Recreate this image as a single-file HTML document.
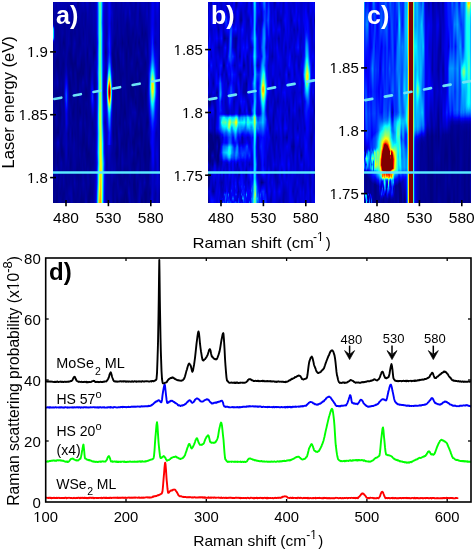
<!DOCTYPE html>
<html><head><meta charset="utf-8"><style>
html,body{margin:0;padding:0;background:#fff;width:475px;height:551px;overflow:hidden}
svg{display:block;position:absolute;left:0;top:0;will-change:transform}
text{font-family:"Liberation Sans",sans-serif}
i{position:absolute;top:2px;width:1px;height:201px}
</style></head><body>
<i style="left:53px;background:linear-gradient(#0000b5 0,#000089 10.5px,#0000a5 21.5px,#0000b3 22.5px,#0000d6 23.5px,#0018ff 24.5px,#006aff 25.5px,#00abff 26.5px,#00ceff 27.5px,#00e1ff 29.5px,#00ddff 34.5px,#00ceff 35.5px,#00abff 36.5px,#0069ff 37.5px,#0016ff 38.5px,#0000d4 39.5px,#0000b1 40.5px,#000095 42.5px,#000080 49.5px,#00008d 58.5px,#00008e 66.5px,#00008f 83.5px,#000089 91.5px,#0000a9 100.5px,#000080 118.5px,#000086 146.5px,#00008d 162.5px,#0000a0 171.5px,#00008e 181.5px,#000094 192.5px,#000085 100%)"></i><i style="left:54px;background:linear-gradient(#0000ba 0,#0000a7 13.5px,#000093 21.5px,#00009e 23.5px,#0000d0 26.5px,#0000dc 29.5px,#0000df 35.5px,#0000ca 37.5px,#0000ab 39.5px,#00009d 44.5px,#000094 63.5px,#00008a 71.5px,#0000a4 81.5px,#000092 92.5px,#000092 111.5px,#000080 119.5px,#000083 134.5px,#000092 141.5px,#000080 149.5px,#000085 163.5px,#000091 172.5px,#00008e 184.5px,#000091 100%)"></i><i style="left:55px;background:linear-gradient(#0000af 0,#0000a4 13.5px,#000093 24.5px,#000097 34.5px,#0000a9 51.5px,#00008a 61.5px,#0000a2 81.5px,#00008a 92.5px,#00008d 101.5px,#0000a6 111.5px,#000085 131.5px,#00009c 141.5px,#000088 151.5px,#00009d 171.5px,#000089 181.5px,#000094 192.5px,#00008c 100%)"></i><i style="left:56px;background:linear-gradient(#0000a8 0,#000091 32.5px,#0000ac 50.5px,#000080 59.5px,#000088 64.5px,#0000a2 71.5px,#0000a5 81.5px,#000087 92.5px,#000088 101.5px,#0000a7 111.5px,#00009a 123.5px,#000088 130.5px,#0000a9 141.5px,#000094 155.5px,#000094 161.5px,#0000b0 170.5px,#000090 183.5px,#000081 100%)"></i><i style="left:57px;background:linear-gradient(#0000b3 0,#00008a 31.5px,#0000a1 42.5px,#00009d 51.5px,#000080 58.5px,#000085 65.5px,#0000b4 80.5px,#000089 91.5px,#000098 121.5px,#000080 130.5px,#0000bb 140.5px,#000090 152.5px,#000083 160.5px,#0000af 170.5px,#00008d 183.5px,#000087 195.5px,#00008a 100%)"></i><i style="left:58px;background:linear-gradient(#0000b5 0,#00008d 28.5px,#00008f 34.5px,#00009b 44.5px,#000098 51.5px,#000080 59.5px,#000089 69.5px,#00009f 81.5px,#00008a 91.5px,#000092 102.5px,#000087 112.5px,#00008f 121.5px,#000080 130.5px,#0000bf 140.5px,#00008c 151.5px,#000090 166.5px,#00008f 177.5px,#00009a 100%)"></i><i style="left:59px;background:linear-gradient(#0000ae 0,#0000a7 15.5px,#00008d 34.5px,#000093 53.5px,#00008b 65.5px,#00008c 85.5px,#000084 104.5px,#000084 115.5px,#00009c 135.5px,#0000a5 141.5px,#000092 151.5px,#000097 162.5px,#00008a 171.5px,#00009d 181.5px,#00008d 191.5px,#0000a2 100%)"></i><i style="left:60px;background:linear-gradient(#0000b3 0,#00008e 43.5px,#000097 62.5px,#00008e 72.5px,#000097 81.5px,#00008a 92.5px,#00008d 102.5px,#000081 111.5px,#00009e 131.5px,#00008c 142.5px,#000092 152.5px,#0000a5 161.5px,#00009c 174.5px,#00009b 182.5px,#00008a 191.5px,#0000a0 100%)"></i><i style="left:61px;background:linear-gradient(#0000b6 0,#0000a1 15.5px,#00009f 33.5px,#000094 47.5px,#000091 63.5px,#000088 71.5px,#00009c 81.5px,#00008e 91.5px,#00009e 101.5px,#000093 111.5px,#0000a0 122.5px,#000080 149.5px,#000086 153.5px,#0000a9 160.5px,#00008d 186.5px,#000092 100%)"></i><i style="left:62px;background:linear-gradient(#0000b3 0,#000099 20.5px,#0000a5 31.5px,#000091 41.5px,#000097 52.5px,#000089 62.5px,#000093 82.5px,#000086 91.5px,#00009e 105.5px,#0000a2 122.5px,#000095 132.5px,#000099 141.5px,#000080 149.5px,#000086 154.5px,#00009d 161.5px,#000090 187.5px,#000084 100%)"></i><i style="left:63px;background:linear-gradient(#0000b3 0,#000098 22.5px,#00009d 31.5px,#000082 40.5px,#0000a0 50.5px,#000085 61.5px,#000097 78.5px,#00008f 94.5px,#00009b 113.5px,#00009a 123.5px,#0000a8 141.5px,#000088 151.5px,#000098 165.5px,#0000a5 177.5px,#0000a0 182.5px,#000088 191.5px,#000089 100%)"></i><i style="left:64px;background:linear-gradient(#0000b2 0,#000094 22.5px,#000094 32.5px,#000085 41.5px,#00009a 51.5px,#00008f 62.5px,#0000a4 75.5px,#0000c5 91.5px,#0000a6 106.5px,#000099 121.5px,#0000ae 133.5px,#0000ab 142.5px,#000095 152.5px,#00009c 181.5px,#000089 191.5px,#000095 100%)"></i><i style="left:65px;background:linear-gradient(#0000ad 0,#0000b2 11.5px,#000099 22.5px,#000091 43.5px,#0000ac 69.5px,#0000eb 82.5px,#0006ff 86.5px,#0025ff 91.5px,#0021ff 96.5px,#0000fe 101.5px,#0000d0 111.5px,#0000bc 125.5px,#0000b3 133.5px,#0000b0 151.5px,#00008f 175.5px,#000099 100%)"></i><i style="left:66px;background:linear-gradient(#0000ac 0,#0000b6 11.5px,#0000a1 22.5px,#0000a0 44.5px,#0000a3 54.5px,#0000a4 62.5px,#0000c4 72.5px,#0000ff 81.5px,#0051ff 93.5px,#004bff 97.5px,#0000fe 107.5px,#0000ea 111.5px,#0000e2 121.5px,#0000b6 131.5px,#0000ba 151.5px,#000099 165.5px,#00008a 181.5px,#0000a2 197.5px,#0000a4 100%)"></i><i style="left:67px;background:linear-gradient(#0000af 0,#000097 12.5px,#0000a5 45.5px,#000096 56.5px,#000091 62.5px,#0000a8 72.5px,#0002ff 91.5px,#0003ff 97.5px,#0000c6 111.5px,#0000c7 121.5px,#0000a0 131.5px,#0000a8 142.5px,#00009e 159.5px,#000090 182.5px,#0000a1 100%)"></i><i style="left:68px;background:linear-gradient(#0000b3 0,#00008c 11.5px,#0000a7 36.5px,#0000a8 41.5px,#00008d 51.5px,#000096 81.5px,#0000ba 91.5px,#0000a3 113.5px,#0000a5 121.5px,#00008d 131.5px,#00009c 141.5px,#00008d 151.5px,#0000a2 161.5px,#000090 176.5px,#000095 183.5px,#0000a2 191.5px,#000091 100%)"></i><i style="left:69px;background:linear-gradient(#0000b1 0,#00009f 33.5px,#0000a0 41.5px,#000085 51.5px,#000094 71.5px,#000080 81.5px,#00009f 104.5px,#000096 119.5px,#00009b 134.5px,#000090 180.5px,#0000a7 191.5px,#000091 100%)"></i><i style="left:70px;background:linear-gradient(#0000a8 0,#0000bb 11.5px,#00008c 31.5px,#000095 41.5px,#000080 52.5px,#000087 62.5px,#0000a0 70.5px,#000083 82.5px,#000085 93.5px,#0000a5 111.5px,#000094 121.5px,#0000ab 131.5px,#000085 162.5px,#00009c 183.5px,#0000ac 191.5px,#00009d 100%)"></i><i style="left:71px;background:linear-gradient(#0000a4 0,#00009d 14.5px,#00008b 33.5px,#00008b 44.5px,#000080 61.5px,#00009d 71.5px,#000089 91.5px,#000099 115.5px,#000094 132.5px,#00009c 142.5px,#00008b 160.5px,#000099 182.5px,#0000ac 192.5px,#0000a9 100%)"></i><i style="left:72px;background:linear-gradient(#0000a8 0,#00008d 22.5px,#000097 51.5px,#000080 61.5px,#000096 88.5px,#000093 102.5px,#000084 111.5px,#000097 121.5px,#000084 131.5px,#00009b 143.5px,#000090 179.5px,#0000a1 100%)"></i><i style="left:73px;background:linear-gradient(#0000ac 0,#000095 32.5px,#0000a6 44.5px,#0000a4 51.5px,#000084 62.5px,#000085 73.5px,#00009d 91.5px,#000080 110.5px,#000092 119.5px,#000097 133.5px,#0000a4 145.5px,#000097 173.5px,#000098 182.5px,#000088 191.5px,#000093 100%)"></i><i style="left:74px;background:linear-gradient(#0000b2 0,#00009e 14.5px,#000092 26.5px,#00008f 31.5px,#0000ae 41.5px,#000094 54.5px,#000083 61.5px,#000096 71.5px,#00008f 81.5px,#0000a0 91.5px,#000088 102.5px,#00008e 114.5px,#000096 122.5px,#000091 131.5px,#0000a6 141.5px,#00009d 153.5px,#00009f 162.5px,#000092 171.5px,#0000ae 180.5px,#00008d 191.5px,#00008f 100%)"></i><i style="left:75px;background:linear-gradient(#0000bf 0,#00009b 12.5px,#00008f 31.5px,#0000a3 41.5px,#00008c 54.5px,#000080 61.5px,#00009b 71.5px,#00009a 93.5px,#000090 102.5px,#000098 122.5px,#00008e 132.5px,#000099 143.5px,#000099 154.5px,#00009d 162.5px,#000090 171.5px,#0000a2 181.5px,#00008a 100%)"></i><i style="left:76px;background:linear-gradient(#0000b1 0,#00009b 25.5px,#00008a 68.5px,#000099 82.5px,#00008f 104.5px,#000097 145.5px,#000098 153.5px,#000089 171.5px,#000098 182.5px,#00008d 100%)"></i><i style="left:77px;background:linear-gradient(#000090 0,#0000a7 11.5px,#000098 22.5px,#00009b 32.5px,#00008f 44.5px,#000098 54.5px,#0000a1 61.5px,#000080 71.5px,#000088 84.5px,#000086 105.5px,#00008f 135.5px,#000092 145.5px,#000096 152.5px,#000083 171.5px,#000098 181.5px,#00008b 192.5px,#000094 100%)"></i><i style="left:78px;background:linear-gradient(#00008e 0,#0000a5 11.5px,#000093 22.5px,#000093 33.5px,#00008c 43.5px,#00009e 61.5px,#000082 71.5px,#00008b 94.5px,#00008b 113.5px,#00008e 136.5px,#000091 153.5px,#000087 171.5px,#00008f 183.5px,#00008f 194.5px,#000096 100%)"></i><i style="left:79px;background:linear-gradient(#0000a2 0,#0000a3 13.5px,#000087 40.5px,#00009d 53.5px,#00009a 61.5px,#000080 71.5px,#0000a4 91.5px,#000081 109.5px,#00009f 121.5px,#000092 142.5px,#00009d 151.5px,#000088 162.5px,#000095 186.5px,#000097 194.5px,#000091 100%)"></i><i style="left:80px;background:linear-gradient(#0000ab 0,#000090 41.5px,#0000a3 51.5px,#000080 69.5px,#000093 81.5px,#0000a6 91.5px,#000082 110.5px,#0000ab 120.5px,#00008e 141.5px,#000099 152.5px,#00008a 172.5px,#000098 191.5px,#000081 100%)"></i><i style="left:81px;background:linear-gradient(#0000b0 0,#00009b 14.5px,#00009a 51.5px,#000080 62.5px,#000085 74.5px,#000098 82.5px,#000092 111.5px,#0000a7 121.5px,#00008b 142.5px,#000092 163.5px,#00008d 172.5px,#000097 182.5px,#000080 100%)"></i><i style="left:82px;background:linear-gradient(#0000bc 0,#00009b 11.5px,#000098 33.5px,#0000a3 41.5px,#00008c 57.5px,#000080 71.5px,#0000a8 80.5px,#000090 92.5px,#000096 117.5px,#00008a 133.5px,#000084 142.5px,#000096 161.5px,#00009e 176.5px,#0000a0 182.5px,#000081 100%)"></i><i style="left:83px;background:linear-gradient(#0000bf 0,#00009d 11.5px,#0000a3 21.5px,#00008d 31.5px,#0000a0 41.5px,#00008b 57.5px,#000080 71.5px,#0000ab 80.5px,#00008c 92.5px,#00008e 123.5px,#000080 140.5px,#000097 151.5px,#00008e 163.5px,#00009f 175.5px,#0000a9 181.5px,#000088 197.5px,#000084 100%)"></i><i style="left:84px;background:linear-gradient(#0000ac 0,#00009c 16.5px,#00009f 34.5px,#0000a5 42.5px,#000087 62.5px,#00009b 81.5px,#00008d 92.5px,#000091 108.5px,#00009f 121.5px,#000086 132.5px,#000088 142.5px,#00009a 151.5px,#00008b 171.5px,#0000a0 181.5px,#000091 194.5px,#000091 100%)"></i><i style="left:85px;background:linear-gradient(#0000af 0,#000095 13.5px,#000094 22.5px,#0000a6 35.5px,#0000a3 50.5px,#000096 62.5px,#00009b 76.5px,#00008b 86.5px,#000083 91.5px,#000097 101.5px,#00008d 111.5px,#00009f 121.5px,#000089 146.5px,#00008f 154.5px,#00009a 161.5px,#00008d 172.5px,#0000a0 195.5px,#0000a9 100%)"></i><i style="left:86px;background:linear-gradient(#0000c4 0,#00009e 11.5px,#00009e 43.5px,#000094 54.5px,#0000a4 79.5px,#000086 87.5px,#000080 92.5px,#000099 101.5px,#000087 111.5px,#000097 130.5px,#000080 147.5px,#000089 157.5px,#000093 173.5px,#000090 186.5px,#0000a7 100%)"></i><i style="left:87px;background:linear-gradient(#0000c2 0,#00009f 24.5px,#0000a2 41.5px,#000084 51.5px,#000093 65.5px,#00009b 81.5px,#000086 91.5px,#00009a 101.5px,#00008e 114.5px,#000096 133.5px,#000081 153.5px,#00008b 162.5px,#0000a2 171.5px,#00008e 194.5px,#00008f 100%)"></i><i style="left:88px;background:linear-gradient(#0000b6 0,#000099 31.5px,#00009a 45.5px,#00008c 78.5px,#000096 111.5px,#000094 122.5px,#0000a3 135.5px,#0000a1 141.5px,#000080 151.5px,#000092 165.5px,#0000a0 176.5px,#00009c 182.5px,#000083 194.5px,#000080 100%)"></i><i style="left:89px;background:linear-gradient(#0000a5 0,#0000a5 14.5px,#000093 39.5px,#0000a8 51.5px,#000080 71.5px,#00009b 97.5px,#000094 115.5px,#0000a5 133.5px,#00009c 142.5px,#000084 151.5px,#000094 181.5px,#000080 191.5px,#000080 100%)"></i><i style="left:90px;background:linear-gradient(#00009e 0,#0000a9 12.5px,#000095 40.5px,#0000a7 51.5px,#00008b 68.5px,#000098 76.5px,#0000bc 93.5px,#000092 111.5px,#0000a1 132.5px,#00008b 162.5px,#000090 176.5px,#000084 191.5px,#000096 100%)"></i><i style="left:91px;background:linear-gradient(#0000ac 0,#00009b 42.5px,#0000a3 52.5px,#00009c 63.5px,#0000b2 74.5px,#0000ec 88.5px,#0003ff 92.5px,#0000fb 97.5px,#0000ba 107.5px,#000094 120.5px,#00009c 134.5px,#000096 154.5px,#000091 162.5px,#00009b 172.5px,#00008a 191.5px,#0000a0 100%)"></i><i style="left:92px;background:linear-gradient(#0000b1 0,#0000a6 25.5px,#0000a3 33.5px,#000098 45.5px,#0000a3 63.5px,#0000d4 81.5px,#0003ff 88.5px,#002aff 93.5px,#002bff 96.5px,#0000fd 102.5px,#0000d1 109.5px,#00008e 120.5px,#0000a1 147.5px,#000091 161.5px,#0000a5 171.5px,#00008b 191.5px,#00009b 100%)"></i><i style="left:93px;background:linear-gradient(#0000a9 0,#0000b3 12.5px,#0000ab 27.5px,#000093 43.5px,#000085 51.5px,#0000a6 65.5px,#0000ac 73.5px,#0000ad 81.5px,#0000de 91.5px,#0000f5 96.5px,#0000ea 101.5px,#0000a0 118.5px,#000090 131.5px,#0000a5 141.5px,#000094 160.5px,#0000a5 171.5px,#000097 183.5px,#00009f 100%)"></i><i style="left:94px;background:linear-gradient(#0000b0 0,#0000b0 14.5px,#0000a0 41.5px,#000080 50.5px,#0000ac 60.5px,#000094 84.5px,#00009a 91.5px,#0000bf 100.5px,#0000a6 112.5px,#0000a5 122.5px,#000094 131.5px,#0000a1 142.5px,#0000a0 155.5px,#0000ae 195.5px,#0000b4 100%)"></i><i style="left:95px;background:linear-gradient(#0000bf 0,#0000ac 30.5px,#0000a5 43.5px,#000095 50.5px,#0000bb 60.5px,#0000a2 72.5px,#0000a2 92.5px,#0000b2 101.5px,#0000ad 113.5px,#0000b2 122.5px,#0000a6 131.5px,#0000b4 144.5px,#0000b5 163.5px,#0000b4 172.5px,#0000c7 181.5px,#0000c4 192.5px,#0000d6 100%)"></i><i style="left:96px;background:linear-gradient(#0000d8 0,#0000d3 18.5px,#0000cb 33.5px,#0000c0 44.5px,#0000cb 56.5px,#0000d0 64.5px,#0000bd 81.5px,#0000d0 96.5px,#0000d6 125.5px,#0000d7 133.5px,#0000ef 151.5px,#0000dd 162.5px,#0000f1 173.5px,#0004ff 186.5px,#0022ff 100%)"></i><i style="left:97px;background:linear-gradient(#0027ff 0,#0020ff 16.5px,#0022ff 31.5px,#0005ff 40.5px,#0018ff 52.5px,#0015ff 61.5px,#002dff 70.5px,#000dff 81.5px,#0027ff 103.5px,#0042ff 120.5px,#0033ff 131.5px,#0053ff 146.5px,#005cff 150.5px,#0032ff 160.5px,#004fff 166.5px,#0069ff 170.5px,#0064ff 180.5px,#00aaff 191.5px,#00caff 100%)"></i><i style="left:98px;background:linear-gradient(#00baff 0,#00a2ff 11.5px,#00a9ff 31.5px,#0094ff 40.5px,#00adff 51.5px,#00acff 61.5px,#00c5ff 71.5px,#00b5ff 82.5px,#00c0ff 100.5px,#00eaff 112.5px,#00ecff 121.5px,#00d5ff 131.5px,#00f8ff 150.5px,#00d8ff 161.5px,#00efff 166.5px,#09fff6 170.5px,#2bffd4 181.5px,#a9ff56 100%)"></i><i style="left:99px;background:linear-gradient(#48ffb7 0,#36ffc9 12.5px,#3bffc4 41.5px,#4bffb4 53.5px,#52ffad 65.5px,#87ff78 102.5px,#a2ff5d 112.5px,#9fff60 121.5px,#7fff80 130.5px,#a7ff58 146.5px,#a7ff58 152.5px,#96ff69 162.5px,#fffe00 187.5px,#ffad00 100%)"></i><i style="left:100px;background:linear-gradient(#59ffa6 0,#55ffaa 25.5px,#6aff95 47.5px,#68ff97 53.5px,#5dffa2 61.5px,#78ff87 72.5px,#9eff61 81.5px,#aaff55 93.5px,#d1ff2e 114.5px,#d4ff2b 124.5px,#d2ff2d 131.5px,#f6ff09 142.5px,#fff900 163.5px,#ff9f00 100%)"></i><i style="left:101px;background:linear-gradient(#00e4ff 0,#00deff 12.5px,#00c7ff 20.5px,#00ecff 31.5px,#00e4ff 43.5px,#00ebff 64.5px,#04fffb 74.5px,#1affe5 81.5px,#23ffdc 92.5px,#3effc1 104.5px,#53ffac 120.5px,#acff53 141.5px,#bcff43 152.5px,#e1ff1e 164.5px,#e3ff1c 191.5px,#cdff32 100%)"></i><i style="left:102px;background:linear-gradient(#005aff 0,#0037ff 21.5px,#0053ff 31.5px,#0049ff 51.5px,#005dff 65.5px,#0059ff 90.5px,#007fff 103.5px,#0091ff 120.5px,#00ffff 141.5px,#12ffed 151.5px,#4dffb2 162.5px,#38ffc7 175.5px,#1dffe2 191.5px,#00ffff 100%)"></i><i style="left:103px;background:linear-gradient(#0008ff 0,#0000ef 10.5px,#0000ed 36.5px,#0000f9 54.5px,#0000fd 66.5px,#0000df 90.5px,#0005ff 99.5px,#0015ff 111.5px,#000eff 121.5px,#004dff 136.5px,#0062ff 141.5px,#0066ff 150.5px,#00a8ff 161.5px,#0098ff 167.5px,#0076ff 184.5px,#005bff 100%)"></i><i style="left:104px;background:linear-gradient(#0000df 0,#0000c6 12.5px,#0000bd 45.5px,#0000b9 51.5px,#0000d2 61.5px,#0000b0 90.5px,#0000dc 102.5px,#0000e6 110.5px,#0000ba 120.5px,#0000e5 131.5px,#0000fb 151.5px,#002cff 160.5px,#000bff 174.5px,#0000f7 190.5px,#0000f9 100%)"></i><i style="left:105px;background:linear-gradient(#0000c9 0,#0000b4 23.5px,#0000b1 34.5px,#0000a1 43.5px,#00008a 50.5px,#0000b5 60.5px,#0000a6 71.5px,#0000b9 82.5px,#0000b2 91.5px,#0000d8 110.5px,#0000a5 120.5px,#0000c3 131.5px,#0000b8 142.5px,#0000d0 162.5px,#0000c3 172.5px,#0000c8 181.5px,#0000b5 191.5px,#0000c2 100%)"></i><i style="left:106px;background:linear-gradient(#0000c2 0,#0000b4 21.5px,#0000a2 31.5px,#0000b0 41.5px,#000098 50.5px,#0000b7 61.5px,#0000ab 70.5px,#0001ff 81.5px,#0019ff 88.5px,#000bff 95.5px,#0000f7 99.5px,#0000e2 109.5px,#0000bc 127.5px,#0000b8 149.5px,#00009e 161.5px,#0000b3 181.5px,#0000a4 193.5px,#0000a4 100%)"></i><i style="left:107px;background:linear-gradient(#0000ce 0,#0000c4 22.5px,#0000b6 31.5px,#0000d2 41.5px,#0000c6 51.5px,#0002ff 66.5px,#0029ff 71.5px,#0086ff 77.5px,#00f5ff 83.5px,#16ffe9 85.5px,#35ffca 88.5px,#34ffcb 91.5px,#15ffea 94.5px,#06fff9 95.5px,#00d0ff 98.5px,#0061ff 105.5px,#0026ff 111.5px,#0000fd 121.5px,#0000cf 130.5px,#0000d6 142.5px,#0000c6 143.5px,#0000b5 153.5px,#00009f 161.5px,#0000aa 191.5px,#000093 100%)"></i><i style="left:108px;background:linear-gradient(#0000ea 0,#0000e4 22.5px,#0004ff 37.5px,#000dff 41.5px,#0000fa 49.5px,#000aff 53.5px,#003bff 60.5px,#008bff 66.5px,#00feff 72.5px,#67ff98 76.5px,#eaff15 80.5px,#fff200 81.5px,#ff7400 85.5px,#ff4800 87.5px,#ff3500 89.5px,#ff3d00 91.5px,#ff5e00 93.5px,#ffb300 96.5px,#fff600 98.5px,#c5ff3a 100.5px,#45ffba 104.5px,#10ffef 106.5px,#00f7ff 107.5px,#00b9ff 110.5px,#0077ff 116.5px,#0048ff 122.5px,#0007ff 130.5px,#000cff 141.5px,#0008ff 142.5px,#0000dd 143.5px,#0000be 155.5px,#0000a5 172.5px,#0000a8 192.5px,#00009a 100%)"></i><i style="left:109px;background:linear-gradient(#0000ff 0,#0000f4 21.5px,#0008ff 29.5px,#002bff 41.5px,#0023ff 50.5px,#005cff 59.5px,#00a2ff 64.5px,#00f0ff 68.5px,#09fff6 69.5px,#87ff78 74.5px,#e9ff16 77.5px,#ffef00 78.5px,#ff2100 83.5px,#f80000 84.5px,#b40000 86.5px,#8a0000 88.5px,#800000 90.5px,#990000 92.5px,#d00000 94.5px,#f40000 95.5px,#ff1b00 96.5px,#ffeb00 101.5px,#eaff15 102.5px,#5cffa3 106.5px,#09fff6 109.5px,#00e0ff 111.5px,#00a5ff 116.5px,#007cff 121.5px,#0028ff 130.5px,#0019ff 141.5px,#0014ff 142.5px,#0000dc 143.5px,#0000c0 152.5px,#0000b2 164.5px,#0000a3 175.5px,#0000ae 100%)"></i><i style="left:110px;background:linear-gradient(#0000e1 0,#0000e9 11.5px,#0000d5 21.5px,#0000fb 42.5px,#0005ff 52.5px,#002fff 60.5px,#007fff 67.5px,#00e5ff 73.5px,#00faff 74.5px,#2affd5 76.5px,#9aff65 80.5px,#fffc00 83.5px,#ffa200 86.5px,#ff7c00 88.5px,#ff6e00 90.5px,#ff8500 92.5px,#ffcf00 95.5px,#ffee00 96.5px,#f0ff0f 97.5px,#30ffcf 103.5px,#00f9ff 105.5px,#008fff 110.5px,#0056ff 116.5px,#000dff 130.5px,#0000f9 135.5px,#0000e5 142.5px,#0000c1 143.5px,#0000b0 153.5px,#0000a5 171.5px,#00009e 182.5px,#0000b0 100%)"></i><i style="left:111px;background:linear-gradient(#0000b5 0,#0000d0 10.5px,#0000b2 21.5px,#0000c4 41.5px,#0000b1 51.5px,#0000f0 66.5px,#0005ff 69.5px,#004bff 76.5px,#00ddff 86.5px,#00f4ff 89.5px,#00eaff 92.5px,#00a7ff 97.5px,#0050ff 103.5px,#000fff 110.5px,#0000f9 113.5px,#0000d7 121.5px,#0000c1 141.5px,#0000be 142.5px,#0000b1 143.5px,#0000a3 152.5px,#0000b1 171.5px,#00009f 183.5px,#0000a6 196.5px,#0000ac 100%)"></i><i style="left:112px;background:linear-gradient(#0000aa 0,#0000c2 11.5px,#0000aa 35.5px,#0000a8 41.5px,#000088 51.5px,#000091 61.5px,#0000c0 71.5px,#0000e5 83.5px,#0000f5 90.5px,#0000bf 105.5px,#000098 130.5px,#0000aa 141.5px,#00009c 151.5px,#0000b4 171.5px,#000094 185.5px,#000091 193.5px,#000099 100%)"></i><i style="left:113px;background:linear-gradient(#0000b0 0,#0000aa 16.5px,#0000a4 32.5px,#000080 55.5px,#000080 64.5px,#0000a5 70.5px,#000096 81.5px,#0000a5 91.5px,#000095 103.5px,#000094 122.5px,#000084 131.5px,#000099 142.5px,#00009e 155.5px,#0000ac 171.5px,#00008d 181.5px,#00008a 100%)"></i><i style="left:114px;background:linear-gradient(#0000ad 0,#00009b 22.5px,#0000a1 31.5px,#000085 41.5px,#00008d 51.5px,#000080 57.5px,#000084 67.5px,#00008d 71.5px,#000089 83.5px,#000096 114.5px,#000093 132.5px,#00009f 142.5px,#00009a 152.5px,#0000ac 168.5px,#0000a3 173.5px,#00008d 181.5px,#00009a 193.5px,#000099 100%)"></i><i style="left:115px;background:linear-gradient(#0000a1 0,#00009e 28.5px,#000086 41.5px,#00009b 51.5px,#000085 62.5px,#000091 94.5px,#000097 102.5px,#00008b 114.5px,#000091 132.5px,#0000a0 141.5px,#00008c 151.5px,#0000a4 162.5px,#00009f 173.5px,#000092 182.5px,#0000a0 100%)"></i><i style="left:116px;background:linear-gradient(#0000a0 0,#0000a3 13.5px,#000092 38.5px,#000093 75.5px,#000096 102.5px,#000086 111.5px,#000090 121.5px,#000080 131.5px,#00008b 141.5px,#000080 151.5px,#000097 166.5px,#000094 189.5px,#00008a 100%)"></i><i style="left:117px;background:linear-gradient(#0000a9 0,#0000a1 13.5px,#000091 23.5px,#00009b 38.5px,#00009c 41.5px,#000081 51.5px,#00009d 94.5px,#000096 118.5px,#000087 136.5px,#000080 152.5px,#000093 161.5px,#000090 171.5px,#0000a5 181.5px,#00008d 195.5px,#000080 100%)"></i><i style="left:118px;background:linear-gradient(#0000ac 0,#000094 43.5px,#000080 57.5px,#000089 66.5px,#000093 75.5px,#0000a0 96.5px,#000093 121.5px,#0000a9 131.5px,#000090 146.5px,#000092 153.5px,#00009d 161.5px,#00008b 171.5px,#0000a1 184.5px,#00009d 193.5px,#00008e 100%)"></i><i style="left:119px;background:linear-gradient(#0000b2 0,#0000a2 12.5px,#0000a5 29.5px,#000095 42.5px,#00009b 51.5px,#000082 61.5px,#00009e 101.5px,#000088 121.5px,#0000a8 132.5px,#0000a8 143.5px,#00008d 172.5px,#000090 182.5px,#0000a4 191.5px,#000095 100%)"></i><i style="left:120px;background:linear-gradient(#0000af 0,#00009c 12.5px,#00009b 33.5px,#000094 41.5px,#0000a8 51.5px,#000088 72.5px,#00008d 114.5px,#000089 121.5px,#00009d 132.5px,#000090 159.5px,#000087 181.5px,#0000a5 190.5px,#000087 100%)"></i><i style="left:121px;background:linear-gradient(#0000a3 0,#000096 30.5px,#00008d 41.5px,#00009f 52.5px,#00008b 73.5px,#00008d 93.5px,#000086 102.5px,#000094 116.5px,#00009b 131.5px,#000088 141.5px,#0000a2 155.5px,#0000a2 162.5px,#000089 177.5px,#00008b 182.5px,#0000a0 190.5px,#000080 100%)"></i><i style="left:122px;background:linear-gradient(#0000af 0,#00009f 15.5px,#00009b 31.5px,#000081 40.5px,#0000a1 52.5px,#00009f 62.5px,#00008c 71.5px,#0000a1 82.5px,#000099 94.5px,#00008e 103.5px,#000095 132.5px,#000088 141.5px,#0000a9 153.5px,#0000ae 161.5px,#000089 180.5px,#000096 191.5px,#000080 100%)"></i><i style="left:123px;background:linear-gradient(#0000ba 0,#00009c 12.5px,#00009f 31.5px,#00008d 41.5px,#0000a6 52.5px,#0000a8 61.5px,#00008e 71.5px,#00009f 82.5px,#000089 112.5px,#000090 123.5px,#000089 142.5px,#0000a5 160.5px,#00008e 172.5px,#00008f 191.5px,#000080 199.5px,#000080 100%)"></i><i style="left:124px;background:linear-gradient(#0000ae 0,#0000a7 15.5px,#00008f 42.5px,#000099 58.5px,#000096 73.5px,#00009d 84.5px,#000080 110.5px,#00008b 115.5px,#00009f 120.5px,#000088 132.5px,#000095 154.5px,#00009c 161.5px,#000085 171.5px,#000097 181.5px,#000082 193.5px,#000080 100%)"></i><i style="left:125px;background:linear-gradient(#0000a9 0,#0000b7 11.5px,#000099 26.5px,#00008a 54.5px,#00009f 92.5px,#000081 111.5px,#00009b 121.5px,#000085 143.5px,#000091 154.5px,#00009c 161.5px,#000088 171.5px,#00009d 180.5px,#000080 190.5px,#00008d 100%)"></i><i style="left:126px;background:linear-gradient(#0000b3 0,#0000b0 11.5px,#000091 22.5px,#000091 34.5px,#000097 41.5px,#000081 51.5px,#00008c 72.5px,#000090 83.5px,#00009c 93.5px,#000091 114.5px,#00008f 129.5px,#000080 142.5px,#00009c 161.5px,#00008b 171.5px,#000096 181.5px,#000080 193.5px,#000080 100%)"></i><i style="left:127px;background:linear-gradient(#0000b9 0,#00008b 23.5px,#00008d 45.5px,#00008d 66.5px,#00008e 94.5px,#000093 105.5px,#000098 117.5px,#000096 123.5px,#000089 132.5px,#00009b 161.5px,#000089 171.5px,#000094 184.5px,#00008d 192.5px,#000080 199.5px,#000080 100%)"></i><i style="left:128px;background:linear-gradient(#0000b7 0,#0000a2 14.5px,#000092 22.5px,#00008d 32.5px,#000080 40.5px,#00009c 51.5px,#000091 62.5px,#000096 73.5px,#000087 92.5px,#00009e 120.5px,#000087 131.5px,#0000a1 142.5px,#00009d 162.5px,#00008e 172.5px,#00009b 183.5px,#0000ae 190.5px,#00008c 100%)"></i><i style="left:129px;background:linear-gradient(#0000a8 0,#0000c3 10.5px,#00009a 21.5px,#00008d 35.5px,#000089 43.5px,#000094 66.5px,#00008b 91.5px,#0000a7 121.5px,#000094 133.5px,#00009f 156.5px,#00009e 172.5px,#00008c 180.5px,#0000b2 191.5px,#0000a8 100%)"></i><i style="left:130px;background:linear-gradient(#00009e 0,#0000b6 11.5px,#000093 34.5px,#000087 48.5px,#00008b 53.5px,#00009b 61.5px,#000082 87.5px,#00008a 93.5px,#00009d 101.5px,#000099 111.5px,#0000b0 121.5px,#000092 140.5px,#00009d 152.5px,#000098 162.5px,#0000a4 171.5px,#000093 181.5px,#0000a5 197.5px,#0000a7 100%)"></i><i style="left:131px;background:linear-gradient(#0000a4 0,#0000a0 13.5px,#0000a7 21.5px,#000092 34.5px,#000088 51.5px,#0000a5 61.5px,#000089 76.5px,#000080 84.5px,#000084 93.5px,#0000a1 101.5px,#00009d 125.5px,#000098 142.5px,#0000a4 151.5px,#000092 162.5px,#00009a 196.5px,#000099 100%)"></i><i style="left:132px;background:linear-gradient(#0000ad 0,#00009c 11.5px,#0000a5 21.5px,#00008c 31.5px,#000095 43.5px,#000095 52.5px,#0000a4 61.5px,#000082 79.5px,#000082 94.5px,#0000ab 110.5px,#000090 121.5px,#000099 131.5px,#000085 140.5px,#0000a6 150.5px,#00008a 161.5px,#000095 174.5px,#00009b 100%)"></i><i style="left:133px;background:linear-gradient(#0000b5 0,#00009d 11.5px,#0000a3 21.5px,#00008b 31.5px,#00009b 43.5px,#000094 70.5px,#000084 84.5px,#000083 95.5px,#0000ac 110.5px,#00008f 121.5px,#00009a 131.5px,#000080 139.5px,#00008a 146.5px,#000094 151.5px,#000082 161.5px,#000095 171.5px,#000082 182.5px,#00008d 193.5px,#00009e 100%)"></i><i style="left:134px;background:linear-gradient(#0000ac 0,#00009a 12.5px,#00009a 30.5px,#000093 44.5px,#000091 66.5px,#000093 75.5px,#000096 82.5px,#00008a 93.5px,#000094 102.5px,#0000af 110.5px,#00008e 127.5px,#000080 141.5px,#000092 151.5px,#000085 162.5px,#000088 172.5px,#000080 183.5px,#000086 194.5px,#000099 100%)"></i><i style="left:135px;background:linear-gradient(#00009a 0,#00009e 31.5px,#000086 41.5px,#00009a 51.5px,#000089 66.5px,#000098 91.5px,#000080 100.5px,#0000ae 110.5px,#000080 131.5px,#00009d 151.5px,#000089 161.5px,#000093 172.5px,#000080 190.5px,#000093 100%)"></i><i style="left:136px;background:linear-gradient(#00009f 0,#0000ab 20.5px,#000090 35.5px,#000094 44.5px,#00009c 51.5px,#000084 61.5px,#000094 71.5px,#00008a 82.5px,#000091 92.5px,#000087 101.5px,#00009e 111.5px,#000085 124.5px,#000085 132.5px,#000095 144.5px,#00008d 161.5px,#0000a4 171.5px,#000088 192.5px,#000090 100%)"></i><i style="left:137px;background:linear-gradient(#0000b5 0,#0000ae 22.5px,#000099 33.5px,#00009f 51.5px,#000083 60.5px,#0000a1 71.5px,#00008f 84.5px,#000093 106.5px,#000087 132.5px,#000093 141.5px,#000080 151.5px,#0000aa 170.5px,#00008c 181.5px,#00009b 100%)"></i><i style="left:138px;background:linear-gradient(#0000b6 0,#0000a3 23.5px,#0000a2 31.5px,#000089 40.5px,#0000a9 50.5px,#00008b 61.5px,#000093 73.5px,#000087 107.5px,#000089 112.5px,#00009e 121.5px,#000088 131.5px,#000098 141.5px,#000080 150.5px,#00009e 162.5px,#00009d 173.5px,#000095 182.5px,#0000ad 100%)"></i><i style="left:139px;background:linear-gradient(#0000ac 0,#000092 11.5px,#0000a2 31.5px,#000083 40.5px,#0000a0 51.5px,#000093 64.5px,#000085 74.5px,#000086 108.5px,#000097 117.5px,#00009d 121.5px,#00008c 131.5px,#00009d 141.5px,#00008a 151.5px,#000095 162.5px,#00008f 171.5px,#0000a9 182.5px,#0000b6 100%)"></i><i style="left:140px;background:linear-gradient(#0000ae 0,#000093 11.5px,#00009d 32.5px,#000090 45.5px,#000096 53.5px,#0000a3 61.5px,#000088 71.5px,#00008c 82.5px,#000080 92.5px,#000091 112.5px,#000085 130.5px,#000096 141.5px,#00008d 154.5px,#00008a 167.5px,#00008b 171.5px,#0000ac 181.5px,#0000a2 196.5px,#00009c 100%)"></i><i style="left:141px;background:linear-gradient(#0000b5 0,#00009b 13.5px,#00008c 32.5px,#000098 41.5px,#000089 51.5px,#0000a0 61.5px,#00008a 71.5px,#000099 81.5px,#000080 91.5px,#000085 103.5px,#000097 111.5px,#000080 130.5px,#000095 153.5px,#000098 173.5px,#0000a5 190.5px,#000080 199.5px,#000080 100%)"></i><i style="left:142px;background:linear-gradient(#0000ba 0,#000083 31.5px,#00009a 41.5px,#00008a 51.5px,#000098 61.5px,#00008d 71.5px,#00009c 81.5px,#000080 95.5px,#000083 104.5px,#000097 112.5px,#000091 123.5px,#000083 131.5px,#000096 149.5px,#000098 191.5px,#000080 100%)"></i><i style="left:143px;background:linear-gradient(#0000bb 0,#0000a0 18.5px,#000090 33.5px,#000091 49.5px,#00008f 72.5px,#00009e 81.5px,#000085 101.5px,#00009a 116.5px,#000093 143.5px,#000089 151.5px,#00009a 162.5px,#000097 172.5px,#0000a4 181.5px,#00008f 192.5px,#000090 100%)"></i><i style="left:144px;background:linear-gradient(#0000b5 0,#00009b 24.5px,#00008e 33.5px,#00009d 49.5px,#000089 62.5px,#000095 74.5px,#0000a1 81.5px,#000090 94.5px,#00009b 124.5px,#000080 152.5px,#00008f 162.5px,#000091 171.5px,#0000b4 180.5px,#000083 190.5px,#00008b 100%)"></i><i style="left:145px;background:linear-gradient(#0000ae 0,#0000a8 21.5px,#00008a 31.5px,#0000af 48.5px,#0000b0 51.5px,#000086 60.5px,#00009e 78.5px,#000096 83.5px,#000081 91.5px,#000099 112.5px,#000080 154.5px,#00008a 164.5px,#00008f 172.5px,#0000a3 180.5px,#000080 190.5px,#000080 100%)"></i><i style="left:146px;background:linear-gradient(#0000b1 0,#0000bc 11.5px,#000091 32.5px,#00009e 43.5px,#0000b1 50.5px,#000095 61.5px,#00009c 72.5px,#00008d 91.5px,#000097 111.5px,#000084 121.5px,#000090 133.5px,#000088 153.5px,#000091 182.5px,#000081 192.5px,#000086 100%)"></i><i style="left:147px;background:linear-gradient(#0000ae 0,#0000be 11.5px,#0000a7 24.5px,#000093 42.5px,#00009b 55.5px,#0000a4 66.5px,#0000a8 71.5px,#000090 80.5px,#0000af 92.5px,#0000ab 102.5px,#000080 120.5px,#000097 131.5px,#00008c 145.5px,#00008d 175.5px,#00008e 100%)"></i><i style="left:148px;background:linear-gradient(#0000a1 0,#0000af 19.5px,#0000af 39.5px,#0000a7 60.5px,#0000d0 71.5px,#0000cd 81.5px,#0000e0 90.5px,#0000c9 102.5px,#00008f 120.5px,#0000a7 130.5px,#000087 142.5px,#00008b 158.5px,#00008a 173.5px,#000094 183.5px,#000091 100%)"></i><i style="left:149px;background:linear-gradient(#0000ad 0,#0000b5 23.5px,#0000b1 31.5px,#0000c9 41.5px,#0000c8 55.5px,#0000d7 61.5px,#0004ff 67.5px,#0021ff 71.5px,#004aff 84.5px,#0039ff 91.5px,#0000fd 103.5px,#0000be 120.5px,#0000a6 137.5px,#000080 150.5px,#00009b 162.5px,#0000a2 181.5px,#000088 191.5px,#00009b 100%)"></i><i style="left:150px;background:linear-gradient(#0000c1 0,#0000c7 15.5px,#0000cc 29.5px,#0000e4 51.5px,#0005ff 58.5px,#002fff 63.5px,#00c6ff 76.5px,#00f5ff 82.5px,#00f6ff 86.5px,#00b7ff 94.5px,#0037ff 108.5px,#0001ff 116.5px,#0000cb 129.5px,#0000d7 140.5px,#00009b 150.5px,#0000b3 161.5px,#0000aa 172.5px,#0000b0 181.5px,#000091 190.5px,#0000b3 100%)"></i><i style="left:151px;background:linear-gradient(#0000d7 0,#0000e6 24.5px,#0004ff 41.5px,#002aff 52.5px,#0066ff 60.5px,#00c0ff 67.5px,#05fffa 71.5px,#9aff65 79.5px,#b9ff46 82.5px,#bdff42 85.5px,#a8ff57 88.5px,#35ffca 96.5px,#07fff8 99.5px,#00e5ff 101.5px,#007eff 108.5px,#003cff 115.5px,#0001ff 125.5px,#0000eb 131.5px,#0000f2 141.5px,#0000d1 151.5px,#0000cc 162.5px,#0000b8 172.5px,#0000b6 191.5px,#0000d1 100%)"></i><i style="left:152px;background:linear-gradient(#0000ee 0,#0000f0 22.5px,#0008ff 32.5px,#0041ff 48.5px,#007bff 57.5px,#00bcff 63.5px,#00f7ff 67.5px,#1bffe4 69.5px,#f9ff06 79.5px,#ffdd00 83.5px,#ffe300 86.5px,#f8ff07 89.5px,#89ff76 95.5px,#02fffd 102.5px,#00a1ff 109.5px,#0047ff 118.5px,#0006ff 129.5px,#0000fb 143.5px,#0000fb 154.5px,#0000d3 169.5px,#0000c2 182.5px,#0000d3 100%)"></i><i style="left:153px;background:linear-gradient(#0000e9 0,#0000ec 13.5px,#0000e6 22.5px,#0000f2 34.5px,#0000fa 41.5px,#0027ff 49.5px,#006cff 59.5px,#00bbff 66.5px,#00f9ff 70.5px,#53ffac 74.5px,#cdff32 80.5px,#e3ff1c 83.5px,#e0ff1f 86.5px,#b3ff4c 90.5px,#08fff7 99.5px,#00e7ff 101.5px,#0099ff 108.5px,#0065ff 113.5px,#001cff 121.5px,#0000fc 129.5px,#0000ed 141.5px,#0000f9 152.5px,#0000ee 161.5px,#0000c4 171.5px,#0000b7 198.5px,#0000b5 100%)"></i><i style="left:154px;background:linear-gradient(#0000d8 0,#0000ca 22.5px,#0000d3 31.5px,#0000c0 40.5px,#0003ff 53.5px,#0047ff 63.5px,#0090ff 70.5px,#00fcff 77.5px,#2effd1 81.5px,#3effc1 85.5px,#2effd1 89.5px,#00fbff 93.5px,#0085ff 101.5px,#0042ff 109.5px,#0000fe 120.5px,#0000d7 136.5px,#0000c6 162.5px,#0000b4 171.5px,#0000b9 182.5px,#00009d 100%)"></i><i style="left:155px;background:linear-gradient(#0000d6 0,#0000bb 21.5px,#0000c9 31.5px,#0000b1 40.5px,#0001ff 60.5px,#004eff 73.5px,#008dff 84.5px,#008bff 90.5px,#0022ff 100.5px,#0000fe 110.5px,#0000e7 121.5px,#0000bd 131.5px,#0000c5 151.5px,#0000b1 162.5px,#0000c1 181.5px,#0000a0 191.5px,#0000a4 100%)"></i><i style="left:156px;background:linear-gradient(#0000e8 0,#0000c2 21.5px,#0000cd 31.5px,#0000bd 41.5px,#0005ff 69.5px,#0023ff 89.5px,#0000fb 97.5px,#0000ea 101.5px,#0000d9 120.5px,#0000ac 130.5px,#0000d8 151.5px,#0000c4 162.5px,#0000c7 181.5px,#0000ae 191.5px,#0000b7 100%)"></i><i style="left:157px;background:linear-gradient(#0000f4 0,#0000d3 13.5px,#0000cd 24.5px,#0000cc 33.5px,#0000c7 42.5px,#0000e7 70.5px,#0000e1 82.5px,#0000e6 95.5px,#0000d7 104.5px,#0000c7 112.5px,#0000c4 122.5px,#0000b5 131.5px,#0000d9 152.5px,#0000d8 169.5px,#0000bc 193.5px,#0000bf 100%)"></i><i style="left:158px;background:linear-gradient(#0000dd 0,#0000c9 12.5px,#0000c9 27.5px,#0000c3 46.5px,#0000bd 77.5px,#0000c6 96.5px,#0000c8 101.5px,#0000b0 111.5px,#0000bc 122.5px,#0000b3 135.5px,#0000c5 166.5px,#0000c6 176.5px,#0000b1 194.5px,#0000b1 100%)"></i><i style="left:159px;background:linear-gradient(#0000b2 0,#0000ad 23.5px,#0000a3 32.5px,#0000af 51.5px,#00008e 60.5px,#0000af 72.5px,#0000af 82.5px,#00009a 97.5px,#00009d 102.5px,#0000b0 111.5px,#00009a 121.5px,#0000ac 132.5px,#000099 145.5px,#00008b 155.5px,#00008f 163.5px,#0000bd 180.5px,#00009a 192.5px,#000095 100%)"></i><i style="left:208px;background:linear-gradient(#0000e0 0,#0000bf 9.5px,#0000e9 18.5px,#0000d7 28.5px,#0000a9 36.5px,#0000fd 43.5px,#0016ff 45.5px,#0000fa 54.5px,#0000b0 63.5px,#0000e6 72.5px,#00008a 81.5px,#0000e0 90.5px,#000080 99.5px,#0000e6 108.5px,#000080 117.5px,#00008e 128.5px,#000080 131.5px,#000082 138.5px,#0000b4 144.5px,#000080 150.5px,#000080 157.5px,#0000c0 161.5px,#0000d1 162.5px,#0000be 166.5px,#000080 174.5px,#000080 183.5px,#0000d3 189.5px,#000095 100%)"></i><i style="left:209px;background:linear-gradient(#0000c6 0,#0000f2 9.5px,#0000d6 19.5px,#0000d6 27.5px,#0004ff 34.5px,#0011ff 36.5px,#0000fa 54.5px,#0000d0 63.5px,#0000f0 73.5px,#0000d1 87.5px,#0000c6 90.5px,#000080 96.5px,#000082 102.5px,#0000d5 108.5px,#0000b2 118.5px,#0000b7 126.5px,#0000a1 129.5px,#000080 132.5px,#000080 160.5px,#00009d 163.5px,#000092 170.5px,#000080 180.5px,#0000dd 189.5px,#0000bb 100%)"></i><i style="left:210px;background:linear-gradient(#0000a7 0,#0000e0 9.5px,#0000c5 27.5px,#0000f0 36.5px,#0000d5 54.5px,#0004ff 63.5px,#0000d4 72.5px,#0000e2 82.5px,#0000cf 90.5px,#000080 98.5px,#000080 100.5px,#0000dc 108.5px,#0000cf 119.5px,#0000d2 126.5px,#0000b3 129.5px,#000084 132.5px,#000080 159.5px,#0000a7 164.5px,#0000b3 174.5px,#0000f6 198.5px,#0000ea 100%)"></i><i style="left:211px;background:linear-gradient(#0000aa 0,#0000f9 18.5px,#0000c1 27.5px,#0000e5 45.5px,#0000c4 54.5px,#0000fc 60.5px,#0018ff 63.5px,#0000fd 66.5px,#0000c8 72.5px,#0000d3 83.5px,#0000ba 95.5px,#0000af 99.5px,#0000f4 108.5px,#0000bd 117.5px,#0000c5 126.5px,#0000b1 129.5px,#000082 133.5px,#000084 148.5px,#0000a6 153.5px,#000090 158.5px,#00009e 162.5px,#0000bb 166.5px,#0000cb 173.5px,#0000c8 184.5px,#0000c0 189.5px,#0005ff 197.5px,#000dff 198.5px,#0001ff 100%)"></i><i style="left:212px;background:linear-gradient(#0000f3 0,#0000cf 9.5px,#0000f7 18.5px,#0000cc 28.5px,#0000d2 37.5px,#0000f7 45.5px,#0000e0 55.5px,#0000f2 63.5px,#0000c1 76.5px,#0000b3 81.5px,#0000d9 90.5px,#0000b5 99.5px,#0002ff 108.5px,#0000b9 117.5px,#0000b2 128.5px,#00008f 133.5px,#000080 140.5px,#000082 147.5px,#0000bc 153.5px,#000090 158.5px,#00008c 162.5px,#0000ba 166.5px,#0000df 171.5px,#0000a6 187.5px,#0000a1 189.5px,#0002ff 197.5px,#000eff 198.5px,#0008ff 100%)"></i><i style="left:213px;background:linear-gradient(#0006ff 0,#0000e4 4.5px,#0000ba 9.5px,#0000e3 19.5px,#0000dc 37.5px,#0000f0 47.5px,#0000e8 57.5px,#0000ca 73.5px,#00009f 81.5px,#0000e7 90.5px,#0000a0 99.5px,#0000f2 108.5px,#0000c0 118.5px,#0000b1 129.5px,#00009b 133.5px,#000097 136.5px,#000080 142.5px,#000082 146.5px,#0000b2 153.5px,#00009c 158.5px,#0000ab 162.5px,#0000d3 166.5px,#0000f1 171.5px,#0000cb 181.5px,#000096 189.5px,#0005ff 198.5px,#0000fe 100%)"></i><i style="left:214px;background:linear-gradient(#0000e6 0,#0000b5 9.5px,#0000ff 17.5px,#000aff 18.5px,#0000f3 22.5px,#0000d8 27.5px,#0000e9 37.5px,#0000d6 46.5px,#0000e3 58.5px,#0000d8 70.5px,#0000c2 82.5px,#0000da 90.5px,#0000a7 99.5px,#0000b9 110.5px,#0000a3 125.5px,#00009b 130.5px,#00008c 134.5px,#000089 150.5px,#000094 155.5px,#0000b2 159.5px,#0000e6 163.5px,#0000f7 170.5px,#0000e3 175.5px,#0000b8 185.5px,#0000ab 189.5px,#0000f3 198.5px,#0000ed 100%)"></i><i style="left:215px;background:linear-gradient(#0000e9 0,#0000d2 9.5px,#0000ff 18.5px,#0000da 27.5px,#0000eb 36.5px,#0000c5 45.5px,#0000d8 56.5px,#0000da 65.5px,#0000eb 74.5px,#0000e7 82.5px,#0000c6 93.5px,#0000b5 101.5px,#000099 108.5px,#0000bc 125.5px,#0000af 129.5px,#000089 133.5px,#000084 137.5px,#000091 145.5px,#000089 154.5px,#00009f 158.5px,#0000dc 163.5px,#0000f5 170.5px,#0000ef 172.5px,#0000b2 180.5px,#0000ed 199.5px,#0000ed 100%)"></i><i style="left:216px;background:linear-gradient(#0000e0 0,#0000bb 18.5px,#0000fa 34.5px,#0001ff 36.5px,#0000c5 45.5px,#0000d9 55.5px,#0000c4 63.5px,#0002ff 72.5px,#0005ff 81.5px,#0000a6 90.5px,#0000db 99.5px,#0000bf 109.5px,#0000d5 119.5px,#0000f0 126.5px,#0000d2 129.5px,#000097 133.5px,#000086 135.5px,#0000a8 144.5px,#00008d 158.5px,#0000b2 163.5px,#0000dc 170.5px,#0000dc 173.5px,#0000d0 181.5px,#0000e6 190.5px,#0000da 199.5px,#0000dd 100%)"></i><i style="left:217px;background:linear-gradient(#0000d8 0,#0000cd 10.5px,#0000a9 18.5px,#0000c4 28.5px,#0000f7 36.5px,#0000bc 45.5px,#0000e6 54.5px,#0000d3 64.5px,#0000e9 75.5px,#0000fe 81.5px,#0000a2 90.5px,#0000e7 99.5px,#0000f1 119.5px,#0000f9 126.5px,#0000d5 129.5px,#000092 133.5px,#000080 135.5px,#0000b6 144.5px,#000080 153.5px,#000083 160.5px,#0000bf 167.5px,#0000d6 172.5px,#0000e0 185.5px,#0000da 100%)"></i><i style="left:218px;background:linear-gradient(#0000e4 0,#0000fe 9.5px,#0000c4 21.5px,#00009e 27.5px,#0000d8 36.5px,#0000a6 45.5px,#0000e3 54.5px,#0000e4 64.5px,#0000c3 72.5px,#0005ff 81.5px,#0000dd 90.5px,#0000ef 95.5px,#0000f5 110.5px,#0004ff 114.5px,#000bff 116.5px,#0011ff 126.5px,#0000f8 128.5px,#00009e 133.5px,#000087 135.5px,#000086 147.5px,#000080 158.5px,#00009d 162.5px,#0000c9 166.5px,#0000ed 171.5px,#0000d7 182.5px,#0000e0 192.5px,#0000f5 100%)"></i><i style="left:219px;background:linear-gradient(#0000d8 0,#0001ff 9.5px,#0000d5 22.5px,#0000be 27.5px,#0000de 36.5px,#0000a1 45.5px,#0000fb 63.5px,#0000f0 72.5px,#0002ff 74.5px,#0047ff 81.5px,#0046ff 87.5px,#0056ff 91.5px,#0059ff 94.5px,#0022ff 100.5px,#0014ff 106.5px,#000eff 109.5px,#0002ff 111.5px,#0008ff 112.5px,#004eff 115.5px,#0047ff 120.5px,#0042ff 125.5px,#002dff 127.5px,#000aff 129.5px,#0000f3 130.5px,#0000b5 133.5px,#000090 137.5px,#000080 142.5px,#000085 145.5px,#0000c1 153.5px,#0000a7 159.5px,#0000b3 162.5px,#0000d8 167.5px,#0000e8 171.5px,#0000c6 180.5px,#0000e5 187.5px,#0000ef 190.5px,#0000e2 193.5px,#0000d5 197.5px,#0000de 100%)"></i><i style="left:220px;background:linear-gradient(#0000c2 0,#0000d9 9.5px,#0000ba 18.5px,#0000e9 29.5px,#0000f9 36.5px,#0000b8 45.5px,#0000ca 54.5px,#0002ff 61.5px,#0012ff 63.5px,#0000fb 72.5px,#003dff 78.5px,#0065ff 81.5px,#0076ff 86.5px,#009eff 92.5px,#0090ff 94.5px,#0031ff 99.5px,#001dff 104.5px,#0022ff 108.5px,#0007ff 111.5px,#0014ff 112.5px,#0090ff 115.5px,#0089ff 121.5px,#006bff 125.5px,#0028ff 129.5px,#0000fa 131.5px,#0000da 133.5px,#0000b2 138.5px,#0000a8 141.5px,#0000ee 151.5px,#0000ec 153.5px,#0000b3 159.5px,#0000b4 162.5px,#0000c6 168.5px,#0000c3 173.5px,#0000b1 180.5px,#0000dd 199.5px,#0000fd 100%)"></i><i style="left:221px;background:linear-gradient(#0000c5 0,#0000be 12.5px,#0000b1 18.5px,#0002ff 33.5px,#0011ff 36.5px,#0000fd 38.5px,#0000ba 45.5px,#0000d5 55.5px,#0004ff 61.5px,#0013ff 63.5px,#0000f8 66.5px,#0000c7 72.5px,#0000ff 78.5px,#0022ff 81.5px,#0040ff 87.5px,#0056ff 90.5px,#0049ff 93.5px,#000cff 97.5px,#0000f9 98.5px,#0000e7 99.5px,#0001ff 106.5px,#000eff 108.5px,#0000f6 111.5px,#000dff 112.5px,#00b1ff 115.5px,#00dbff 118.5px,#01fffe 120.5px,#0048ff 129.5px,#0001ff 132.5px,#0000cf 136.5px,#0000c3 140.5px,#0000dc 142.5px,#0000fb 144.5px,#0021ff 150.5px,#0003ff 153.5px,#0000cf 157.5px,#0000b1 159.5px,#0000ad 161.5px,#0000ea 171.5px,#0000a6 180.5px,#0000b8 190.5px,#0000e3 199.5px,#002dff 100%)"></i><i style="left:222px;background:linear-gradient(#0000d7 0,#0000cc 11.5px,#0000d3 21.5px,#0000d3 29.5px,#0000e4 36.5px,#0000bc 45.5px,#0000d8 63.5px,#0000b7 72.5px,#0000f6 82.5px,#0004ff 91.5px,#0000ec 95.5px,#0000cc 99.5px,#0000eb 109.5px,#0000ea 111.5px,#000bff 112.5px,#00deff 115.5px,#00f4ff 116.5px,#0cfff3 117.5px,#4fffb0 120.5px,#00feff 123.5px,#009bff 127.5px,#000aff 132.5px,#0000f5 133.5px,#0000ce 135.5px,#0000ce 137.5px,#0000da 140.5px,#0006ff 142.5px,#003aff 144.5px,#006dff 150.5px,#0052ff 152.5px,#0017ff 156.5px,#0002ff 157.5px,#0000d7 159.5px,#0000cc 160.5px,#0000dc 166.5px,#0000f1 171.5px,#0000aa 180.5px,#0000be 184.5px,#0000b0 187.5px,#0000cb 195.5px,#0000f1 196.5px,#0000db 198.5px,#0000e5 100%)"></i><i style="left:223px;background:linear-gradient(#0000e0 0,#0000c3 25.5px,#0000a2 36.5px,#0000d3 46.5px,#0000d8 54.5px,#00008d 63.5px,#0000d3 72.5px,#0000e8 84.5px,#0000e4 94.5px,#0000da 106.5px,#0000e4 111.5px,#000bff 112.5px,#00adff 114.5px,#0afff5 115.5px,#33ffcc 117.5px,#51ffae 120.5px,#00f9ff 124.5px,#0098ff 128.5px,#0033ff 132.5px,#0000fe 135.5px,#0000fc 137.5px,#0006ff 140.5px,#0017ff 141.5px,#0068ff 144.5px,#00aaff 150.5px,#008dff 152.5px,#004bff 156.5px,#0000f9 159.5px,#0000e8 160.5px,#0000b7 172.5px,#0000b5 183.5px,#0000c6 190.5px,#0000db 192.5px,#0000db 194.5px,#0000e5 197.5px,#0000f7 198.5px,#0026ff 199.5px,#0057ff 100%)"></i><i style="left:224px;background:linear-gradient(#0000db 0,#0000ef 10.5px,#0000d5 27.5px,#00008a 36.5px,#0000f5 45.5px,#0000e5 54.5px,#000090 63.5px,#0000df 72.5px,#0000d7 83.5px,#0000dd 91.5px,#0000cc 100.5px,#0000d7 110.5px,#0000d7 111.5px,#0000fd 112.5px,#00a3ff 114.5px,#01fffe 115.5px,#43ffbc 119.5px,#4effb1 120.5px,#00feff 124.5px,#00d7ff 126.5px,#0059ff 131.5px,#001bff 135.5px,#0010ff 137.5px,#000cff 140.5px,#001aff 141.5px,#0069ff 144.5px,#00bcff 150.5px,#009bff 152.5px,#004eff 156.5px,#0015ff 158.5px,#0000f5 159.5px,#0000e1 160.5px,#0000ce 165.5px,#0000cb 181.5px,#0000d2 185.5px,#0000cc 188.5px,#0000d9 189.5px,#0000f6 190.5px,#0019ff 191.5px,#0041ff 192.5px,#0006ff 194.5px,#0000f9 195.5px,#0013ff 100%)"></i><i style="left:225px;background:linear-gradient(#0000cf 0,#0000f3 10.5px,#000cff 13.5px,#0033ff 18.5px,#0000fb 25.5px,#000097 36.5px,#0000ff 44.5px,#000dff 45.5px,#0000fa 48.5px,#0000d3 55.5px,#0000be 72.5px,#0000da 82.5px,#0000ce 92.5px,#0000b6 100.5px,#0000c8 111.5px,#0000ec 112.5px,#0036ff 113.5px,#00d4ff 115.5px,#00f0ff 116.5px,#0cfff3 117.5px,#63ff9c 120.5px,#00fdff 124.5px,#00d1ff 126.5px,#005dff 130.5px,#0009ff 135.5px,#0001ff 138.5px,#0001ff 140.5px,#0010ff 141.5px,#0071ff 144.5px,#009eff 147.5px,#00c6ff 150.5px,#00b7ff 151.5px,#0024ff 157.5px,#0007ff 158.5px,#0000d7 160.5px,#0000cb 163.5px,#0000e7 172.5px,#0000dc 180.5px,#0000d5 185.5px,#0000cc 189.5px,#0000e8 190.5px,#000aff 191.5px,#0031ff 192.5px,#0053ff 195.5px,#005bff 196.5px,#003fff 199.5px,#0032ff 100%)"></i><i style="left:226px;background:linear-gradient(#0000c7 0,#0000c9 9.5px,#0000fc 13.5px,#003cff 18.5px,#0001ff 26.5px,#0000ac 36.5px,#0000e2 45.5px,#0000be 54.5px,#0000f2 63.5px,#0000ab 72.5px,#0000dd 81.5px,#0000c6 93.5px,#0000b8 105.5px,#0000b5 109.5px,#0000bd 111.5px,#0000e3 112.5px,#002dff 113.5px,#00c3ff 115.5px,#00f9ff 117.5px,#3cffc3 120.5px,#0bfff4 123.5px,#00f8ff 124.5px,#00ceff 126.5px,#005bff 130.5px,#0007ff 135.5px,#0001ff 138.5px,#0001ff 140.5px,#0010ff 141.5px,#0078ff 144.5px,#0092ff 145.5px,#00d4ff 150.5px,#00c6ff 151.5px,#0042ff 156.5px,#0002ff 158.5px,#0000ce 160.5px,#0000bb 162.5px,#0000d6 173.5px,#0000df 182.5px,#0002ff 189.5px,#0035ff 192.5px,#0026ff 195.5px,#0002ff 198.5px,#0008ff 100%)"></i><i style="left:227px;background:linear-gradient(#0000cc 0,#0000b9 9.5px,#0000fc 17.5px,#000bff 26.5px,#000bff 27.5px,#0000f6 29.5px,#0000ad 36.5px,#0000d7 54.5px,#0001ff 61.5px,#000dff 63.5px,#0000f6 66.5px,#0000c9 73.5px,#0000b7 81.5px,#0000e3 90.5px,#0000af 111.5px,#0000d4 112.5px,#001eff 113.5px,#00c0ff 115.5px,#07fff8 118.5px,#24ffdb 120.5px,#2fffd0 122.5px,#1cffe3 125.5px,#00ffff 126.5px,#0097ff 129.5px,#0063ff 131.5px,#001fff 135.5px,#0015ff 137.5px,#0012ff 140.5px,#0020ff 141.5px,#00a4ff 145.5px,#00e4ff 150.5px,#00e0ff 151.5px,#00bbff 153.5px,#0085ff 155.5px,#0013ff 158.5px,#0000ed 159.5px,#0000d2 160.5px,#0000b7 162.5px,#0000c4 169.5px,#0000d8 182.5px,#0000ea 187.5px,#0000f6 188.5px,#0000fc 191.5px,#0016ff 198.5px,#0080ff 100%)"></i><i style="left:228px;background:linear-gradient(#0000e2 0,#0000b1 9.5px,#0000f8 21.5px,#0002ff 27.5px,#0000c8 36.5px,#0000ee 46.5px,#0005ff 49.5px,#0028ff 54.5px,#0000f9 62.5px,#0000f7 68.5px,#0000fd 72.5px,#0000b0 81.5px,#0000f9 88.5px,#0009ff 91.5px,#0000f8 99.5px,#0000b5 110.5px,#0000b4 111.5px,#0000d6 112.5px,#0020ff 113.5px,#0076ff 114.5px,#00d7ff 115.5px,#00feff 116.5px,#50ffaf 118.5px,#6fff90 119.5px,#96ff69 121.5px,#9eff61 122.5px,#88ff77 125.5px,#20ffdf 127.5px,#00efff 128.5px,#00a1ff 130.5px,#0071ff 132.5px,#0040ff 135.5px,#003cff 137.5px,#0042ff 140.5px,#0052ff 141.5px,#0098ff 143.5px,#00c3ff 144.5px,#00e0ff 145.5px,#01fffe 148.5px,#0cfff3 150.5px,#00f9ff 152.5px,#00b5ff 155.5px,#0013ff 159.5px,#0000f4 160.5px,#0000db 162.5px,#0000d7 166.5px,#0000e5 172.5px,#0000d0 189.5px,#0000fb 190.5px,#0030ff 191.5px,#006eff 192.5px,#005bff 193.5px,#0017ff 195.5px,#0012ff 196.5px,#003aff 100%)"></i><i style="left:229px;background:linear-gradient(#0000ea 0,#0000a7 9.5px,#0000c5 15.5px,#0000fa 20.5px,#0013ff 25.5px,#001aff 32.5px,#0043ff 47.5px,#005bff 54.5px,#0035ff 58.5px,#0006ff 61.5px,#0000ed 64.5px,#0003ff 71.5px,#0007ff 72.5px,#0000ed 75.5px,#0000d8 79.5px,#0000d8 81.5px,#0003ff 85.5px,#002dff 98.5px,#0026ff 100.5px,#0004ff 103.5px,#0000ce 108.5px,#0000cd 111.5px,#0000f5 112.5px,#0043ff 113.5px,#009bff 114.5px,#00feff 115.5px,#98ff67 118.5px,#b9ff46 119.5px,#d5ff2a 121.5px,#d1ff2e 122.5px,#94ff6b 125.5px,#00ffff 128.5px,#0098ff 131.5px,#0061ff 134.5px,#0053ff 135.5px,#005aff 138.5px,#0064ff 140.5px,#0075ff 141.5px,#00baff 143.5px,#00e4ff 144.5px,#00fcff 145.5px,#25ffda 149.5px,#22ffdd 151.5px,#0cfff3 152.5px,#00eeff 153.5px,#00c7ff 155.5px,#0026ff 159.5px,#0009ff 160.5px,#0000f2 162.5px,#0000ef 165.5px,#0004ff 170.5px,#0009ff 171.5px,#0000f2 174.5px,#0000c9 180.5px,#0000be 187.5px,#0000c8 188.5px,#0000ca 190.5px,#0000ed 194.5px,#0000fc 195.5px,#0021ff 198.5px,#0029ff 100%)"></i><i style="left:230px;background:linear-gradient(#0000e6 0,#0000b5 10.5px,#0000ba 15.5px,#0000d8 18.5px,#0000fe 20.5px,#002fff 23.5px,#0074ff 36.5px,#005dff 50.5px,#004dff 55.5px,#003fff 58.5px,#0015ff 62.5px,#0000fd 66.5px,#0000f0 73.5px,#0000e3 78.5px,#0006ff 82.5px,#002cff 85.5px,#0040ff 90.5px,#0020ff 98.5px,#0001ff 103.5px,#0000e0 107.5px,#0000d9 111.5px,#0001ff 112.5px,#00a1ff 114.5px,#00fdff 115.5px,#7dff82 118.5px,#96ff69 119.5px,#a3ff5c 120.5px,#92ff6d 121.5px,#54ffab 123.5px,#0afff5 125.5px,#00eeff 126.5px,#00a4ff 130.5px,#0072ff 132.5px,#0054ff 135.5px,#0056ff 138.5px,#005dff 140.5px,#006cff 141.5px,#00ceff 144.5px,#00e0ff 145.5px,#00f8ff 149.5px,#00f1ff 151.5px,#00beff 153.5px,#0099ff 155.5px,#0007ff 159.5px,#0000e0 161.5px,#0000d4 164.5px,#0000e8 171.5px,#0000bb 180.5px,#0000e0 190.5px,#0000dc 197.5px,#0000f9 198.5px,#0056ff 100%)"></i><i style="left:231px;background:linear-gradient(#0000d8 0,#0000d2 10.5px,#0000ca 16.5px,#0000d5 18.5px,#0000f9 20.5px,#003bff 25.5px,#004aff 28.5px,#004cff 37.5px,#002fff 46.5px,#002fff 57.5px,#000bff 63.5px,#0012ff 69.5px,#001dff 72.5px,#0005ff 78.5px,#000cff 81.5px,#0035ff 85.5px,#0047ff 90.5px,#0002ff 98.5px,#0000d0 107.5px,#0000c8 111.5px,#0000e9 112.5px,#0030ff 113.5px,#00dbff 115.5px,#00faff 116.5px,#48ffb7 119.5px,#56ffa9 120.5px,#16ffe9 122.5px,#00f0ff 123.5px,#00a8ff 125.5px,#008dff 127.5px,#006cff 130.5px,#004bff 132.5px,#0032ff 136.5px,#0037ff 140.5px,#0045ff 141.5px,#00a4ff 144.5px,#00b3ff 145.5px,#00abff 150.5px,#00a1ff 151.5px,#0075ff 153.5px,#0058ff 155.5px,#0004ff 158.5px,#0000da 160.5px,#0000ce 165.5px,#0000e5 182.5px,#0000f7 186.5px,#000dff 187.5px,#002aff 188.5px,#0021ff 189.5px,#000bff 190.5px,#0000f7 191.5px,#0000e9 195.5px,#0000fb 198.5px,#0017ff 100%)"></i><i style="left:232px;background:linear-gradient(#0000cc 0,#0000f7 9.5px,#0000c1 18.5px,#0000ff 24.5px,#0016ff 27.5px,#0000fc 31.5px,#0000dd 36.5px,#0000dc 45.5px,#0004ff 49.5px,#0032ff 54.5px,#0003ff 60.5px,#0000e9 63.5px,#0003ff 67.5px,#0027ff 72.5px,#0000fd 80.5px,#000bff 84.5px,#001cff 90.5px,#0000f8 96.5px,#0000e3 100.5px,#0000c8 110.5px,#0000c8 111.5px,#0000e7 112.5px,#002eff 113.5px,#00d4ff 115.5px,#08fff7 117.5px,#57ffa8 120.5px,#18ffe7 122.5px,#00f8ff 123.5px,#00bdff 125.5px,#0032ff 132.5px,#0008ff 135.5px,#0003ff 137.5px,#0008ff 140.5px,#0016ff 141.5px,#006bff 144.5px,#007aff 145.5px,#0089ff 150.5px,#0072ff 152.5px,#004dff 155.5px,#0000ff 159.5px,#0000f6 163.5px,#0000f0 179.5px,#0001ff 183.5px,#0000f9 188.5px,#0000ff 193.5px,#0060ff 196.5px,#001dff 198.5px,#0000f7 199.5px,#0000f5 100%)"></i><i style="left:233px;background:linear-gradient(#0000f7 0,#0000f6 9.5px,#00009b 18.5px,#0000fb 27.5px,#0000ae 36.5px,#0000bf 45.5px,#0000fd 51.5px,#001dff 54.5px,#0000fb 58.5px,#0000d2 63.5px,#0003ff 71.5px,#000aff 72.5px,#0000f4 76.5px,#0000db 81.5px,#0005ff 89.5px,#000aff 90.5px,#0000f7 92.5px,#0000b8 99.5px,#0000cb 111.5px,#0000ee 112.5px,#0036ff 113.5px,#00d6ff 115.5px,#00f1ff 116.5px,#0efff1 117.5px,#70ff8f 120.5px,#10ffef 124.5px,#00f9ff 125.5px,#00ecff 126.5px,#0057ff 131.5px,#0002ff 135.5px,#0000ef 140.5px,#0000f9 141.5px,#0045ff 145.5px,#0064ff 150.5px,#0053ff 153.5px,#0032ff 156.5px,#0000fc 159.5px,#0000ef 161.5px,#0000df 181.5px,#0000ee 184.5px,#0000e6 188.5px,#0000f9 193.5px,#0036ff 195.5px,#0057ff 196.5px,#000aff 199.5px,#0006ff 100%)"></i><i style="left:234px;background:linear-gradient(#0000ff 0,#0000c2 13.5px,#0000a5 18.5px,#0004ff 27.5px,#0000a5 36.5px,#0000aa 45.5px,#0000fb 54.5px,#0000b4 63.5px,#0000fc 71.5px,#0006ff 72.5px,#0000d8 81.5px,#0000e5 90.5px,#0000b1 99.5px,#0000d2 111.5px,#0000f9 112.5px,#0093ff 114.5px,#00e3ff 115.5px,#05fffa 116.5px,#70ff8f 119.5px,#8cff73 120.5px,#4effb1 123.5px,#1fffe0 125.5px,#00f6ff 127.5px,#007cff 132.5px,#0026ff 137.5px,#0000fb 140.5px,#000dff 143.5px,#0014ff 144.5px,#002dff 146.5px,#004fff 151.5px,#004cff 153.5px,#002aff 156.5px,#0001ff 158.5px,#0000d3 160.5px,#0000c2 162.5px,#0000e7 181.5px,#0000dd 189.5px,#0000f4 198.5px,#0000fc 199.5px,#002bff 100%)"></i><i style="left:235px;background:linear-gradient(#0000b1 0,#0000d4 10.5px,#0000d1 18.5px,#0000fe 24.5px,#0016ff 27.5px,#0000f8 29.5px,#000094 36.5px,#000098 45.5px,#0000e2 54.5px,#0000c0 63.5px,#0000fa 72.5px,#0000c7 84.5px,#0000ba 91.5px,#0000ea 110.5px,#0000f0 111.5px,#001dff 112.5px,#00c3ff 114.5px,#1effe1 115.5px,#afff50 118.5px,#d5ff2a 119.5px,#efff10 120.5px,#b2ff4d 122.5px,#3cffc3 125.5px,#00feff 128.5px,#00a4ff 132.5px,#0077ff 135.5px,#0037ff 138.5px,#0012ff 140.5px,#000bff 141.5px,#001eff 144.5px,#0038ff 145.5px,#0075ff 150.5px,#007bff 153.5px,#0055ff 156.5px,#0008ff 159.5px,#0000e2 161.5px,#0000c9 165.5px,#0000bf 171.5px,#0003ff 179.5px,#000cff 180.5px,#000bff 182.5px,#001cff 184.5px,#0000fe 187.5px,#0000ef 188.5px,#0004ff 190.5px,#0027ff 192.5px,#0007ff 193.5px,#0000ea 194.5px,#0000e1 198.5px,#001dff 199.5px,#005fff 100%)"></i><i style="left:236px;background:linear-gradient(#000083 0,#0000ec 9.5px,#0000e5 19.5px,#0007ff 27.5px,#0000d5 31.5px,#000098 36.5px,#0000e7 72.5px,#0000ab 90.5px,#0000dd 100.5px,#0000f5 110.5px,#0000fc 111.5px,#002aff 112.5px,#00d5ff 114.5px,#36ffc9 115.5px,#a0ff5f 117.5px,#cbff34 118.5px,#ebff14 119.5px,#ffff00 120.5px,#b7ff48 122.5px,#2cffd3 125.5px,#0cfff3 126.5px,#00edff 127.5px,#0075ff 132.5px,#003bff 136.5px,#0022ff 140.5px,#0027ff 141.5px,#0074ff 145.5px,#0099ff 150.5px,#008bff 153.5px,#005bff 156.5px,#0005ff 159.5px,#0000ce 162.5px,#0000c1 167.5px,#0000c7 172.5px,#0000f1 181.5px,#0000f5 190.5px,#000cff 191.5px,#0028ff 192.5px,#0002ff 193.5px,#0000e5 194.5px,#0000d4 198.5px,#0000f2 199.5px,#002eff 100%)"></i><i style="left:237px;background:linear-gradient(#0000a5 0,#0005ff 9.5px,#0000e4 21.5px,#0000dc 28.5px,#0000b9 36.5px,#0000dd 45.5px,#0000cd 57.5px,#0000d4 73.5px,#0000ed 81.5px,#0000b9 90.5px,#0000e4 100.5px,#0000ed 111.5px,#0013ff 112.5px,#00efff 115.5px,#14ffeb 116.5px,#39ffc6 117.5px,#66ff99 119.5px,#70ff8f 120.5px,#39ffc6 122.5px,#15ffea 123.5px,#00efff 124.5px,#00abff 126.5px,#003eff 131.5px,#0009ff 135.5px,#000bff 137.5px,#0018ff 140.5px,#0028ff 141.5px,#0078ff 144.5px,#0084ff 146.5px,#0089ff 150.5px,#006cff 153.5px,#0036ff 156.5px,#0000fd 158.5px,#0000c5 160.5px,#0000a9 162.5px,#0000d6 171.5px,#0000bc 181.5px,#0000de 188.5px,#0000c6 190.5px,#0000cd 198.5px,#0006ff 100%)"></i><i style="left:238px;background:linear-gradient(#0000da 0,#0000f3 10.5px,#0000e3 20.5px,#0000e0 32.5px,#0000df 38.5px,#0000f0 45.5px,#0000d4 55.5px,#0000e4 63.5px,#0000c2 72.5px,#0000fe 80.5px,#0004ff 82.5px,#0000d6 102.5px,#0000bf 111.5px,#0000dd 112.5px,#0019ff 113.5px,#0089ff 115.5px,#00ffff 120.5px,#0097ff 125.5px,#005aff 129.5px,#0017ff 132.5px,#0000fa 134.5px,#0000e6 136.5px,#0000e6 140.5px,#0005ff 142.5px,#0036ff 145.5px,#004dff 151.5px,#0037ff 155.5px,#0000fd 158.5px,#0000d9 160.5px,#0000ae 171.5px,#0000d7 180.5px,#0000a9 189.5px,#0000df 195.5px,#0014ff 196.5px,#004fff 100%)"></i><i style="left:239px;background:linear-gradient(#0000f1 0,#0000bc 18.5px,#0000e5 27.5px,#0000d5 38.5px,#0000d9 45.5px,#0000a7 54.5px,#0000fc 63.5px,#0000aa 72.5px,#0000e9 83.5px,#0000ff 90.5px,#0000d7 100.5px,#000099 108.5px,#00009e 111.5px,#0000be 112.5px,#0000f9 113.5px,#0064ff 115.5px,#00b3ff 118.5px,#00f0ff 120.5px,#00a0ff 125.5px,#009eff 126.5px,#0071ff 129.5px,#005dff 130.5px,#0028ff 132.5px,#0000fb 135.5px,#0000d8 138.5px,#0000c5 140.5px,#0000c5 141.5px,#0000e6 144.5px,#0000f9 145.5px,#0023ff 151.5px,#0024ff 155.5px,#0002ff 158.5px,#0000f0 160.5px,#0000f6 162.5px,#00009d 171.5px,#0004ff 180.5px,#0000c6 189.5px,#0000ff 197.5px,#0004ff 100%)"></i><i style="left:240px;background:linear-gradient(#0000fc 0,#0000b7 10.5px,#000096 18.5px,#0000d7 27.5px,#0000d0 42.5px,#0000c7 48.5px,#0000b5 54.5px,#0000fd 63.5px,#00009f 72.5px,#0000be 83.5px,#0000f8 96.5px,#0004ff 99.5px,#00009e 108.5px,#0000b0 111.5px,#0000d4 112.5px,#0014ff 113.5px,#0087ff 115.5px,#00edff 120.5px,#009bff 125.5px,#0089ff 127.5px,#0055ff 130.5px,#0024ff 132.5px,#0006ff 134.5px,#0000dc 138.5px,#0000ce 140.5px,#0000d1 141.5px,#0002ff 144.5px,#0013ff 145.5px,#0025ff 151.5px,#000bff 156.5px,#0000fe 157.5px,#0000e9 159.5px,#0000f0 163.5px,#0000de 171.5px,#0000ff 181.5px,#0000f1 184.5px,#0000da 187.5px,#0000d3 190.5px,#0000d8 198.5px,#0000e8 100%)"></i><i style="left:241px;background:linear-gradient(#0000f8 0,#0000b5 10.5px,#000096 18.5px,#0000fa 27.5px,#0000e3 37.5px,#0000f9 60.5px,#0000fe 63.5px,#0000b3 72.5px,#0000de 91.5px,#0005ff 97.5px,#0012ff 99.5px,#0000f6 103.5px,#0000d2 109.5px,#0000ce 111.5px,#0000eb 112.5px,#0028ff 113.5px,#0098ff 115.5px,#00cdff 118.5px,#00f9ff 120.5px,#0091ff 125.5px,#008cff 126.5px,#0036ff 130.5px,#0016ff 131.5px,#0000fb 132.5px,#0000be 135.5px,#0000b9 137.5px,#0000bd 140.5px,#0000c8 141.5px,#0000f6 143.5px,#001fff 145.5px,#0037ff 151.5px,#001fff 155.5px,#0000fc 157.5px,#0000de 159.5px,#0000db 162.5px,#0000ff 173.5px,#0007ff 181.5px,#0006ff 182.5px,#001fff 184.5px,#0000fd 187.5px,#0000f0 188.5px,#0000fb 189.5px,#000fff 190.5px,#0049ff 192.5px,#001bff 193.5px,#0000e1 194.5px,#0000cc 196.5px,#0000be 198.5px,#0000d6 199.5px,#000fff 100%)"></i><i style="left:242px;background:linear-gradient(#0000e8 0,#0000c9 12.5px,#0000c1 18.5px,#0002ff 25.5px,#0014ff 27.5px,#0000f8 32.5px,#0000e2 36.5px,#0000fe 46.5px,#0000ee 56.5px,#0000d1 66.5px,#0000cd 75.5px,#0000d2 82.5px,#0000bf 90.5px,#0000fb 99.5px,#0000f4 108.5px,#0000d8 111.5px,#0000ee 112.5px,#0026ff 113.5px,#0090ff 115.5px,#00a8ff 117.5px,#04fffb 120.5px,#0096ff 125.5px,#008eff 126.5px,#0002ff 131.5px,#0000a6 135.5px,#0000a3 137.5px,#0000aa 140.5px,#0000cc 142.5px,#0000f7 144.5px,#0015ff 146.5px,#0044ff 151.5px,#0046ff 153.5px,#0017ff 156.5px,#0001ff 157.5px,#0000ce 160.5px,#0000c2 162.5px,#0004ff 178.5px,#000eff 182.5px,#000fff 187.5px,#0022ff 188.5px,#0013ff 191.5px,#0009ff 192.5px,#0095ff 196.5px,#003eff 197.5px,#0000e8 198.5px,#0000e8 100%)"></i><i style="left:243px;background:linear-gradient(#0000de 0,#0000d7 11.5px,#0000fc 27.5px,#0000d9 36.5px,#0002ff 43.5px,#000dff 45.5px,#0000f6 49.5px,#00009b 63.5px,#0000ec 72.5px,#0000b4 82.5px,#0000a5 90.5px,#0002ff 99.5px,#0000dc 111.5px,#0000f8 112.5px,#00a5ff 115.5px,#00f7ff 119.5px,#0ffff0 120.5px,#00f6ff 121.5px,#0068ff 127.5px,#001cff 130.5px,#0000fa 132.5px,#0000c6 136.5px,#0000c2 140.5px,#0000dc 142.5px,#0000f9 144.5px,#003dff 150.5px,#0039ff 153.5px,#0000fb 157.5px,#0000d1 160.5px,#0000ca 163.5px,#0000e1 175.5px,#0000ed 181.5px,#0005ff 185.5px,#0018ff 190.5px,#0016ff 192.5px,#0021ff 193.5px,#0094ff 196.5px,#0017ff 100%)"></i><i style="left:244px;background:linear-gradient(#0000e0 0,#0000c7 9.5px,#0000e4 19.5px,#0000d6 34.5px,#0000d7 37.5px,#0000f9 45.5px,#0000ea 54.5px,#00009b 63.5px,#0000fb 72.5px,#0000b1 81.5px,#0000a3 90.5px,#0001ff 99.5px,#0000c6 108.5px,#0000d6 111.5px,#0000f8 112.5px,#00b2ff 115.5px,#00e2ff 117.5px,#04fffb 119.5px,#16ffe9 120.5px,#00f3ff 121.5px,#007dff 125.5px,#0007ff 132.5px,#0000f0 134.5px,#0000db 136.5px,#0000d4 140.5px,#0006ff 144.5px,#003aff 150.5px,#0021ff 155.5px,#0006ff 157.5px,#0000e9 160.5px,#0000d8 176.5px,#0000d1 180.5px,#0000e2 182.5px,#0000f7 183.5px,#0014ff 184.5px,#0000fa 187.5px,#000fff 191.5px,#0023ff 192.5px,#0015ff 194.5px,#0016ff 100%)"></i><i style="left:245px;background:linear-gradient(#0000dc 0,#0000bc 9.5px,#0000d5 19.5px,#0000ce 36.5px,#0000f3 48.5px,#0000fd 54.5px,#0000c6 63.5px,#0000e3 72.5px,#0000a8 81.5px,#0000a0 90.5px,#0000e6 99.5px,#0000d5 111.5px,#0000f0 112.5px,#0029ff 113.5px,#0099ff 115.5px,#00ccff 120.5px,#0068ff 125.5px,#004eff 128.5px,#0000ff 133.5px,#0000e0 136.5px,#0000e1 140.5px,#0000fb 142.5px,#0024ff 145.5px,#0039ff 151.5px,#0027ff 155.5px,#0000ff 158.5px,#0000f0 160.5px,#0000f3 162.5px,#0000b1 171.5px,#0000df 189.5px,#0003ff 194.5px,#0016ff 198.5px,#0019ff 100%)"></i><i style="left:246px;background:linear-gradient(#0000c0 0,#0000c5 11.5px,#0000bd 22.5px,#0000c7 29.5px,#0003ff 43.5px,#000cff 45.5px,#0000f7 48.5px,#0000d0 54.5px,#0000d8 72.5px,#00008e 81.5px,#0000ca 97.5px,#0000eb 103.5px,#0006ff 107.5px,#000dff 108.5px,#0000f7 111.5px,#000eff 112.5px,#00a7ff 115.5px,#00acff 117.5px,#00cdff 120.5px,#0085ff 126.5px,#000dff 132.5px,#0000fe 133.5px,#0000df 135.5px,#0000e2 137.5px,#0001ff 141.5px,#0041ff 144.5px,#003cff 147.5px,#001fff 152.5px,#0000ff 156.5px,#0000d9 159.5px,#0000ce 163.5px,#000096 171.5px,#0000d6 180.5px,#0000df 187.5px,#0000ea 188.5px,#000aff 189.5px,#0065ff 191.5px,#009fff 192.5px,#007dff 193.5px,#0011ff 195.5px,#0000fb 196.5px,#0000fa 199.5px,#0000f6 100%)"></i><i style="left:247px;background:linear-gradient(#0000c1 0,#0000de 9.5px,#0000b3 18.5px,#0000ce 30.5px,#0005ff 44.5px,#0009ff 45.5px,#0000f4 47.5px,#0000b0 54.5px,#0000c6 73.5px,#0000bd 82.5px,#0000dc 90.5px,#0000b6 99.5px,#0000ef 109.5px,#0000f4 111.5px,#0016ff 112.5px,#00e2ff 115.5px,#05fffa 117.5px,#2bffd4 120.5px,#00ffff 122.5px,#00a6ff 126.5px,#002aff 130.5px,#0004ff 132.5px,#0000ca 135.5px,#0000d3 137.5px,#0000ef 140.5px,#0000ff 141.5px,#0042ff 144.5px,#0020ff 151.5px,#0007ff 153.5px,#0000f4 156.5px,#0000d2 160.5px,#0000cf 175.5px,#0000da 181.5px,#0000fe 188.5px,#0004ff 191.5px,#0000f4 197.5px,#0000f0 100%)"></i><i style="left:248px;background:linear-gradient(#0000ef 0,#0000f4 9.5px,#0000af 18.5px,#0000ca 28.5px,#0000c7 37.5px,#0000e1 45.5px,#0000bc 57.5px,#0000b4 70.5px,#0000ba 73.5px,#0000ef 82.5px,#0000fb 90.5px,#0000b9 99.5px,#0000ac 108.5px,#0000c9 111.5px,#0000f0 112.5px,#0039ff 113.5px,#00d9ff 115.5px,#09fff6 117.5px,#2cffd3 120.5px,#05fffa 122.5px,#00cbff 125.5px,#002fff 130.5px,#0004ff 132.5px,#0000ce 135.5px,#0000cf 138.5px,#0000df 141.5px,#0000fd 143.5px,#001aff 147.5px,#0028ff 151.5px,#0018ff 154.5px,#0004ff 156.5px,#0000d4 160.5px,#0000cb 162.5px,#0000f7 171.5px,#0000c0 180.5px,#0001ff 189.5px,#0000f6 197.5px,#0000fa 199.5px,#0001ff 100%)"></i><i style="left:249px;background:linear-gradient(#0002ff 0,#0000f2 10.5px,#0000c9 18.5px,#0000cc 33.5px,#0000c7 46.5px,#0000df 55.5px,#0000cf 73.5px,#0000fe 90.5px,#0000b8 103.5px,#000098 108.5px,#0000b6 111.5px,#0000da 112.5px,#001dff 113.5px,#00aaff 115.5px,#00ebff 118.5px,#00fbff 119.5px,#0dfff2 120.5px,#00fdff 121.5px,#00b7ff 126.5px,#0015ff 132.5px,#0002ff 133.5px,#0000dd 135.5px,#0000c9 140.5px,#0000f2 145.5px,#0007ff 147.5px,#0032ff 152.5px,#0037ff 153.5px,#000cff 156.5px,#0000f8 157.5px,#0000c6 160.5px,#0000b4 162.5px,#0000fb 169.5px,#0010ff 171.5px,#0000fa 174.5px,#0000d2 180.5px,#0000e6 186.5px,#0002ff 188.5px,#0000f6 192.5px,#0000fb 197.5px,#000bff 198.5px,#0087ff 100%)"></i><i style="left:250px;background:linear-gradient(#0000d5 0,#0000f2 12.5px,#0006ff 17.5px,#0005ff 19.5px,#0000d8 27.5px,#0000f8 36.5px,#0000b3 45.5px,#0000fd 54.5px,#0000e5 69.5px,#0000d7 82.5px,#0000ea 94.5px,#0000eb 99.5px,#0000ab 108.5px,#0000bb 111.5px,#0000db 112.5px,#0017ff 113.5px,#0094ff 115.5px,#00f9ff 120.5px,#00a1ff 125.5px,#009dff 126.5px,#0054ff 130.5px,#0018ff 133.5px,#0000fa 135.5px,#0000de 140.5px,#0000f6 146.5px,#000bff 150.5px,#0011ff 153.5px,#0000fa 156.5px,#0000d4 160.5px,#0000cd 162.5px,#0000ff 167.5px,#0028ff 171.5px,#0000fd 179.5px,#0002ff 190.5px,#0015ff 192.5px,#0008ff 195.5px,#0010ff 100%)"></i><i style="left:251px;background:linear-gradient(#0000bd 0,#0000e4 11.5px,#0007ff 17.5px,#000aff 19.5px,#0000f8 27.5px,#0016ff 33.5px,#0025ff 36.5px,#0003ff 39.5px,#0000bf 45.5px,#0000f3 54.5px,#0000c4 63.5px,#0000f4 82.5px,#0000f0 97.5px,#0006ff 108.5px,#0000eb 111.5px,#0000ff 112.5px,#00a4ff 115.5px,#00b1ff 117.5px,#00f6ff 120.5px,#00a1ff 124.5px,#0091ff 125.5px,#0090ff 126.5px,#0028ff 133.5px,#0009ff 136.5px,#0001ff 142.5px,#0000f9 148.5px,#0000dc 155.5px,#0000cd 162.5px,#0000fd 168.5px,#0017ff 171.5px,#000fff 179.5px,#0023ff 184.5px,#0054ff 187.5px,#006fff 188.5px,#002eff 191.5px,#003aff 194.5px,#0049ff 195.5px,#006dff 196.5px,#004cff 100%)"></i><i style="left:252px;background:linear-gradient(#0000f1 0,#0000f3 19.5px,#0007ff 24.5px,#0047ff 36.5px,#0000f9 43.5px,#0000e3 45.5px,#0005ff 52.5px,#000eff 54.5px,#0000fa 57.5px,#0000d4 64.5px,#0000cc 72.5px,#0004ff 77.5px,#0031ff 81.5px,#0005ff 93.5px,#0000e6 99.5px,#0000ff 101.5px,#0057ff 108.5px,#002eff 111.5px,#003eff 112.5px,#00d4ff 115.5px,#00d1ff 117.5px,#00f6ff 119.5px,#09fff6 120.5px,#00e0ff 122.5px,#00afff 125.5px,#00aaff 126.5px,#0034ff 132.5px,#000aff 135.5px,#0020ff 143.5px,#0021ff 145.5px,#0000fb 152.5px,#0000d2 162.5px,#0001ff 170.5px,#0005ff 172.5px,#0007ff 177.5px,#002eff 182.5px,#004eff 184.5px,#0051ff 189.5px,#0091ff 198.5px,#008dff 100%)"></i><i style="left:253px;background:linear-gradient(#006aff 0,#0044ff 10.5px,#0040ff 19.5px,#0066ff 31.5px,#007cff 36.5px,#0045ff 45.5px,#0087ff 54.5px,#003bff 64.5px,#0019ff 72.5px,#008bff 81.5px,#0046ff 91.5px,#0035ff 99.5px,#0095ff 108.5px,#0088ff 111.5px,#00a1ff 112.5px,#00d5ff 113.5px,#08fff7 114.5px,#39ffc6 115.5px,#3fffc0 120.5px,#02fffd 124.5px,#0077ff 132.5px,#0059ff 135.5px,#0072ff 145.5px,#004bff 163.5px,#0062ff 171.5px,#005cff 176.5px,#0071ff 179.5px,#0095ff 182.5px,#00aaff 186.5px,#00abff 187.5px,#00b8ff 188.5px,#00aeff 189.5px,#00e0ff 195.5px,#00f2ff 196.5px,#00edff 197.5px,#00f2ff 100%)"></i><i style="left:254px;background:linear-gradient(#00edff 0,#00bfff 10.5px,#00bdff 21.5px,#00d2ff 32.5px,#00dbff 37.5px,#00c5ff 45.5px,#00eeff 54.5px,#00adff 63.5px,#00c8ff 76.5px,#00d8ff 81.5px,#008aff 90.5px,#00cdff 104.5px,#00e9ff 111.5px,#0afff5 112.5px,#b1ff4e 115.5px,#c3ff3c 117.5px,#bcff43 120.5px,#3effc1 128.5px,#0afff5 132.5px,#00f7ff 135.5px,#00d5ff 145.5px,#00d8ff 164.5px,#00edff 171.5px,#00e9ff 176.5px,#06fff9 179.5px,#43ffbc 184.5px,#5dffa2 189.5px,#87ff78 193.5px,#8dff72 196.5px,#69ff96 197.5px,#78ff87 100%)"></i><i style="left:255px;background:linear-gradient(#00b5ff 0,#0083ff 21.5px,#006dff 27.5px,#00b1ff 36.5px,#00a5ff 46.5px,#00bcff 54.5px,#0096ff 63.5px,#00c4ff 72.5px,#0085ff 88.5px,#007fff 90.5px,#00aaff 99.5px,#008aff 108.5px,#0097ff 111.5px,#00b4ff 112.5px,#00eaff 113.5px,#1dffe2 114.5px,#4bffb4 115.5px,#71ff8e 118.5px,#83ff7c 120.5px,#22ffdd 126.5px,#01fffe 129.5px,#00dcff 133.5px,#0089ff 144.5px,#0096ff 154.5px,#00c7ff 162.5px,#00b6ff 175.5px,#00c8ff 178.5px,#04fffb 182.5px,#2bffd4 184.5px,#55ffaa 188.5px,#aeff51 192.5px,#78ff87 194.5px,#52ffad 195.5px,#43ffbc 196.5px,#4affb5 199.5px,#51ffae 100%)"></i><i style="left:256px;background:linear-gradient(#001cff 0,#0026ff 10.5px,#000fff 19.5px,#0000fb 22.5px,#0000db 27.5px,#0005ff 31.5px,#0038ff 36.5px,#0032ff 46.5px,#004dff 54.5px,#0012ff 63.5px,#0061ff 72.5px,#0029ff 81.5px,#0030ff 97.5px,#002eff 100.5px,#0005ff 109.5px,#0004ff 111.5px,#001aff 112.5px,#0089ff 115.5px,#00cfff 120.5px,#0040ff 131.5px,#0012ff 137.5px,#0000fe 145.5px,#0006ff 153.5px,#0049ff 162.5px,#0015ff 171.5px,#0035ff 177.5px,#0086ff 183.5px,#0097ff 184.5px,#009aff 188.5px,#00afff 195.5px,#00b8ff 196.5px,#00b2ff 198.5px,#00b6ff 100%)"></i><i style="left:257px;background:linear-gradient(#0006ff 0,#0000fa 10.5px,#0000d4 19.5px,#0000da 28.5px,#0003ff 36.5px,#0008ff 48.5px,#0014ff 54.5px,#0000f8 57.5px,#0000c3 63.5px,#0004ff 68.5px,#0037ff 72.5px,#0001ff 80.5px,#0000eb 93.5px,#0000e0 109.5px,#0000d7 111.5px,#0000e6 112.5px,#0008ff 113.5px,#0046ff 115.5px,#0052ff 117.5px,#0089ff 120.5px,#0074ff 126.5px,#0008ff 131.5px,#0000e1 133.5px,#0000bc 135.5px,#0000c2 145.5px,#0000d8 155.5px,#0000d0 165.5px,#0000c4 171.5px,#0005ff 179.5px,#0033ff 185.5px,#0046ff 188.5px,#0040ff 190.5px,#0052ff 193.5px,#005fff 194.5px,#00a3ff 196.5px,#0062ff 199.5px,#005dff 100%)"></i><i style="left:258px;background:linear-gradient(#0000fb 0,#0000fc 10.5px,#0000bf 18.5px,#0000ea 27.5px,#0000de 37.5px,#0000ff 54.5px,#0000c2 63.5px,#0000fc 68.5px,#002cff 72.5px,#0004ff 81.5px,#000bff 89.5px,#0000f7 96.5px,#0000d0 111.5px,#0000dd 112.5px,#0000fc 113.5px,#003cff 115.5px,#0046ff 117.5px,#007cff 120.5px,#0072ff 125.5px,#0078ff 126.5px,#002bff 130.5px,#0000f9 132.5px,#0000bf 135.5px,#0000bb 160.5px,#0000bc 172.5px,#0000de 180.5px,#0000ff 184.5px,#0022ff 189.5px,#0056ff 192.5px,#005fff 198.5px,#004bff 100%)"></i><i style="left:259px;background:linear-gradient(#0000cc 0,#0000fa 9.5px,#0000be 18.5px,#0000da 28.5px,#0000d5 40.5px,#0000ce 45.5px,#0000fe 54.5px,#0000dc 63.5px,#0003ff 67.5px,#0038ff 72.5px,#0032ff 81.5px,#004cff 86.5px,#0046ff 90.5px,#0001ff 100.5px,#0000dd 109.5px,#0000dd 111.5px,#0000ec 112.5px,#000cff 113.5px,#0050ff 115.5px,#0087ff 120.5px,#0058ff 125.5px,#004fff 127.5px,#0018ff 131.5px,#0000fd 133.5px,#0000e5 136.5px,#0000e3 145.5px,#0000bc 154.5px,#0000c7 180.5px,#0001ff 188.5px,#0026ff 197.5px,#0022ff 199.5px,#001bff 100%)"></i><i style="left:260px;background:linear-gradient(#0000e4 0,#0000d0 12.5px,#0000be 19.5px,#0000cb 28.5px,#0000f4 36.5px,#0000e2 46.5px,#0004ff 58.5px,#001eff 64.5px,#0069ff 72.5px,#007aff 78.5px,#008bff 81.5px,#00b5ff 85.5px,#00b4ff 88.5px,#0013ff 106.5px,#0005ff 109.5px,#0003ff 111.5px,#0011ff 112.5px,#0064ff 115.5px,#0090ff 120.5px,#0059ff 125.5px,#002cff 130.5px,#0003ff 134.5px,#0000fd 137.5px,#0012ff 144.5px,#0000f7 149.5px,#0000c2 162.5px,#0000da 171.5px,#0000a2 180.5px,#0000e6 188.5px,#0000fc 189.5px,#002fff 191.5px,#004eff 192.5px,#003eff 194.5px,#001eff 196.5px,#002dff 199.5px,#002eff 100%)"></i><i style="left:261px;background:linear-gradient(#000fff 0,#0000fe 2.5px,#0000c5 9.5px,#0000bc 18.5px,#0005ff 33.5px,#0036ff 45.5px,#0004ff 54.5px,#006cff 63.5px,#009cff 70.5px,#00e2ff 77.5px,#00ffff 79.5px,#20ffdf 81.5px,#66ff99 84.5px,#7fff80 86.5px,#7fff80 88.5px,#57ffa8 91.5px,#0afff5 95.5px,#00e7ff 97.5px,#0072ff 105.5px,#004fff 109.5px,#0048ff 111.5px,#0062ff 113.5px,#0082ff 115.5px,#00a1ff 120.5px,#0012ff 133.5px,#0002ff 135.5px,#0021ff 144.5px,#0000fa 157.5px,#0000ec 163.5px,#0000f8 171.5px,#000080 180.5px,#0000eb 186.5px,#000aff 188.5px,#0018ff 189.5px,#0006ff 193.5px,#0002ff 198.5px,#0011ff 100%)"></i><i style="left:262px;background:linear-gradient(#0024ff 0,#0000fa 7.5px,#0000e7 11.5px,#0000d6 18.5px,#0001ff 22.5px,#0036ff 27.5px,#0069ff 43.5px,#0071ff 45.5px,#0047ff 54.5px,#00a9ff 63.5px,#00cfff 68.5px,#06fff9 72.5px,#3fffc0 76.5px,#afff50 81.5px,#f6ff09 83.5px,#ffd400 85.5px,#ffbf00 87.5px,#ffcd00 89.5px,#fffa00 91.5px,#4effb1 97.5px,#0cfff3 100.5px,#00faff 101.5px,#00bfff 106.5px,#009aff 111.5px,#00c1ff 117.5px,#00c3ff 120.5px,#004bff 129.5px,#000fff 135.5px,#0013ff 156.5px,#0011ff 165.5px,#0019ff 171.5px,#0000f8 173.5px,#000089 180.5px,#0000e0 184.5px,#0000f8 186.5px,#001dff 188.5px,#0030ff 189.5px,#0000fa 196.5px,#0000ea 198.5px,#0000e9 100%)"></i><i style="left:263px;background:linear-gradient(#0063ff 0,#0039ff 6.5px,#001dff 9.5px,#001aff 18.5px,#0077ff 27.5px,#008fff 37.5px,#0089ff 51.5px,#008dff 55.5px,#00a6ff 63.5px,#00d8ff 67.5px,#00fbff 69.5px,#3dffc2 72.5px,#68ff97 76.5px,#c8ff37 81.5px,#edff12 82.5px,#ffef00 83.5px,#ffbd00 85.5px,#ffac00 87.5px,#ffbf00 89.5px,#ffee00 91.5px,#f2ff0d 92.5px,#5effa1 97.5px,#1effe1 100.5px,#00ffff 102.5px,#00cfff 107.5px,#00a9ff 111.5px,#00b6ff 116.5px,#00b5ff 120.5px,#0064ff 127.5px,#001aff 133.5px,#0006ff 135.5px,#0008ff 155.5px,#0000fc 163.5px,#0023ff 171.5px,#0000f8 174.5px,#0000a5 180.5px,#0000f7 185.5px,#0012ff 187.5px,#0031ff 189.5px,#0038ff 192.5px,#0014ff 196.5px,#0030ff 199.5px,#003dff 100%)"></i><i style="left:264px;background:linear-gradient(#0085ff 0,#005eff 5.5px,#0030ff 9.5px,#004aff 19.5px,#0081ff 28.5px,#009aff 36.5px,#007cff 45.5px,#0090ff 55.5px,#0072ff 63.5px,#00a9ff 67.5px,#00fbff 71.5px,#15ffea 72.5px,#29ffd6 76.5px,#66ff99 81.5px,#b1ff4e 84.5px,#cbff34 86.5px,#c6ff39 88.5px,#92ff6d 91.5px,#0cfff3 97.5px,#00f9ff 98.5px,#00b1ff 103.5px,#0079ff 110.5px,#0075ff 112.5px,#0089ff 116.5px,#0081ff 120.5px,#003fff 127.5px,#000bff 133.5px,#0000f9 136.5px,#0000ed 154.5px,#0000d0 162.5px,#0000ff 169.5px,#000eff 171.5px,#0000f3 174.5px,#0000c0 180.5px,#0000fd 186.5px,#001aff 189.5px,#0015ff 193.5px,#0018ff 199.5px,#001fff 100%)"></i><i style="left:265px;background:linear-gradient(#003fff 0,#0039ff 6.5px,#002eff 11.5px,#0034ff 21.5px,#0053ff 36.5px,#0020ff 45.5px,#0053ff 54.5px,#002fff 63.5px,#0051ff 68.5px,#0086ff 73.5px,#00b5ff 78.5px,#00fcff 83.5px,#18ffe7 86.5px,#0afff5 89.5px,#00fcff 90.5px,#007fff 98.5px,#0041ff 104.5px,#0027ff 108.5px,#0034ff 112.5px,#005eff 116.5px,#0064ff 117.5px,#004eff 121.5px,#0014ff 128.5px,#0000fb 134.5px,#0000e1 145.5px,#0000ea 154.5px,#0000dc 163.5px,#0000f5 171.5px,#0000c4 180.5px,#0000f3 190.5px,#0001ff 191.5px,#000eff 192.5px,#0018ff 195.5px,#0035ff 100%)"></i><i style="left:266px;background:linear-gradient(#0000f1 0,#0004ff 5.5px,#001dff 18.5px,#0000fc 27.5px,#0000f7 37.5px,#0000d2 45.5px,#0004ff 52.5px,#0012ff 55.5px,#000bff 69.5px,#001bff 73.5px,#0074ff 82.5px,#0082ff 86.5px,#006dff 90.5px,#0003ff 99.5px,#0000d8 108.5px,#0000ef 112.5px,#0000fc 113.5px,#0025ff 117.5px,#001bff 123.5px,#0000fa 130.5px,#0000e3 136.5px,#0000da 154.5px,#0000ca 179.5px,#0000be 189.5px,#0000e5 192.5px,#0005ff 197.5px,#000eff 198.5px,#0007ff 100%)"></i><i style="left:267px;background:linear-gradient(#0000fa 0,#002dff 13.5px,#0044ff 18.5px,#0004ff 28.5px,#0000ef 34.5px,#0000dc 39.5px,#0000e0 45.5px,#0004ff 52.5px,#000eff 54.5px,#0000f8 59.5px,#0000e9 64.5px,#0004ff 76.5px,#0023ff 86.5px,#001eff 90.5px,#0000fd 93.5px,#0000bc 99.5px,#0000b2 109.5px,#0000c4 113.5px,#0000d9 116.5px,#0001ff 123.5px,#000fff 126.5px,#0000fa 130.5px,#0000e2 136.5px,#0000ea 144.5px,#0000c0 154.5px,#0000c5 164.5px,#0000db 174.5px,#0000d9 182.5px,#0000c9 190.5px,#0000d3 100%)"></i><i style="left:268px;background:linear-gradient(#001fff 0,#0042ff 6.5px,#0052ff 18.5px,#0019ff 32.5px,#0000ff 35.5px,#0000ed 38.5px,#0000e8 43.5px,#0000f0 54.5px,#0000c5 63.5px,#0000db 74.5px,#0000e2 83.5px,#0000f0 90.5px,#0000b9 99.5px,#0000be 114.5px,#0000c7 118.5px,#0000f1 127.5px,#0000ee 136.5px,#0000bb 154.5px,#0000cd 163.5px,#0000fd 171.5px,#0000e6 181.5px,#0000f3 189.5px,#0000c9 199.5px,#0000ca 100%)"></i><i style="left:269px;background:linear-gradient(#0001ff 0,#0026ff 9.5px,#0000fb 34.5px,#0000cf 43.5px,#0000be 55.5px,#0000cc 67.5px,#0000d7 78.5px,#0000d9 85.5px,#0000d2 102.5px,#0000d7 109.5px,#0000b1 126.5px,#0000e9 135.5px,#0000c2 145.5px,#0000bf 157.5px,#0000c9 163.5px,#0000f6 171.5px,#0000d1 180.5px,#0000fd 189.5px,#0000ca 198.5px,#0000cb 100%)"></i><i style="left:270px;background:linear-gradient(#0000d9 0,#0000e5 19.5px,#0000d2 28.5px,#0000e0 37.5px,#0000bf 55.5px,#0000d2 64.5px,#0000cc 73.5px,#0000e7 81.5px,#0000cb 92.5px,#0000c9 100.5px,#0000e4 108.5px,#0000c2 119.5px,#00009d 126.5px,#0000cc 136.5px,#0000bc 162.5px,#0000cc 174.5px,#0000cf 182.5px,#0000e3 189.5px,#0000ab 198.5px,#0000b7 100%)"></i><i style="left:271px;background:linear-gradient(#0000d9 0,#0000cd 10.5px,#0000db 19.5px,#0000c6 28.5px,#0000db 45.5px,#0000b3 54.5px,#0000d5 64.5px,#0000c1 100.5px,#0000e4 108.5px,#0000c0 124.5px,#0000bb 136.5px,#0000d2 145.5px,#0000c2 167.5px,#0000ca 173.5px,#0000e2 180.5px,#0000b0 198.5px,#0000c2 100%)"></i><i style="left:272px;background:linear-gradient(#0000d7 0,#0000db 11.5px,#0000ed 19.5px,#0000e4 28.5px,#0000c4 37.5px,#0000c5 46.5px,#0000a7 54.5px,#0000e4 63.5px,#0000ea 72.5px,#0000a7 81.5px,#0000bc 92.5px,#0000d5 100.5px,#0000d4 109.5px,#0000b7 118.5px,#0000bf 127.5px,#0000a8 135.5px,#0000da 155.5px,#0000db 164.5px,#0000d1 172.5px,#0000ec 180.5px,#0000d0 190.5px,#0000d6 199.5px,#0000da 100%)"></i><i style="left:273px;background:linear-gradient(#0000bd 0,#0000da 12.5px,#0000ea 21.5px,#0000fd 27.5px,#0000cf 36.5px,#0000d1 47.5px,#0000c2 54.5px,#0000e9 64.5px,#0000e6 72.5px,#0000aa 81.5px,#0000b5 91.5px,#0000d3 99.5px,#0000a4 115.5px,#0000a1 118.5px,#0000bb 127.5px,#0000ad 138.5px,#0000b6 147.5px,#0000d4 156.5px,#0000f1 162.5px,#0000c5 171.5px,#0000ea 190.5px,#0000de 199.5px,#0000e0 100%)"></i><i style="left:274px;background:linear-gradient(#00009f 0,#0000d3 9.5px,#0000ce 19.5px,#0000ee 27.5px,#0000c8 36.5px,#0000e0 46.5px,#0000ce 55.5px,#0000dd 64.5px,#0000d4 75.5px,#0000d3 84.5px,#0000b0 102.5px,#0000b7 112.5px,#0000cd 127.5px,#0000b0 147.5px,#0000b5 154.5px,#0000dc 162.5px,#0000af 171.5px,#0000e9 185.5px,#0000fd 189.5px,#0000dc 100%)"></i><i style="left:275px;background:linear-gradient(#0000ab 0,#0000e5 9.5px,#0000d6 29.5px,#0000c3 37.5px,#0000d6 46.5px,#0000c7 55.5px,#0000d2 66.5px,#0000d2 73.5px,#0000ec 82.5px,#0000d7 92.5px,#0000b2 100.5px,#0000b3 109.5px,#0000da 118.5px,#0000d9 127.5px,#0000b5 135.5px,#0000c2 147.5px,#0000c6 155.5px,#0000d9 162.5px,#00009f 171.5px,#0000e6 190.5px,#0000d9 199.5px,#0000d3 100%)"></i><i style="left:276px;background:linear-gradient(#0000d7 0,#0000d9 24.5px,#0000d1 35.5px,#0000ee 45.5px,#0000d2 55.5px,#0000d9 91.5px,#0000bd 100.5px,#0000cd 115.5px,#0000e6 126.5px,#0000ab 135.5px,#0000dc 144.5px,#0000d0 154.5px,#0000df 162.5px,#0000aa 171.5px,#0000b8 182.5px,#0000d1 190.5px,#0000cd 199.5px,#0000c8 100%)"></i><i style="left:277px;background:linear-gradient(#0000ee 0,#0000b9 10.5px,#0000aa 18.5px,#0000ea 27.5px,#0000c8 36.5px,#0000fa 45.5px,#0000d8 65.5px,#0000cf 90.5px,#0000ac 99.5px,#0000e2 108.5px,#0000ce 118.5px,#0000e3 126.5px,#0000bd 135.5px,#0000d0 151.5px,#0000ce 163.5px,#0000b1 175.5px,#0000ab 180.5px,#0000d7 189.5px,#0000c5 100%)"></i><i style="left:278px;background:linear-gradient(#0000f0 0,#0000bc 10.5px,#0000af 18.5px,#0000f7 27.5px,#0000a8 36.5px,#0000e5 49.5px,#0000f6 54.5px,#0000d4 64.5px,#0000d2 73.5px,#0000ef 81.5px,#0000c0 92.5px,#0000b0 99.5px,#0000dd 109.5px,#0000d5 120.5px,#0000b6 144.5px,#0000d0 155.5px,#0000c9 168.5px,#0000bb 180.5px,#0000ee 189.5px,#0000c0 199.5px,#0000c0 100%)"></i><i style="left:279px;background:linear-gradient(#0000dc 0,#0000b8 18.5px,#0000fa 27.5px,#0000b1 36.5px,#0000d2 48.5px,#0000ea 55.5px,#0000d5 66.5px,#0000c1 72.5px,#0000f6 81.5px,#0000cb 91.5px,#0000c7 101.5px,#0000e7 118.5px,#0000c2 136.5px,#0000c7 146.5px,#0000c0 154.5px,#0000e1 164.5px,#0000e5 172.5px,#0000c4 180.5px,#0000fe 189.5px,#0000b9 198.5px,#0000b9 100%)"></i><i style="left:280px;background:linear-gradient(#0000ce 0,#0000e5 9.5px,#0000a9 18.5px,#0000e2 27.5px,#0000cc 39.5px,#0000cf 47.5px,#0000e5 57.5px,#0000e3 64.5px,#0000c1 72.5px,#0000db 82.5px,#0000c9 99.5px,#0000e5 109.5px,#0000df 118.5px,#0000f3 126.5px,#0000d3 136.5px,#0000da 145.5px,#0000c3 153.5px,#0000e7 163.5px,#0000d8 181.5px,#0000ec 189.5px,#0000bf 198.5px,#0000c2 100%)"></i><i style="left:281px;background:linear-gradient(#0000d7 0,#0000e4 9.5px,#0000ac 18.5px,#0000c6 30.5px,#0000c6 39.5px,#0000c1 46.5px,#0000dd 56.5px,#0000dc 65.5px,#0000c1 81.5px,#0000d1 93.5px,#0000d1 103.5px,#0000d7 109.5px,#0000c8 118.5px,#0000dd 127.5px,#0000d5 142.5px,#0000eb 158.5px,#0000f4 162.5px,#0000b3 171.5px,#0000e8 180.5px,#0000c4 198.5px,#0000d1 100%)"></i><i style="left:282px;background:linear-gradient(#0000ce 0,#0000c2 18.5px,#0000c1 37.5px,#0000d0 59.5px,#0000cb 74.5px,#0000b9 81.5px,#0000e8 90.5px,#0000cb 100.5px,#0000cc 109.5px,#0000b2 118.5px,#0000c0 128.5px,#0000c1 138.5px,#0000ec 157.5px,#0000fd 162.5px,#0000c0 171.5px,#0000d7 181.5px,#0000b3 198.5px,#0000c2 100%)"></i><i style="left:283px;background:linear-gradient(#0000b9 0,#0000c5 11.5px,#0000d9 18.5px,#0000b6 27.5px,#0000e7 45.5px,#0000c8 57.5px,#0000c4 67.5px,#0000c4 81.5px,#0000f5 90.5px,#0000be 99.5px,#0000cc 109.5px,#0000b4 117.5px,#0000d0 126.5px,#0000ad 135.5px,#0000d0 146.5px,#0000e3 156.5px,#0000f5 163.5px,#0000e0 174.5px,#0000ab 192.5px,#0000a6 199.5px,#0000aa 100%)"></i><i style="left:284px;background:linear-gradient(#0000cc 0,#0000d3 10.5px,#0000f5 18.5px,#0000c4 27.5px,#0000e4 37.5px,#0000bc 64.5px,#0000d0 73.5px,#0000c6 81.5px,#0001ff 90.5px,#0000cd 100.5px,#0000d1 111.5px,#0000f4 126.5px,#0000be 135.5px,#0000db 146.5px,#0000ef 166.5px,#0000f9 171.5px,#0000ae 190.5px,#0000ba 100%)"></i><i style="left:285px;background:linear-gradient(#0000ef 0,#0000e4 10.5px,#0002ff 18.5px,#0000e4 31.5px,#0000db 37.5px,#0000b5 45.5px,#0000cc 55.5px,#0000bc 63.5px,#0000f0 72.5px,#0000d9 81.5px,#0000f3 91.5px,#0000cc 108.5px,#0000fc 125.5px,#0000ff 126.5px,#0000b9 135.5px,#0000e1 145.5px,#0000db 164.5px,#0000db 179.5px,#0000b7 190.5px,#0000c7 100%)"></i><i style="left:286px;background:linear-gradient(#0000ee 0,#0000f0 17.5px,#0000e5 33.5px,#0000e1 37.5px,#0000bf 45.5px,#0000db 55.5px,#0000cb 63.5px,#0002ff 71.5px,#0009ff 72.5px,#0000f3 78.5px,#0000c4 100.5px,#0000d9 109.5px,#0000c7 117.5px,#0000f3 126.5px,#00009b 135.5px,#0000ed 144.5px,#0000d0 154.5px,#0000cc 164.5px,#0000bb 171.5px,#0000e0 180.5px,#0000be 190.5px,#0000c2 100%)"></i><i style="left:287px;background:linear-gradient(#0000de 0,#0000ec 11.5px,#0000d9 28.5px,#0000e3 38.5px,#0000de 47.5px,#0000e8 55.5px,#0000d9 65.5px,#0000e7 83.5px,#0000d3 93.5px,#0000b9 99.5px,#0000da 109.5px,#0000cf 118.5px,#0000dc 126.5px,#0000a4 135.5px,#0000f3 144.5px,#0000d2 153.5px,#0000e5 162.5px,#0000c5 171.5px,#0000e6 180.5px,#0000c9 191.5px,#0000c6 100%)"></i><i style="left:288px;background:linear-gradient(#0000cf 0,#0000ea 28.5px,#0000d6 41.5px,#0000da 47.5px,#0000fd 63.5px,#0000a7 72.5px,#0000ee 81.5px,#0000d2 95.5px,#0000af 108.5px,#0000ce 118.5px,#0000c3 127.5px,#0000e5 143.5px,#0000d8 153.5px,#0001ff 161.5px,#0002ff 163.5px,#0000df 172.5px,#0000cf 196.5px,#0000d1 100%)"></i><i style="left:289px;background:linear-gradient(#0000d0 0,#0000d2 18.5px,#0000df 29.5px,#0000c1 45.5px,#0004ff 54.5px,#0011ff 63.5px,#0000fb 65.5px,#0000b1 72.5px,#0000e2 82.5px,#0000dc 93.5px,#0000b6 104.5px,#0000a6 108.5px,#0000c4 119.5px,#0000e1 145.5px,#0000cd 153.5px,#0000f9 162.5px,#0000d6 172.5px,#0000e9 191.5px,#0000df 100%)"></i><i style="left:290px;background:linear-gradient(#0000de 0,#0000bb 10.5px,#0000b8 19.5px,#0000cc 30.5px,#0000cb 45.5px,#0000fb 54.5px,#0000f0 64.5px,#0000ce 72.5px,#0000e2 83.5px,#0000d0 108.5px,#0000ca 119.5px,#0000d5 129.5px,#0000cd 149.5px,#0000cf 173.5px,#0000f0 190.5px,#0000ec 199.5px,#0000e7 100%)"></i><i style="left:291px;background:linear-gradient(#0000d6 0,#0000cd 10.5px,#0000a6 18.5px,#0000d4 27.5px,#0000bf 36.5px,#0000db 46.5px,#0000ca 54.5px,#0000ec 64.5px,#0000e9 79.5px,#0000df 84.5px,#0000cb 90.5px,#0000de 102.5px,#0000db 110.5px,#0000c8 120.5px,#0000cc 130.5px,#0000d5 135.5px,#0000a6 144.5px,#0000d5 153.5px,#0000c9 163.5px,#0000d9 174.5px,#0000e1 192.5px,#0000ea 199.5px,#0000e8 100%)"></i><i style="left:292px;background:linear-gradient(#0000c8 0,#0000e6 9.5px,#0000c0 18.5px,#0000d0 28.5px,#0000c9 37.5px,#0000e2 45.5px,#0000c0 54.5px,#0000f0 68.5px,#0000f6 73.5px,#0000c1 91.5px,#0000cc 103.5px,#0000d8 108.5px,#0000b6 118.5px,#0000b8 129.5px,#0000c2 135.5px,#00009b 144.5px,#0000c7 157.5px,#0000e1 172.5px,#0000cf 183.5px,#0000bc 189.5px,#0000e7 198.5px,#0000e5 100%)"></i><i style="left:293px;background:linear-gradient(#0000c6 0,#0000ea 18.5px,#0000b8 27.5px,#0000d7 37.5px,#0000c9 62.5px,#0000dc 75.5px,#0000d4 83.5px,#0000b9 92.5px,#0000b5 100.5px,#0000da 108.5px,#0000b5 118.5px,#0000b3 136.5px,#000095 144.5px,#0000d0 165.5px,#0000d7 173.5px,#0000c4 183.5px,#0000b0 189.5px,#0000db 199.5px,#0000dc 100%)"></i><i style="left:294px;background:linear-gradient(#0000c8 0,#0000d3 10.5px,#0000fc 18.5px,#0000b0 27.5px,#0000d1 37.5px,#0000c1 56.5px,#0000c5 65.5px,#0000b8 72.5px,#0000ea 81.5px,#0000b6 90.5px,#0000f2 108.5px,#0000c3 117.5px,#0000d4 128.5px,#0000cd 136.5px,#0000aa 144.5px,#0000d0 154.5px,#0000d7 172.5px,#0000bc 181.5px,#0000c9 191.5px,#0000c2 100%)"></i><i style="left:295px;background:linear-gradient(#0000db 0,#0000f2 18.5px,#0000c8 28.5px,#0000c5 37.5px,#0000e8 45.5px,#0000bc 54.5px,#0000e4 63.5px,#0000c9 72.5px,#0000e5 81.5px,#0000c4 90.5px,#0000e4 101.5px,#0000e8 109.5px,#0000c6 117.5px,#0000e3 133.5px,#0000dd 138.5px,#0000cf 145.5px,#0000e2 154.5px,#0000da 166.5px,#0000d8 172.5px,#0000bd 180.5px,#0000d5 189.5px,#0000af 100%)"></i><i style="left:296px;background:linear-gradient(#0000e4 0,#0000fd 9.5px,#0000c8 26.5px,#0000d3 37.5px,#0000f8 45.5px,#0000ca 54.5px,#0000f5 63.5px,#0000d9 77.5px,#0000ca 111.5px,#0000cb 127.5px,#0000e8 135.5px,#0000ce 147.5px,#0000c7 172.5px,#0000d8 181.5px,#0000c3 191.5px,#0000c5 100%)"></i><i style="left:297px;background:linear-gradient(#0000de 0,#0000da 17.5px,#0000b2 27.5px,#0000f4 37.5px,#0009ff 43.5px,#000fff 45.5px,#0000f8 48.5px,#0000cd 54.5px,#0000e7 73.5px,#0000d3 82.5px,#0000db 100.5px,#0000c8 109.5px,#0000cb 118.5px,#0000ac 126.5px,#0000f8 135.5px,#0000c7 145.5px,#0000b8 155.5px,#0000c4 172.5px,#0000e8 180.5px,#0000bb 189.5px,#0000e4 199.5px,#0000e4 100%)"></i><i style="left:298px;background:linear-gradient(#0000e2 0,#0000d1 9.5px,#0000f4 18.5px,#0000cf 27.5px,#0005ff 41.5px,#0015ff 45.5px,#0000fa 48.5px,#0000c7 54.5px,#0000b7 63.5px,#0000e7 73.5px,#0000e5 83.5px,#0000d6 91.5px,#0000e3 99.5px,#0000b8 108.5px,#0000ca 118.5px,#0000b8 126.5px,#0000f0 135.5px,#0000c2 144.5px,#0000d6 154.5px,#0000bf 163.5px,#0000d5 181.5px,#0000ca 190.5px,#0000df 100%)"></i><i style="left:299px;background:linear-gradient(#0000d8 0,#0000d9 10.5px,#0000f5 18.5px,#0000d4 36.5px,#0000de 46.5px,#0000b6 63.5px,#0000fe 81.5px,#0000d4 90.5px,#0000ed 99.5px,#0000a8 108.5px,#0000db 127.5px,#0000bb 144.5px,#0000e5 153.5px,#0000c5 173.5px,#0000d8 186.5px,#0000dc 190.5px,#0000cb 100%)"></i><i style="left:300px;background:linear-gradient(#0000cc 0,#0000cb 11.5px,#0000d7 21.5px,#0000cd 30.5px,#0000be 37.5px,#0000c4 47.5px,#0000ba 55.5px,#0000d5 64.5px,#0000d8 74.5px,#0000e9 81.5px,#0000cb 90.5px,#0000f3 99.5px,#0000bd 108.5px,#0000c4 120.5px,#0000d0 127.5px,#0000c2 143.5px,#0000ac 153.5px,#0000e9 162.5px,#0000c5 172.5px,#0000c9 181.5px,#0000eb 189.5px,#0000d0 100%)"></i><i style="left:301px;background:linear-gradient(#0000c8 0,#0000d0 25.5px,#0000c7 31.5px,#0000ba 36.5px,#0000da 45.5px,#0000b5 54.5px,#0000f1 63.5px,#0000cb 73.5px,#0000cb 82.5px,#0000b5 90.5px,#0000d6 99.5px,#0000c8 110.5px,#0000ca 121.5px,#0000c9 128.5px,#0000d6 137.5px,#0000d0 144.5px,#000091 153.5px,#0000f5 162.5px,#0000ca 172.5px,#0000c2 181.5px,#0000dd 190.5px,#0000d8 100%)"></i><i style="left:302px;background:linear-gradient(#0000cd 0,#0000d7 12.5px,#0000d1 32.5px,#0000da 53.5px,#0000f5 64.5px,#0000cf 80.5px,#0000c2 94.5px,#0000b9 103.5px,#0000b5 109.5px,#0000d5 118.5px,#0000d3 139.5px,#0000b3 153.5px,#0000f3 162.5px,#0000c0 175.5px,#0000b2 180.5px,#0000db 190.5px,#0000dc 199.5px,#0000d8 100%)"></i><i style="left:303px;background:linear-gradient(#0000d5 0,#0000ef 18.5px,#0000ca 27.5px,#0000db 38.5px,#0000da 47.5px,#0003ff 59.5px,#0044ff 72.5px,#001cff 77.5px,#0004ff 79.5px,#0000eb 81.5px,#0000ee 91.5px,#0000c7 102.5px,#0000c3 114.5px,#0000da 136.5px,#0000c6 145.5px,#0000d3 155.5px,#0000c6 173.5px,#0000b5 180.5px,#0000ea 189.5px,#0000da 100%)"></i><i style="left:304px;background:linear-gradient(#0000d2 0,#0000f5 19.5px,#0000e7 32.5px,#0000f8 41.5px,#0010ff 53.5px,#0034ff 58.5px,#00c8ff 72.5px,#00b6ff 75.5px,#0079ff 79.5px,#0052ff 81.5px,#003aff 88.5px,#0039ff 90.5px,#0000fc 96.5px,#0000e1 99.5px,#0000f4 108.5px,#0000b8 126.5px,#0000ef 135.5px,#0000e4 147.5px,#0000e4 154.5px,#0000c6 162.5px,#0000da 172.5px,#0000c5 181.5px,#0000d7 198.5px,#0000d1 100%)"></i><i style="left:305px;background:linear-gradient(#0000d2 0,#0000fd 9.5px,#0000fa 21.5px,#000bff 30.5px,#0032ff 37.5px,#0065ff 45.5px,#007aff 54.5px,#00c4ff 61.5px,#05fffa 66.5px,#52ffad 72.5px,#5bffa4 75.5px,#38ffc7 78.5px,#00fbff 81.5px,#00b0ff 86.5px,#008aff 90.5px,#0017ff 98.5px,#000bff 99.5px,#0013ff 109.5px,#0000fb 117.5px,#0000cb 126.5px,#0000f7 137.5px,#0004ff 145.5px,#0000da 163.5px,#0000df 172.5px,#0000c4 182.5px,#0000c2 190.5px,#0000e0 198.5px,#0000d6 100%)"></i><i style="left:306px;background:linear-gradient(#0000d6 0,#0000fd 13.5px,#0004ff 21.5px,#0001ff 27.5px,#002cff 33.5px,#008bff 41.5px,#00cfff 54.5px,#06fff9 58.5px,#78ff87 65.5px,#e9ff16 73.5px,#efff10 75.5px,#dbff24 77.5px,#7cff83 81.5px,#05fffa 86.5px,#00b1ff 91.5px,#0044ff 98.5px,#0032ff 100.5px,#0000fd 120.5px,#0000ec 135.5px,#0005ff 143.5px,#0000f6 150.5px,#0000d5 165.5px,#0000cf 188.5px,#0000e9 198.5px,#0000dd 100%)"></i><i style="left:307px;background:linear-gradient(#0000cf 0,#0000cb 9.5px,#0001ff 17.5px,#0007ff 20.5px,#000fff 30.5px,#0030ff 35.5px,#007dff 42.5px,#00d1ff 54.5px,#00f8ff 57.5px,#17ffe8 59.5px,#d6ff29 69.5px,#feff01 71.5px,#ffe600 73.5px,#ffe900 75.5px,#f5ff0a 77.5px,#9fff60 80.5px,#64ff9b 82.5px,#0afff5 86.5px,#00e7ff 88.5px,#0066ff 97.5px,#002fff 103.5px,#000bff 110.5px,#0000fc 119.5px,#0000fc 127.5px,#0000e8 136.5px,#0000ef 153.5px,#0000dc 165.5px,#0000ca 171.5px,#0000e6 181.5px,#0000dc 100%)"></i><i style="left:308px;background:linear-gradient(#0000c7 0,#0000bd 9.5px,#0000ee 20.5px,#0001ff 29.5px,#0011ff 36.5px,#0075ff 52.5px,#00beff 60.5px,#00e6ff 63.5px,#00faff 64.5px,#3bffc4 67.5px,#a6ff59 72.5px,#abff54 74.5px,#99ff66 76.5px,#55ffaa 79.5px,#1bffe4 81.5px,#07fff8 82.5px,#00d1ff 85.5px,#008bff 91.5px,#003bff 101.5px,#0000fe 108.5px,#0000f2 122.5px,#0000ee 128.5px,#0000d3 141.5px,#0000d5 146.5px,#0000eb 156.5px,#0000eb 163.5px,#0000c7 171.5px,#0000eb 190.5px,#0000de 100%)"></i><i style="left:309px;background:linear-gradient(#0000d4 0,#0000d5 11.5px,#0000c9 19.5px,#0000f5 37.5px,#0007ff 47.5px,#0027ff 55.5px,#0069ff 62.5px,#00f5ff 72.5px,#00f3ff 75.5px,#00cfff 78.5px,#008bff 82.5px,#0049ff 88.5px,#002bff 94.5px,#0019ff 100.5px,#0000fb 106.5px,#0000dd 119.5px,#0000d3 130.5px,#0000c7 141.5px,#0000d4 150.5px,#0000e0 162.5px,#0000b9 172.5px,#0000c0 182.5px,#0000d4 190.5px,#0000ca 100%)"></i><i style="left:310px;background:linear-gradient(#0000e7 0,#0000f1 9.5px,#0000b0 18.5px,#0000e4 37.5px,#0000ec 54.5px,#0000ff 57.5px,#0032ff 64.5px,#004dff 74.5px,#0033ff 79.5px,#0000ff 86.5px,#0000ea 91.5px,#0000e2 108.5px,#0000c5 118.5px,#0000cb 127.5px,#0000ad 135.5px,#0000d3 157.5px,#0000d5 163.5px,#0000b5 176.5px,#0000b2 181.5px,#0000c6 190.5px,#0000b3 199.5px,#0000b4 100%)"></i><i style="left:311px;background:linear-gradient(#0000f0 0,#0000e0 10.5px,#0000b5 18.5px,#0000bf 30.5px,#0000ce 40.5px,#0000d6 47.5px,#0000ef 56.5px,#0000f6 72.5px,#0000ce 90.5px,#0000de 109.5px,#0000c2 118.5px,#0000cb 126.5px,#00009f 135.5px,#0000ce 152.5px,#0000e0 164.5px,#0000d0 175.5px,#0000c3 180.5px,#0000e3 189.5px,#0000cb 100%)"></i><i style="left:312px;background:linear-gradient(#0000fe 0,#0000d7 9.5px,#0000de 19.5px,#0000be 28.5px,#0000ce 46.5px,#0000fb 54.5px,#0000ca 63.5px,#0000ef 72.5px,#0000db 82.5px,#0000ee 90.5px,#0000b7 99.5px,#0000e9 108.5px,#0000bb 118.5px,#0000b5 130.5px,#0000ad 135.5px,#0000d6 145.5px,#0000e6 173.5px,#0000dc 182.5px,#0000e4 199.5px,#0000e1 100%)"></i><i style="left:313px;background:linear-gradient(#0008ff 0,#0000f3 4.5px,#0000d9 9.5px,#0000f1 18.5px,#0000d4 28.5px,#0000e2 37.5px,#0000d2 45.5px,#0000f7 54.5px,#0000c8 63.5px,#0000ed 72.5px,#0000de 82.5px,#0000f6 90.5px,#0000b3 99.5px,#0000cd 108.5px,#0000b2 118.5px,#0000bb 130.5px,#0000db 145.5px,#0000da 156.5px,#0000e0 165.5px,#0000c9 190.5px,#0000e6 198.5px,#0000dd 100%)"></i><i style="left:314px;background:linear-gradient(#0000e1 0,#0000ef 9.5px,#00009d 18.5px,#0000e1 27.5px,#0000dd 37.5px,#0000c1 45.5px,#0000f6 65.5px,#0000f4 73.5px,#0000c7 86.5px,#0000bf 91.5px,#0000c8 99.5px,#000096 108.5px,#0000d2 117.5px,#0000ba 126.5px,#0000e9 135.5px,#0000c6 148.5px,#0000c2 154.5px,#0000e1 162.5px,#00009f 171.5px,#0000c6 181.5px,#0000bd 189.5px,#0000f3 198.5px,#0000ea 100%)"></i><i style="left:364px;background:linear-gradient(#009aff 0,#0043ff 24.5px,#001dff 48.5px,#001bff 70.5px,#002aff 89.5px,#0000fb 103.5px,#0000e4 111.5px,#0000db 135.5px,#0000bf 142.5px,#0000a9 146.5px,#0000b5 147.5px,#0000d5 148.5px,#0001ff 149.5px,#002bff 150.5px,#0005ff 156.5px,#0086ff 162.5px,#007bff 164.5px,#006dff 165.5px,#0051ff 166.5px,#0021ff 167.5px,#0000e5 168.5px,#0000b3 169.5px,#00009d 170.5px,#000094 173.5px,#0000aa 190.5px,#0000bd 191.5px,#0000e1 192.5px,#0000a9 194.5px,#0000ac 100%)"></i><i style="left:365px;background:linear-gradient(#0004ff 0,#005aff 22.5px,#0000fc 59.5px,#0000e9 66.5px,#0005ff 73.5px,#003fff 89.5px,#004cff 111.5px,#0000fb 137.5px,#0000c4 145.5px,#000097 150.5px,#00008d 152.5px,#0000bd 153.5px,#0008ff 154.5px,#00a1ff 156.5px,#000eff 161.5px,#0000f0 162.5px,#0009ff 163.5px,#002cff 165.5px,#002bff 166.5px,#0012ff 167.5px,#0000e2 168.5px,#0000b1 169.5px,#000095 170.5px,#000085 172.5px,#000091 189.5px,#0000a1 190.5px,#0000fa 191.5px,#00ccff 192.5px,#00f0ff 193.5px,#00c2ff 194.5px,#000cff 197.5px,#0000ce 198.5px,#000098 199.5px,#000099 100%)"></i><i style="left:366px;background:linear-gradient(#0009ff 0,#0088ff 22.5px,#001aff 47.5px,#0000fa 58.5px,#0000e3 66.5px,#0003ff 74.5px,#0040ff 91.5px,#0062ff 111.5px,#0035ff 133.5px,#0000fa 141.5px,#0000cd 145.5px,#0000c9 146.5px,#0000d1 147.5px,#0009ff 149.5px,#0027ff 150.5px,#04fffb 154.5px,#73ff8c 156.5px,#08fff7 158.5px,#009dff 160.5px,#0032ff 162.5px,#006aff 164.5px,#007aff 165.5px,#0076ff 166.5px,#0051ff 167.5px,#000eff 168.5px,#0000c5 169.5px,#00009e 170.5px,#00008c 171.5px,#000086 177.5px,#00008c 189.5px,#000094 190.5px,#0000cd 191.5px,#0079ff 192.5px,#00c0ff 193.5px,#00cdff 194.5px,#00cdff 198.5px,#00f6ff 199.5px,#20ffdf 100%)"></i><i style="left:367px;background:linear-gradient(#0018ff 0,#008bff 22.5px,#0015ff 45.5px,#0000f9 63.5px,#0000fb 74.5px,#000fff 91.5px,#003fff 112.5px,#0039ff 132.5px,#0011ff 139.5px,#0000fd 141.5px,#0000df 144.5px,#0000ea 146.5px,#0002ff 147.5px,#003eff 149.5px,#004cff 150.5px,#00e9ff 155.5px,#08fff7 156.5px,#00f5ff 158.5px,#00d1ff 162.5px,#009fff 164.5px,#007eff 165.5px,#0052ff 166.5px,#001bff 167.5px,#0000e4 168.5px,#0000c2 169.5px,#0000a5 171.5px,#00008e 175.5px,#000098 195.5px,#0000f8 197.5px,#002aff 198.5px,#0000d3 199.5px,#000092 100%)"></i><i style="left:368px;background:linear-gradient(#0011ff 0,#004bff 22.5px,#0009ff 47.5px,#0000f5 66.5px,#0000f8 89.5px,#001bff 101.5px,#0033ff 111.5px,#001eff 134.5px,#0000ff 140.5px,#0000f1 143.5px,#0000f5 145.5px,#0005ff 146.5px,#002aff 147.5px,#0096ff 149.5px,#00bdff 150.5px,#00c9ff 153.5px,#00cbff 156.5px,#006bff 164.5px,#003eff 166.5px,#0019ff 167.5px,#0000f0 168.5px,#0000c6 170.5px,#000091 176.5px,#000099 189.5px,#00009f 190.5px,#0000c5 191.5px,#002aff 192.5px,#0000e0 193.5px,#00009c 194.5px,#00009c 100%)"></i><i style="left:369px;background:linear-gradient(#0000ff 0,#0000fd 51.5px,#000fff 90.5px,#0040ff 111.5px,#0014ff 138.5px,#0000fd 147.5px,#001eff 148.5px,#0092ff 150.5px,#009aff 156.5px,#0042ff 162.5px,#004dff 165.5px,#0044ff 166.5px,#002dff 167.5px,#000bff 168.5px,#0000e9 169.5px,#0000cb 171.5px,#00008b 178.5px,#000097 193.5px,#0000b6 194.5px,#0000e0 195.5px,#000bff 196.5px,#005fff 198.5px,#00a0ff 100%)"></i><i style="left:370px;background:linear-gradient(#0000e9 0,#0000f7 25.5px,#0000ea 45.5px,#0007ff 54.5px,#002bff 67.5px,#0005ff 89.5px,#002cff 112.5px,#001aff 136.5px,#0028ff 142.5px,#0027ff 146.5px,#0051ff 150.5px,#005aff 156.5px,#00afff 162.5px,#00b1ff 164.5px,#00a9ff 165.5px,#0095ff 166.5px,#006eff 167.5px,#000cff 169.5px,#0000f2 170.5px,#00008c 179.5px,#000093 190.5px,#0000af 191.5px,#0000fe 192.5px,#0009ff 193.5px,#0000f4 194.5px,#000092 198.5px,#000096 100%)"></i><i style="left:371px;background:linear-gradient(#0000f9 0,#0019ff 23.5px,#0000fa 41.5px,#0000f9 45.5px,#003dff 60.5px,#0058ff 66.5px,#000bff 89.5px,#0020ff 111.5px,#0000fb 130.5px,#0000f8 133.5px,#0002ff 135.5px,#0020ff 139.5px,#0034ff 145.5px,#0064ff 148.5px,#0063ff 149.5px,#0054ff 150.5px,#00f2ff 155.5px,#13ffec 156.5px,#00f3ff 157.5px,#0059ff 162.5px,#009bff 164.5px,#00b1ff 165.5px,#00b8ff 166.5px,#00a2ff 167.5px,#0070ff 168.5px,#0031ff 169.5px,#0010ff 170.5px,#0000fe 171.5px,#0000af 178.5px,#000094 180.5px,#000097 192.5px,#0000fa 195.5px,#0062ff 198.5px,#0046ff 100%)"></i><i style="left:372px;background:linear-gradient(#003cff 0,#0010ff 24.5px,#001aff 45.5px,#0086ff 66.5px,#002bff 89.5px,#0038ff 111.5px,#0000fa 130.5px,#0000f4 133.5px,#0002ff 134.5px,#0026ff 138.5px,#002eff 144.5px,#002aff 147.5px,#003dff 148.5px,#00e7ff 152.5px,#10ffef 153.5px,#86ff79 156.5px,#16ffe9 159.5px,#00f0ff 160.5px,#00a5ff 162.5px,#00f5ff 164.5px,#10ffef 165.5px,#15ffea 166.5px,#00f3ff 167.5px,#00afff 168.5px,#0058ff 169.5px,#002dff 170.5px,#000eff 172.5px,#0000f9 174.5px,#00009b 181.5px,#00009d 191.5px,#0000a5 194.5px,#00009d 100%)"></i><i style="left:373px;background:linear-gradient(#007cff 0,#0001ff 22.5px,#004bff 46.5px,#0060ff 67.5px,#002aff 89.5px,#0042ff 111.5px,#000bff 132.5px,#0036ff 136.5px,#0040ff 141.5px,#0041ff 145.5px,#0083ff 149.5px,#0088ff 150.5px,#00faff 153.5px,#6cff93 156.5px,#17ffe8 157.5px,#00c0ff 158.5px,#006aff 159.5px,#005dff 160.5px,#005cff 164.5px,#002eff 171.5px,#0004ff 174.5px,#0000bc 179.5px,#00009c 181.5px,#000095 184.5px,#000097 100%)"></i><i style="left:374px;background:linear-gradient(#0058ff 0,#003aff 25.5px,#003dff 49.5px,#001fff 89.5px,#0045ff 111.5px,#000eff 131.5px,#0040ff 136.5px,#0048ff 140.5px,#004aff 144.5px,#0052ff 145.5px,#0066ff 146.5px,#0094ff 147.5px,#00e1ff 148.5px,#3cffc3 149.5px,#90ff6f 150.5px,#73ff8c 152.5px,#15ffea 156.5px,#26ffd9 162.5px,#43ffbc 164.5px,#43ffbc 165.5px,#33ffcc 166.5px,#07fff8 167.5px,#0082ff 169.5px,#005bff 170.5px,#0003ff 174.5px,#000083 182.5px,#000091 100%)"></i><i style="left:375px;background:linear-gradient(#001eff 0,#0042ff 23.5px,#0006ff 44.5px,#0039ff 67.5px,#0019ff 89.5px,#0037ff 111.5px,#0017ff 129.5px,#0014ff 130.5px,#0048ff 135.5px,#0053ff 139.5px,#0065ff 145.5px,#006eff 146.5px,#008cff 147.5px,#07fff8 149.5px,#4dffb2 150.5px,#73ff8c 153.5px,#8dff72 156.5px,#f7ff08 161.5px,#fff300 162.5px,#edff12 163.5px,#94ff6b 165.5px,#57ffa8 166.5px,#0cfff3 167.5px,#00bfff 168.5px,#008eff 169.5px,#0059ff 171.5px,#0000fe 175.5px,#000086 182.5px,#000080 185.5px,#00008a 100%)"></i><i style="left:376px;background:linear-gradient(#0012ff 0,#0008ff 28.5px,#0018ff 49.5px,#0032ff 67.5px,#000bff 89.5px,#002bff 127.5px,#0029ff 129.5px,#0061ff 134.5px,#0082ff 143.5px,#009bff 145.5px,#00b8ff 146.5px,#00e5ff 147.5px,#12ffed 148.5px,#2affd5 149.5px,#4cffb3 156.5px,#b4ff4b 162.5px,#92ff6d 164.5px,#75ff8a 165.5px,#4effb1 166.5px,#1affe5 167.5px,#00e1ff 168.5px,#00b5ff 169.5px,#0086ff 171.5px,#0029ff 175.5px,#000dff 176.5px,#0000f9 177.5px,#00008b 183.5px,#00008d 100%)"></i><i style="left:377px;background:linear-gradient(#0003ff 0,#0000f3 24.5px,#0008ff 35.5px,#0020ff 53.5px,#0027ff 68.5px,#000bff 89.5px,#003cff 122.5px,#003eff 129.5px,#007eff 134.5px,#00a8ff 139.5px,#00bdff 144.5px,#00cbff 145.5px,#00e8ff 146.5px,#1bffe4 147.5px,#55ffaa 148.5px,#7fff80 149.5px,#98ff67 150.5px,#80ff7f 154.5px,#71ff8e 156.5px,#bbff44 162.5px,#81ff7e 164.5px,#0dfff2 167.5px,#00edff 168.5px,#00d1ff 170.5px,#0030ff 176.5px,#0013ff 177.5px,#0000ff 178.5px,#00009e 183.5px,#000096 191.5px,#000093 100%)"></i><i style="left:378px;background:linear-gradient(#0000fb 0,#0016ff 47.5px,#0030ff 67.5px,#0000fa 85.5px,#0000f5 89.5px,#000aff 96.5px,#0059ff 123.5px,#005cff 128.5px,#00acff 134.5px,#00e4ff 139.5px,#00f5ff 144.5px,#01fffe 145.5px,#2affd5 147.5px,#86ff79 150.5px,#66ff99 156.5px,#87ff78 162.5px,#88ff77 163.5px,#19ffe6 169.5px,#02fffd 170.5px,#00c4ff 172.5px,#0020ff 177.5px,#0007ff 178.5px,#0000ca 181.5px,#0000a7 183.5px,#00009d 184.5px,#00009d 188.5px,#000090 100%)"></i><i style="left:379px;background:linear-gradient(#0016ff 0,#0026ff 28.5px,#001dff 47.5px,#0000f9 65.5px,#0000fb 91.5px,#001dff 110.5px,#006fff 122.5px,#0094ff 128.5px,#00d9ff 132.5px,#03fffc 136.5px,#1fffe0 139.5px,#33ffcc 144.5px,#64ff9b 151.5px,#b0ff4f 156.5px,#beff41 159.5px,#c3ff3c 163.5px,#3dffc2 169.5px,#0afff5 171.5px,#00eeff 172.5px,#004aff 178.5px,#0006ff 182.5px,#0000e3 184.5px,#0000e6 186.5px,#000098 194.5px,#000092 100%)"></i><i style="left:380px;background:linear-gradient(#002dff 0,#0058ff 22.5px,#0001ff 48.5px,#0000d3 66.5px,#0003ff 79.5px,#0022ff 89.5px,#0012ff 110.5px,#005fff 119.5px,#00adff 126.5px,#00c2ff 128.5px,#00fcff 131.5px,#1affe5 134.5px,#51ffae 138.5px,#6fff90 142.5px,#80ff7f 146.5px,#c2ff3d 149.5px,#e8ff17 153.5px,#f6ff09 154.5px,#fff500 155.5px,#ffd400 156.5px,#ffbd00 157.5px,#ff9d00 162.5px,#ffa100 163.5px,#fff100 165.5px,#f2ff0d 166.5px,#c9ff36 169.5px,#94ff6b 170.5px,#4cffb3 172.5px,#1fffe0 173.5px,#00ebff 174.5px,#0051ff 178.5px,#000fff 181.5px,#0000f6 182.5px,#0000c6 184.5px,#0000bc 186.5px,#0000d3 191.5px,#0000c5 194.5px,#0000a4 198.5px,#00009d 100%)"></i><i style="left:381px;background:linear-gradient(#0036ff 0,#0068ff 22.5px,#0000fd 41.5px,#0000ec 44.5px,#0006ff 62.5px,#0019ff 90.5px,#0006ff 110.5px,#0044ff 117.5px,#008bff 122.5px,#00c4ff 126.5px,#00cbff 127.5px,#00f7ff 129.5px,#1dffe2 131.5px,#46ffb9 134.5px,#b3ff4c 140.5px,#cdff32 144.5px,#fffe00 146.5px,#ffd000 148.5px,#ffb200 149.5px,#ff6e00 152.5px,#ff1500 155.5px,#f40000 156.5px,#ce0000 157.5px,#9b0000 162.5px,#a90000 163.5px,#ea0000 164.5px,#ff1b00 165.5px,#ff9500 168.5px,#feff01 169.5px,#b7ff48 170.5px,#8aff75 171.5px,#80ff7f 172.5px,#45ffba 174.5px,#0dfff2 175.5px,#00b6ff 176.5px,#0061ff 177.5px,#0027ff 178.5px,#0001ff 179.5px,#0000dd 180.5px,#0000b1 184.5px,#0000bc 186.5px,#0000fb 188.5px,#0032ff 190.5px,#0041ff 191.5px,#0042ff 192.5px,#0013ff 193.5px,#0000e5 194.5px,#0000c3 195.5px,#0000ac 196.5px,#00009a 198.5px,#000097 100%)"></i><i style="left:382px;background:linear-gradient(#003dff 0,#0048ff 23.5px,#0007ff 44.5px,#0035ff 67.5px,#0006ff 90.5px,#000bff 109.5px,#0030ff 115.5px,#005fff 119.5px,#00cfff 125.5px,#00e4ff 127.5px,#00fdff 128.5px,#47ffb8 132.5px,#52ffad 133.5px,#c4ff3b 138.5px,#f8ff07 140.5px,#fff400 141.5px,#ff8f00 145.5px,#ff7b00 146.5px,#ff1200 148.5px,#d70000 149.5px,#bd0000 150.5px,#960000 151.5px,#800000 152.5px,#800000 167.5px,#d10000 168.5px,#ff9400 169.5px,#ffcb00 170.5px,#ff6900 172.5px,#ff6200 173.5px,#ff6c00 174.5px,#ffd400 175.5px,#75ff8a 176.5px,#00bbff 177.5px,#0049ff 178.5px,#0000fd 179.5px,#0000d5 181.5px,#0000da 182.5px,#0008ff 184.5px,#0028ff 185.5px,#0052ff 186.5px,#001cff 190.5px,#0008ff 191.5px,#0000e8 193.5px,#00009f 197.5px,#00008d 100%)"></i><i style="left:383px;background:linear-gradient(#0031ff 0,#003aff 25.5px,#0025ff 46.5px,#003fff 67.5px,#0019ff 89.5px,#0044ff 109.5px,#005fff 116.5px,#007dff 119.5px,#00ceff 123.5px,#00f3ff 125.5px,#00feff 126.5px,#09fff6 127.5px,#43ffbc 130.5px,#6dff92 133.5px,#d3ff2c 137.5px,#f6ff09 138.5px,#ffc600 140.5px,#ff8400 141.5px,#ff5000 142.5px,#ff1100 144.5px,#d40000 145.5px,#9d0000 146.5px,#800000 147.5px,#800000 168.5px,#ff6500 169.5px,#ffb600 170.5px,#ff7b00 171.5px,#ff7200 172.5px,#ff9100 173.5px,#f9ff06 175.5px,#5effa1 176.5px,#00c0ff 177.5px,#0082ff 178.5px,#0066ff 179.5px,#0058ff 180.5px,#0000f9 183.5px,#0000be 185.5px,#0000b2 186.5px,#0000f5 189.5px,#0007ff 190.5px,#0012ff 191.5px,#0012ff 192.5px,#0000e2 193.5px,#0000bc 194.5px,#0000a1 195.5px,#00008c 197.5px,#00008c 100%)"></i><i style="left:384px;background:linear-gradient(#003cff 0,#004eff 23.5px,#0019ff 46.5px,#0023ff 75.5px,#004cff 107.5px,#0064ff 115.5px,#008bff 119.5px,#00ceff 122.5px,#02fffd 124.5px,#2fffd0 127.5px,#67ff98 130.5px,#93ff6c 133.5px,#fffc00 137.5px,#ffb100 139.5px,#ff7e00 140.5px,#ff1d00 141.5px,#b20000 142.5px,#800000 143.5px,#800000 168.5px,#ff2200 169.5px,#ff8200 170.5px,#ff3900 171.5px,#ff3800 172.5px,#ff5500 173.5px,#ff8b00 174.5px,#ffb200 175.5px,#cbff34 176.5px,#48ffb7 177.5px,#28ffd7 178.5px,#27ffd8 179.5px,#38ffc7 180.5px,#16ffe9 181.5px,#00f3ff 182.5px,#008eff 185.5px,#007fff 186.5px,#0011ff 190.5px,#0000f2 191.5px,#0000d4 192.5px,#0000a6 195.5px,#000098 199.5px,#000097 100%)"></i><i style="left:385px;background:linear-gradient(#005cff 0,#0063ff 23.5px,#0011ff 45.5px,#001bff 72.5px,#0046ff 108.5px,#005eff 115.5px,#007bff 118.5px,#00b9ff 121.5px,#00f5ff 123.5px,#11ffee 124.5px,#5bffa4 128.5px,#abff54 133.5px,#ffff00 136.5px,#ffba00 138.5px,#ff9300 139.5px,#ff5a00 140.5px,#f30000 141.5px,#800000 142.5px,#800000 168.5px,#ff1e00 169.5px,#ffa500 170.5px,#ff7500 171.5px,#ffae00 173.5px,#ffe000 174.5px,#ccff33 175.5px,#33ffcc 176.5px,#00aeff 177.5px,#008eff 178.5px,#008dff 179.5px,#009fff 180.5px,#006dff 185.5px,#0075ff 186.5px,#0000fa 189.5px,#0000ac 191.5px,#000096 192.5px,#0000af 194.5px,#00009d 100%)"></i><i style="left:386px;background:linear-gradient(#0046ff 0,#0067ff 23.5px,#0033ff 46.5px,#003dff 105.5px,#0054ff 114.5px,#0077ff 118.5px,#00b5ff 121.5px,#00f0ff 123.5px,#0cfff3 124.5px,#30ffcf 126.5px,#53ffac 128.5px,#a3ff5c 133.5px,#fcff03 136.5px,#ffe400 137.5px,#ff7200 140.5px,#ff1a00 141.5px,#c90000 142.5px,#800000 143.5px,#800000 168.5px,#a60000 169.5px,#ff2700 170.5px,#ff0400 171.5px,#ff2100 172.5px,#ff4e00 173.5px,#ff8d00 174.5px,#fff000 175.5px,#4fffb0 176.5px,#0090ff 177.5px,#0036ff 178.5px,#000aff 179.5px,#0000f3 180.5px,#0000ab 184.5px,#0000a2 185.5px,#0000d9 191.5px,#0000d8 192.5px,#0000a4 196.5px,#00009a 100%)"></i><i style="left:387px;background:linear-gradient(#0020ff 0,#0049ff 23.5px,#0025ff 68.5px,#0039ff 90.5px,#0028ff 108.5px,#003bff 113.5px,#0062ff 117.5px,#0098ff 120.5px,#00edff 123.5px,#09fff6 124.5px,#2dffd2 126.5px,#39ffc6 127.5px,#74ff8b 130.5px,#9dff62 133.5px,#eeff11 136.5px,#fff700 137.5px,#ff9400 140.5px,#ff6500 141.5px,#ff1400 142.5px,#c40000 143.5px,#800000 144.5px,#800000 168.5px,#cc0000 169.5px,#ff4900 170.5px,#ff1a00 171.5px,#ff5900 173.5px,#ff9400 174.5px,#fffe00 175.5px,#3cffc3 176.5px,#007dff 177.5px,#0036ff 178.5px,#000dff 179.5px,#0000f6 180.5px,#0000e2 181.5px,#0000d8 182.5px,#0000f3 183.5px,#000fff 184.5px,#002aff 185.5px,#0058ff 186.5px,#0036ff 190.5px,#0000f8 193.5px,#0000b1 196.5px,#000097 199.5px,#000094 100%)"></i><i style="left:388px;background:linear-gradient(#0024ff 0,#000eff 46.5px,#0033ff 67.5px,#001fff 90.5px,#0037ff 108.5px,#0055ff 113.5px,#0093ff 118.5px,#00d1ff 121.5px,#06fff9 123.5px,#30ffcf 125.5px,#44ffbb 127.5px,#79ff86 130.5px,#95ff6a 133.5px,#f7ff08 138.5px,#ffcf00 140.5px,#ffb300 141.5px,#ff4f00 143.5px,#ff2800 144.5px,#ef0000 145.5px,#9c0000 146.5px,#800000 147.5px,#800000 168.5px,#d90000 169.5px,#ff4d00 170.5px,#ff0800 171.5px,#ff1a00 172.5px,#ff4600 173.5px,#ff8e00 174.5px,#ffa800 175.5px,#e2ff1d 176.5px,#6eff91 177.5px,#5effa1 178.5px,#6dff92 179.5px,#8eff71 180.5px,#0bfff4 183.5px,#00deff 184.5px,#00b2ff 185.5px,#007aff 187.5px,#0015ff 190.5px,#0000f0 191.5px,#0000cc 192.5px,#0000bb 194.5px,#000095 197.5px,#000089 100%)"></i><i style="left:389px;background:linear-gradient(#0050ff 0,#0009ff 23.5px,#0009ff 45.5px,#0056ff 66.5px,#000aff 88.5px,#0065ff 108.5px,#0097ff 115.5px,#00d7ff 120.5px,#00fcff 122.5px,#2cffd3 125.5px,#42ffbd 128.5px,#64ff9b 131.5px,#72ff8d 134.5px,#afff50 138.5px,#f9ff06 141.5px,#ffe200 143.5px,#ff7500 146.5px,#ff2f00 147.5px,#cd0000 148.5px,#800000 149.5px,#800000 168.5px,#ff1e00 169.5px,#ff7e00 170.5px,#ff2c00 171.5px,#ff1b00 172.5px,#ff2600 173.5px,#ff4800 174.5px,#ffa200 175.5px,#a2ff5d 176.5px,#00e5ff 177.5px,#008bff 178.5px,#0053ff 179.5px,#002cff 180.5px,#0022ff 185.5px,#0033ff 186.5px,#0000f8 189.5px,#0000b7 192.5px,#00008e 196.5px,#000087 100%)"></i><i style="left:390px;background:linear-gradient(#0062ff 0,#0023ff 24.5px,#0019ff 46.5px,#003eff 67.5px,#0026ff 90.5px,#0042ff 108.5px,#0065ff 114.5px,#00b2ff 121.5px,#00e1ff 125.5px,#00ecff 128.5px,#06fff9 130.5px,#1affe5 133.5px,#2affd5 135.5px,#6fff90 139.5px,#9bff64 141.5px,#c1ff3e 144.5px,#dbff24 145.5px,#ffff00 146.5px,#ffbb00 148.5px,#ffa500 149.5px,#ffd800 150.5px,#ffe900 151.5px,#ffaa00 152.5px,#c20000 153.5px,#c50000 155.5px,#af0000 156.5px,#800000 157.5px,#800000 167.5px,#b90000 168.5px,#ff5e00 169.5px,#ffb100 170.5px,#ff7300 171.5px,#ff6e00 172.5px,#ff8e00 173.5px,#ffc400 174.5px,#e1ff1e 175.5px,#2affd5 176.5px,#0072ff 177.5px,#001dff 178.5px,#0000f9 179.5px,#0000d0 181.5px,#0000cb 184.5px,#0000d3 185.5px,#0000e7 186.5px,#0000d2 191.5px,#000095 197.5px,#00008e 100%)"></i><i style="left:391px;background:linear-gradient(#0039ff 0,#004eff 24.5px,#002fff 49.5px,#002dff 68.5px,#0050ff 88.5px,#0000fb 102.5px,#0000d5 110.5px,#0000fb 114.5px,#0080ff 125.5px,#008aff 128.5px,#00c2ff 132.5px,#00d4ff 135.5px,#00f9ff 137.5px,#6cff93 144.5px,#78ff87 145.5px,#a7ff58 146.5px,#fff700 147.5px,#ff6600 148.5px,#eb0000 149.5px,#bd0000 150.5px,#830000 151.5px,#800000 166.5px,#ad0000 167.5px,#ff6f00 168.5px,#fdff02 169.5px,#f9ff06 170.5px,#ffaf00 171.5px,#ff7900 172.5px,#ff7000 173.5px,#ff7700 174.5px,#ffbd00 175.5px,#9cff63 176.5px,#00f4ff 177.5px,#00abff 178.5px,#0088ff 179.5px,#000eff 184.5px,#0000fe 185.5px,#0000f9 186.5px,#001bff 190.5px,#000fff 192.5px,#0000f5 193.5px,#0000bf 195.5px,#00009f 197.5px,#000092 100%)"></i><i style="left:392px;background:linear-gradient(#002cff 0,#004eff 27.5px,#0050ff 47.5px,#0038ff 67.5px,#0067ff 88.5px,#0003ff 99.5px,#0000a8 110.5px,#0000f9 117.5px,#002dff 121.5px,#005cff 126.5px,#006cff 129.5px,#0096ff 132.5px,#00b0ff 136.5px,#00f1ff 140.5px,#09fff6 142.5px,#30ffcf 144.5px,#82ff7d 146.5px,#dfff20 147.5px,#ffcb00 148.5px,#ff0300 150.5px,#e00000 151.5px,#850000 153.5px,#800000 165.5px,#870000 166.5px,#ff5000 167.5px,#ffeb00 168.5px,#cfff30 169.5px,#c0ff3f 170.5px,#fff300 171.5px,#ffd400 172.5px,#ffec00 173.5px,#e9ff16 174.5px,#c0ff3f 175.5px,#4dffb2 176.5px,#00d6ff 177.5px,#00a9ff 178.5px,#0099ff 180.5px,#0042ff 184.5px,#0023ff 190.5px,#0003ff 192.5px,#0000b5 195.5px,#000099 197.5px,#00008f 100%)"></i><i style="left:393px;background:linear-gradient(#0035ff 0,#0026ff 25.5px,#0038ff 49.5px,#003bff 69.5px,#005aff 88.5px,#0000fe 107.5px,#0000f5 110.5px,#000cff 113.5px,#005bff 121.5px,#0070ff 126.5px,#006aff 129.5px,#008eff 133.5px,#00abff 137.5px,#06fff9 143.5px,#71ff8e 146.5px,#e0ff1f 148.5px,#ffee00 149.5px,#ffbd00 150.5px,#ff0c00 156.5px,#f60000 157.5px,#ff0b00 161.5px,#ff1c00 165.5px,#ff2a00 166.5px,#ffc500 167.5px,#e7ff18 168.5px,#a3ff5c 169.5px,#86ff79 170.5px,#96ff69 171.5px,#85ff7a 172.5px,#20ffdf 174.5px,#10ffef 175.5px,#00e4ff 176.5px,#00b8ff 177.5px,#00a8ff 178.5px,#00b2ff 180.5px,#0022ff 183.5px,#0000f1 184.5px,#0000b5 186.5px,#0000d3 191.5px,#0000d1 192.5px,#00009b 196.5px,#00008f 100%)"></i><i style="left:394px;background:linear-gradient(#001aff 0,#001aff 26.5px,#0008ff 46.5px,#002eff 75.5px,#0036ff 95.5px,#003aff 109.5px,#0052ff 113.5px,#0099ff 119.5px,#00a9ff 123.5px,#0099ff 128.5px,#008dff 130.5px,#00beff 138.5px,#00e5ff 141.5px,#01fffe 142.5px,#7cff83 146.5px,#aeff51 148.5px,#e1ff1e 149.5px,#fbff04 150.5px,#ff9f00 157.5px,#ffe200 166.5px,#e3ff1c 167.5px,#89ff76 168.5px,#3effc1 169.5px,#15ffea 170.5px,#00eeff 171.5px,#0083ff 174.5px,#001aff 177.5px,#0006ff 178.5px,#0000f0 180.5px,#0000b3 184.5px,#0000bb 186.5px,#00009c 192.5px,#00009b 100%)"></i><i style="left:395px;background:linear-gradient(#0020ff 0,#0022ff 25.5px,#0006ff 45.5px,#0036ff 68.5px,#002eff 108.5px,#0042ff 112.5px,#00a4ff 119.5px,#00bbff 123.5px,#00b7ff 128.5px,#00acff 130.5px,#00c9ff 138.5px,#00d5ff 140.5px,#09fff6 142.5px,#82ff7d 147.5px,#a5ff5a 149.5px,#c2ff3d 152.5px,#f8ff07 156.5px,#fbff04 157.5px,#b4ff4b 166.5px,#8bff74 167.5px,#4affb5 168.5px,#1dffe2 169.5px,#00efff 170.5px,#009cff 172.5px,#0001ff 177.5px,#000096 183.5px,#00008c 184.5px,#000095 100%)"></i><i style="left:396px;background:linear-gradient(#0047ff 0,#0013ff 23.5px,#0064ff 66.5px,#0035ff 94.5px,#002fff 109.5px,#0043ff 112.5px,#0089ff 116.5px,#00ccff 120.5px,#00f1ff 125.5px,#00fbff 131.5px,#08fff7 134.5px,#00f5ff 138.5px,#00f3ff 140.5px,#04fffb 141.5px,#76ff89 149.5px,#88ff77 157.5px,#6aff95 165.5px,#63ff9c 166.5px,#52ffad 167.5px,#09fff6 169.5px,#00adff 171.5px,#000fff 176.5px,#0000fa 177.5px,#000090 183.5px,#000093 100%)"></i><i style="left:397px;background:linear-gradient(#0056ff 0,#0019ff 22.5px,#0077ff 45.5px,#007cff 67.5px,#0044ff 90.5px,#0040ff 109.5px,#004dff 111.5px,#007bff 114.5px,#00e9ff 119.5px,#07fff8 121.5px,#3affc5 127.5px,#51ffae 132.5px,#35ffca 136.5px,#17ffe8 139.5px,#0dfff2 141.5px,#24ffdb 149.5px,#0efff1 154.5px,#25ffda 157.5px,#28ffd7 166.5px,#1dffe2 167.5px,#06fff9 168.5px,#00e3ff 169.5px,#0056ff 173.5px,#001aff 175.5px,#0006ff 176.5px,#0000b3 181.5px,#000095 183.5px,#00009e 100%)"></i><i style="left:398px;background:linear-gradient(#0081ff 0,#0092ff 27.5px,#0080ff 56.5px,#0079ff 69.5px,#0089ff 89.5px,#0060ff 110.5px,#0085ff 113.5px,#01fffe 119.5px,#2dffd2 123.5px,#5fffa0 132.5px,#4dffb2 133.5px,#18ffe7 142.5px,#07fff8 148.5px,#00f4ff 150.5px,#00dbff 154.5px,#00e9ff 157.5px,#00d7ff 166.5px,#00b8ff 168.5px,#0005ff 174.5px,#000088 182.5px,#0000a6 199.5px,#0000a3 100%)"></i><i style="left:399px;background:linear-gradient(#006dff 0,#00e3ff 22.5px,#008eff 46.5px,#0070ff 67.5px,#00a2ff 89.5px,#0093ff 110.5px,#00b3ff 113.5px,#00fdff 117.5px,#26ffd9 120.5px,#33ffcc 124.5px,#31ffce 132.5px,#1dffe2 134.5px,#27ffd8 137.5px,#49ffb6 145.5px,#4bffb4 148.5px,#2bffd4 155.5px,#00fdff 162.5px,#00d9ff 166.5px,#00b3ff 168.5px,#0031ff 172.5px,#000eff 173.5px,#0000f1 174.5px,#0000ab 178.5px,#000080 181.5px,#000080 100%)"></i><i style="left:400px;background:linear-gradient(#002bff 0,#007fff 23.5px,#006bff 66.5px,#005fff 89.5px,#0092ff 110.5px,#00a6ff 113.5px,#00e5ff 118.5px,#00eaff 121.5px,#00bcff 127.5px,#008bff 134.5px,#0086ff 135.5px,#00d9ff 143.5px,#01fffe 147.5px,#10ffef 157.5px,#00fcff 164.5px,#00e1ff 167.5px,#00b2ff 169.5px,#0030ff 173.5px,#0007ff 175.5px,#0000f4 176.5px,#000091 181.5px,#000080 186.5px,#000080 100%)"></i><i style="left:401px;background:linear-gradient(#0036ff 0,#002fff 23.5px,#0071ff 45.5px,#004bff 75.5px,#0045ff 90.5px,#0073ff 111.5px,#0096ff 115.5px,#00b4ff 118.5px,#00b2ff 121.5px,#0041ff 133.5px,#002dff 136.5px,#0068ff 143.5px,#0086ff 149.5px,#008aff 154.5px,#00a6ff 158.5px,#00b9ff 165.5px,#00b1ff 167.5px,#008eff 169.5px,#0041ff 172.5px,#000bff 175.5px,#0000fa 176.5px,#0000ac 180.5px,#000080 192.5px,#000080 100%)"></i><i style="left:402px;background:linear-gradient(#002aff 0,#0016ff 22.5px,#007eff 44.5px,#0050ff 67.5px,#005bff 93.5px,#0057ff 110.5px,#007aff 114.5px,#00b2ff 118.5px,#00bfff 121.5px,#0090ff 132.5px,#0061ff 137.5px,#0084ff 144.5px,#0084ff 149.5px,#007cff 154.5px,#0090ff 158.5px,#0096ff 165.5px,#008bff 167.5px,#0005ff 174.5px,#0000b1 179.5px,#00009b 100%)"></i><i style="left:403px;background:linear-gradient(#002bff 0,#003aff 24.5px,#0075ff 45.5px,#0077ff 68.5px,#00a7ff 88.5px,#005cff 110.5px,#007dff 114.5px,#00b3ff 118.5px,#00c1ff 121.5px,#0098ff 132.5px,#006cff 138.5px,#009bff 146.5px,#009aff 155.5px,#00a0ff 164.5px,#008eff 167.5px,#0059ff 170.5px,#0008ff 174.5px,#0000e6 176.5px,#0000c1 178.5px,#000092 199.5px,#000094 100%)"></i><i style="left:404px;background:linear-gradient(#007aff 0,#009cff 68.5px,#00d4ff 88.5px,#0081ff 110.5px,#0096ff 114.5px,#00b6ff 118.5px,#00b1ff 121.5px,#0053ff 131.5px,#003bff 138.5px,#0042ff 140.5px,#0081ff 147.5px,#00a9ff 159.5px,#00a8ff 165.5px,#008cff 168.5px,#0013ff 174.5px,#0003ff 175.5px,#0000de 177.5px,#000080 196.5px,#000080 100%)"></i><i style="left:405px;background:linear-gradient(#00adff 0,#00b8ff 29.5px,#00a7ff 55.5px,#009eff 68.5px,#00baff 90.5px,#00acff 111.5px,#00c9ff 118.5px,#00b6ff 121.5px,#002aff 131.5px,#001aff 134.5px,#001dff 141.5px,#005bff 147.5px,#008eff 157.5px,#0094ff 165.5px,#007bff 168.5px,#000eff 174.5px,#0000fe 175.5px,#0000e9 177.5px,#000093 198.5px,#000096 100%)"></i><i style="left:406px;background:linear-gradient(#00a2ff 0,#00c0ff 24.5px,#00adff 48.5px,#008bff 68.5px,#009aff 89.5px,#00eeff 111.5px,#03fffc 118.5px,#00f2ff 120.5px,#009fff 125.5px,#0033ff 131.5px,#0024ff 132.5px,#0020ff 140.5px,#0029ff 143.5px,#0053ff 148.5px,#0085ff 158.5px,#0091ff 165.5px,#007fff 168.5px,#0021ff 174.5px,#0016ff 176.5px,#0000fa 197.5px,#0000fb 100%)"></i><i style="left:407px;background:linear-gradient(#00e4ff 0,#05fffa 20.5px,#00faff 46.5px,#00c2ff 67.5px,#00d8ff 89.5px,#02fffd 98.5px,#3dffc2 111.5px,#57ffa8 118.5px,#46ffb9 121.5px,#00faff 127.5px,#00c0ff 132.5px,#00b5ff 142.5px,#00beff 146.5px,#00f0ff 159.5px,#00f6ff 166.5px,#00ddff 169.5px,#00a5ff 173.5px,#0088ff 199.5px,#008aff 100%)"></i><i style="left:408px;background:linear-gradient(#ffca00 0,#ffb800 46.5px,#ffd400 69.5px,#ffc600 112.5px,#ffad00 121.5px,#ffc800 150.5px,#ffb100 161.5px,#ffb400 167.5px,#ffd500 172.5px,#fff900 100%)"></i><i style="left:409px;background:#800000"></i><i style="left:410px;background:#800000"></i><i style="left:411px;background:#800000"></i><i style="left:412px;background:#800000"></i><i style="left:413px;background:linear-gradient(#97ff68 0,#79ff86 24.5px,#8fff70 47.5px,#7bff84 90.5px,#99ff66 114.5px,#92ff6d 126.5px,#6eff91 132.5px,#4bffb4 137.5px,#2fffd0 155.5px,#37ffc8 184.5px,#41ffbe 100%)"></i><i style="left:414px;background:linear-gradient(#00ceff 0,#00b4ff 23.5px,#00faff 44.5px,#00ccff 69.5px,#00c5ff 112.5px,#00d5ff 124.5px,#00c2ff 128.5px,#0089ff 132.5px,#0058ff 135.5px,#003bff 139.5px,#002bff 156.5px,#002dff 183.5px,#0037ff 100%)"></i><i style="left:415px;background:linear-gradient(#009eff 0,#0093ff 23.5px,#00efff 44.5px,#00a0ff 67.5px,#00b4ff 90.5px,#00a6ff 108.5px,#00a4ff 124.5px,#0086ff 128.5px,#0008ff 135.5px,#0000f3 137.5px,#0000e1 143.5px,#0000dd 182.5px,#0000e8 100%)"></i><i style="left:416px;background:linear-gradient(#00b6ff 0,#00a2ff 23.5px,#00eaff 44.5px,#00bcff 67.5px,#00dfff 78.5px,#05fffa 83.5px,#1effe1 87.5px,#16ffe9 90.5px,#00fdff 93.5px,#00d4ff 100.5px,#009fff 124.5px,#0087ff 127.5px,#0054ff 130.5px,#0000fe 134.5px,#0000d8 137.5px,#0000c6 142.5px,#0000c0 187.5px,#0000c5 100%)"></i><i style="left:417px;background:linear-gradient(#00b5ff 0,#00b2ff 25.5px,#00ccff 47.5px,#00d5ff 67.5px,#00f3ff 75.5px,#03fffc 77.5px,#41ffbe 82.5px,#7aff85 86.5px,#7fff80 88.5px,#5cffa3 91.5px,#0cfff3 96.5px,#00ffff 97.5px,#00cfff 103.5px,#00b4ff 111.5px,#00b0ff 124.5px,#009bff 127.5px,#0067ff 130.5px,#0004ff 134.5px,#0000d4 137.5px,#0000bc 142.5px,#0000b1 164.5px,#0000b1 100%)"></i><i style="left:418px;background:linear-gradient(#0087ff 0,#009aff 28.5px,#00b2ff 48.5px,#00c5ff 73.5px,#00e0ff 78.5px,#05fffa 81.5px,#4dffb2 86.5px,#4effb1 88.5px,#40ffbf 90.5px,#01fffe 94.5px,#00ccff 99.5px,#00b8ff 106.5px,#00a8ff 123.5px,#008cff 127.5px,#0056ff 130.5px,#000cff 133.5px,#0000f4 134.5px,#0000c8 137.5px,#0000b2 142.5px,#0000ae 170.5px,#0000a6 100%)"></i><i style="left:419px;background:linear-gradient(#0070ff 0,#00aeff 41.5px,#00b1ff 50.5px,#00aaff 70.5px,#00b0ff 77.5px,#00d9ff 83.5px,#00efff 86.5px,#00e6ff 90.5px,#00b1ff 97.5px,#00a8ff 104.5px,#00b0ff 111.5px,#0091ff 124.5px,#0076ff 127.5px,#003fff 130.5px,#000fff 132.5px,#0000f7 133.5px,#0000c4 136.5px,#0000aa 140.5px,#000095 100%)"></i><i style="left:420px;background:linear-gradient(#0057ff 0,#00abff 23.5px,#00aeff 49.5px,#00c2ff 67.5px,#00b6ff 79.5px,#00bfff 87.5px,#00a8ff 101.5px,#00acff 111.5px,#0086ff 123.5px,#0062ff 127.5px,#002aff 130.5px,#0000fa 132.5px,#0000c2 135.5px,#0000a5 138.5px,#000098 145.5px,#00008f 100%)"></i><i style="left:421px;background:linear-gradient(#0042ff 0,#00cbff 22.5px,#009eff 45.5px,#00b2ff 67.5px,#008bff 89.5px,#00beff 110.5px,#0070ff 123.5px,#0042ff 127.5px,#0008ff 130.5px,#0000da 132.5px,#0000a5 136.5px,#000092 141.5px,#000098 162.5px,#000094 100%)"></i><i style="left:422px;background:linear-gradient(#0082ff 0,#00b3ff 25.5px,#00bbff 45.5px,#0066ff 83.5px,#005cff 88.5px,#00c6ff 110.5px,#007fff 123.5px,#004fff 127.5px,#0000fa 131.5px,#0000c1 134.5px,#0000a1 137.5px,#000093 143.5px,#000099 163.5px,#000093 100%)"></i><i style="left:423px;background:linear-gradient(#0080ff 0,#0061ff 22.5px,#00c0ff 44.5px,#0065ff 67.5px,#005fff 89.5px,#0098ff 111.5px,#0083ff 122.5px,#0064ff 126.5px,#0032ff 129.5px,#0006ff 131.5px,#0000bb 135.5px,#00009d 139.5px,#00009a 152.5px,#000091 192.5px,#000092 100%)"></i><i style="left:424px;background:linear-gradient(#0012ff 0,#004fff 46.5px,#0036ff 76.5px,#0032ff 112.5px,#003eff 122.5px,#002cff 126.5px,#0000fa 130.5px,#0000b4 135.5px,#00009d 140.5px,#000090 100%)"></i><i style="left:425px;background:linear-gradient(#0000d4 0,#0000f2 27.5px,#0000fc 74.5px,#0000f1 112.5px,#0000fc 123.5px,#0000e0 128.5px,#0000a8 135.5px,#000097 145.5px,#000098 160.5px,#0000a4 178.5px,#00008b 100%)"></i><i style="left:426px;background:linear-gradient(#0000cb 0,#0000f4 47.5px,#0000e7 72.5px,#0000e5 97.5px,#0000d6 122.5px,#0000af 129.5px,#000095 135.5px,#000094 160.5px,#00009c 181.5px,#000090 100%)"></i><i style="left:427px;background:linear-gradient(#0000c2 0,#0000f1 26.5px,#0000fa 48.5px,#0000ec 70.5px,#0000f0 93.5px,#0000dc 113.5px,#0000b6 124.5px,#000087 132.5px,#00008d 167.5px,#000093 100%)"></i><i style="left:428px;background:linear-gradient(#0000a4 0,#0000f7 23.5px,#0000df 46.5px,#0005ff 86.5px,#0000f4 101.5px,#0000d5 118.5px,#0000b0 126.5px,#00008d 132.5px,#000081 155.5px,#000091 100%)"></i><i style="left:429px;background:linear-gradient(#0000ad 0,#0000ee 23.5px,#0000ca 45.5px,#0000f9 69.5px,#0000fb 91.5px,#0000cd 112.5px,#0000c6 123.5px,#000093 134.5px,#000087 160.5px,#00008e 100%)"></i><i style="left:430px;background:linear-gradient(#0000dc 0,#0000e6 25.5px,#0000d6 46.5px,#0000f0 83.5px,#0000ec 90.5px,#0000b3 111.5px,#0000b3 124.5px,#00008f 134.5px,#000080 183.5px,#000082 100%)"></i><i style="left:431px;background:linear-gradient(#0000d0 0,#0000e5 24.5px,#0000bb 66.5px,#0000f2 88.5px,#0000ad 112.5px,#00009a 125.5px,#000081 134.5px,#000085 157.5px,#000080 190.5px,#000080 100%)"></i><i style="left:432px;background:linear-gradient(#00009e 0,#0000cb 23.5px,#0000a7 54.5px,#0000a2 67.5px,#0000f1 88.5px,#00009c 125.5px,#000081 133.5px,#000082 161.5px,#000082 100%)"></i><i style="left:433px;background:linear-gradient(#0000a1 0,#0000c0 25.5px,#0000bd 70.5px,#0000cc 92.5px,#0000b8 123.5px,#000091 134.5px,#00008b 100%)"></i><i style="left:434px;background:linear-gradient(#0000b4 0,#0000cd 56.5px,#0000c7 71.5px,#0000b1 91.5px,#0000bc 122.5px,#000098 134.5px,#000094 197.5px,#000092 100%)"></i><i style="left:435px;background:linear-gradient(#0000bb 0,#0000c4 29.5px,#0000c3 59.5px,#0000bd 94.5px,#0000c3 112.5px,#0000a6 125.5px,#00008d 133.5px,#0000a1 157.5px,#000093 189.5px,#000091 100%)"></i><i style="left:436px;background:linear-gradient(#0000be 0,#0000df 24.5px,#0000bb 69.5px,#0000c9 92.5px,#0000b6 116.5px,#00008b 133.5px,#00009c 156.5px,#000085 179.5px,#00008d 100%)"></i><i style="left:437px;background:linear-gradient(#0000a9 0,#0000ed 23.5px,#0000b7 53.5px,#0000a8 67.5px,#0000ce 89.5px,#00009f 112.5px,#000097 127.5px,#00008f 136.5px,#00009d 156.5px,#000086 179.5px,#000094 100%)"></i><i style="left:438px;background:linear-gradient(#00009e 0,#0000e5 22.5px,#0000a7 47.5px,#000099 67.5px,#0000c3 89.5px,#000090 113.5px,#000081 134.5px,#0000a2 155.5px,#00008d 178.5px,#00009f 100%)"></i><i style="left:439px;background:linear-gradient(#0000ac 0,#0000bf 24.5px,#00009f 46.5px,#0000b2 76.5px,#0000bd 91.5px,#00009e 125.5px,#00008d 134.5px,#0000a1 156.5px,#00008b 178.5px,#00009f 100%)"></i><i style="left:440px;background:linear-gradient(#0000c6 0,#000093 45.5px,#0000c9 68.5px,#0000cd 91.5px,#0000b4 111.5px,#0000c1 124.5px,#00009c 137.5px,#00008a 180.5px,#000098 100%)"></i><i style="left:441px;background:linear-gradient(#0000c3 0,#0000b6 36.5px,#0000b4 48.5px,#0000de 89.5px,#0000aa 111.5px,#0000b7 124.5px,#000094 138.5px,#00008a 162.5px,#000092 100%)"></i><i style="left:442px;background:linear-gradient(#0000a5 0,#0000cc 27.5px,#0000d1 46.5px,#0000aa 67.5px,#0000d1 91.5px,#0000d1 113.5px,#0000b7 124.5px,#000090 133.5px,#00008e 199.5px,#00008d 100%)"></i><i style="left:443px;background:linear-gradient(#0000ae 0,#0000d5 45.5px,#0000a3 67.5px,#0000d8 97.5px,#0000f3 111.5px,#0000c4 124.5px,#000092 132.5px,#00008f 100%)"></i><i style="left:444px;background:linear-gradient(#0000e2 0,#0000ce 24.5px,#0000e3 46.5px,#0000c8 70.5px,#0000ce 92.5px,#0000e4 112.5px,#0000c7 124.5px,#000095 133.5px,#000085 156.5px,#000096 182.5px,#000093 100%)"></i><i style="left:445px;background:linear-gradient(#0000fa 0,#0000e6 26.5px,#0000ef 68.5px,#0000ce 89.5px,#0000f4 111.5px,#0000c5 124.5px,#000092 132.5px,#000080 153.5px,#0000a1 178.5px,#000092 100%)"></i><i style="left:446px;background:linear-gradient(#0001ff 0,#0000e5 75.5px,#0000dd 89.5px,#0003ff 100.5px,#0022ff 110.5px,#0000fc 117.5px,#0000c1 126.5px,#000094 132.5px,#000080 152.5px,#00009b 178.5px,#00008d 100%)"></i><i style="left:447px;background:linear-gradient(#0019ff 0,#0000fa 26.5px,#0000e3 46.5px,#0000f5 73.5px,#0000fa 91.5px,#001cff 110.5px,#0000ff 115.5px,#000095 132.5px,#000083 153.5px,#000091 179.5px,#000081 100%)"></i><i style="left:448px;background:linear-gradient(#0023ff 0,#0019ff 23.5px,#0000fb 31.5px,#0000cc 44.5px,#0003ff 54.5px,#0043ff 66.5px,#002aff 93.5px,#0000fa 112.5px,#0000c0 121.5px,#00008f 133.5px,#000091 160.5px,#00009b 178.5px,#000080 196.5px,#000080 100%)"></i><i style="left:449px;background:linear-gradient(#001dff 0,#0021ff 25.5px,#0006ff 44.5px,#008aff 66.5px,#006bff 90.5px,#0022ff 109.5px,#0000fc 114.5px,#0000c0 120.5px,#000092 132.5px,#00009d 178.5px,#000080 197.5px,#000080 100%)"></i><i style="left:450px;background:linear-gradient(#001dff 0,#001eff 25.5px,#0042ff 46.5px,#0094ff 66.5px,#005bff 94.5px,#0042ff 108.5px,#0025ff 112.5px,#0000f8 115.5px,#0000bd 119.5px,#00009d 124.5px,#000087 133.5px,#000098 176.5px,#00008a 100%)"></i><i style="left:451px;background:linear-gradient(#0047ff 0,#001dff 24.5px,#001fff 44.5px,#0096ff 66.5px,#0049ff 92.5px,#0025ff 108.5px,#0000fe 113.5px,#0000ab 119.5px,#00008f 124.5px,#000080 145.5px,#000089 167.5px,#00009a 100%)"></i><i style="left:452px;background:linear-gradient(#0063ff 0,#0029ff 24.5px,#0021ff 44.5px,#0097ff 66.5px,#0045ff 96.5px,#0010ff 109.5px,#0000fc 112.5px,#00009e 120.5px,#00008c 126.5px,#000080 159.5px,#000098 194.5px,#000097 100%)"></i><i style="left:453px;background:linear-gradient(#0038ff 0,#005dff 23.5px,#004aff 45.5px,#008dff 66.5px,#0055ff 93.5px,#003cff 108.5px,#0020ff 112.5px,#0004ff 114.5px,#0000b2 119.5px,#000096 123.5px,#000080 157.5px,#000092 179.5px,#000086 100%)"></i><i style="left:454px;background:linear-gradient(#002bff 0,#0083ff 22.5px,#0030ff 44.5px,#0071ff 66.5px,#0036ff 89.5px,#004bff 107.5px,#003bff 111.5px,#0013ff 114.5px,#0001ff 115.5px,#0000ba 119.5px,#00009c 123.5px,#000080 156.5px,#000094 178.5px,#000084 100%)"></i><i style="left:455px;background:linear-gradient(#004bff 0,#007cff 22.5px,#000eff 44.5px,#0068ff 66.5px,#0033ff 89.5px,#0049ff 107.5px,#003aff 111.5px,#0014ff 114.5px,#0001ff 115.5px,#0000bb 119.5px,#00009d 123.5px,#000089 157.5px,#000098 180.5px,#000092 100%)"></i><i style="left:456px;background:linear-gradient(#0067ff 0,#008eff 22.5px,#0038ff 44.5px,#0084ff 66.5px,#0059ff 89.5px,#005fff 107.5px,#0049ff 111.5px,#001bff 114.5px,#0006ff 115.5px,#0000ba 119.5px,#000099 123.5px,#00008d 136.5px,#000092 170.5px,#000091 100%)"></i><i style="left:457px;background:linear-gradient(#005eff 0,#00a0ff 22.5px,#0065ff 44.5px,#009bff 67.5px,#006dff 90.5px,#006aff 107.5px,#005bff 110.5px,#0030ff 113.5px,#0006ff 115.5px,#0000b7 119.5px,#000096 123.5px,#000087 135.5px,#00008b 100%)"></i><i style="left:458px;background:linear-gradient(#0020ff 0,#0083ff 22.5px,#006cff 46.5px,#007fff 68.5px,#005aff 92.5px,#004eff 107.5px,#0036ff 111.5px,#000aff 114.5px,#0000f6 115.5px,#0000b0 119.5px,#000092 123.5px,#000087 136.5px,#000093 100%)"></i><i style="left:459px;background:linear-gradient(#000eff 0,#0066ff 24.5px,#008aff 45.5px,#004fff 67.5px,#003fff 93.5px,#003cff 108.5px,#0022ff 112.5px,#0005ff 114.5px,#0000b1 119.5px,#000095 123.5px,#00008f 136.5px,#000099 100%)"></i><i style="left:460px;background:linear-gradient(#0054ff 0,#003dff 22.5px,#00a1ff 44.5px,#0081ff 61.5px,#0087ff 70.5px,#0051ff 83.5px,#0047ff 89.5px,#006aff 107.5px,#0062ff 110.5px,#003bff 113.5px,#0000fa 116.5px,#0000c1 119.5px,#0000a4 122.5px,#000095 130.5px,#0000a0 159.5px,#00009a 187.5px,#00009a 100%)"></i><i style="left:461px;background:linear-gradient(#0092ff 0,#0033ff 22.5px,#008eff 56.5px,#00b4ff 62.5px,#00f2ff 68.5px,#00f0ff 71.5px,#00a5ff 79.5px,#0086ff 88.5px,#0087ff 107.5px,#0079ff 110.5px,#004cff 113.5px,#0006ff 116.5px,#0000ba 120.5px,#00009e 124.5px,#000095 135.5px,#00009e 158.5px,#000092 180.5px,#00009a 100%)"></i><i style="left:462px;background:linear-gradient(#0093ff 0,#0044ff 24.5px,#0035ff 44.5px,#0071ff 55.5px,#00a3ff 60.5px,#00e8ff 64.5px,#00feff 65.5px,#3bffc4 68.5px,#47ffb8 70.5px,#35ffca 72.5px,#03fffc 75.5px,#00ccff 80.5px,#00b8ff 87.5px,#0084ff 107.5px,#0064ff 111.5px,#002fff 114.5px,#0001ff 116.5px,#0000c5 119.5px,#0000a7 122.5px,#000096 129.5px,#000095 162.5px,#000090 181.5px,#000099 100%)"></i><i style="left:463px;background:linear-gradient(#007bff 0,#0048ff 27.5px,#003eff 44.5px,#007dff 54.5px,#00b3ff 59.5px,#00fdff 63.5px,#63ff9c 67.5px,#80ff7f 69.5px,#78ff87 71.5px,#00feff 77.5px,#00cfff 81.5px,#00afff 88.5px,#008fff 107.5px,#007cff 110.5px,#004bff 113.5px,#0003ff 116.5px,#0000c5 119.5px,#0000a6 122.5px,#000093 129.5px,#00008e 167.5px,#000090 193.5px,#000093 100%)"></i><i style="left:464px;background:linear-gradient(#0082ff 0,#0080ff 36.5px,#008dff 46.5px,#00bfff 56.5px,#00f2ff 61.5px,#02fffd 62.5px,#62ff9d 67.5px,#77ff88 69.5px,#6dff92 71.5px,#00ffff 77.5px,#00caff 82.5px,#00aaff 89.5px,#008eff 105.5px,#006dff 110.5px,#003dff 113.5px,#0000f8 116.5px,#0000bf 119.5px,#0000a1 122.5px,#00008f 130.5px,#000088 166.5px,#000085 188.5px,#000089 100%)"></i><i style="left:465px;background:linear-gradient(#00baff 0,#00c1ff 19.5px,#00d8ff 56.5px,#00f3ff 62.5px,#0ffff0 65.5px,#2dffd2 69.5px,#1effe1 72.5px,#00fbff 75.5px,#00cdff 81.5px,#00b3ff 90.5px,#00a3ff 103.5px,#0082ff 108.5px,#004dff 112.5px,#000eff 115.5px,#0000f6 116.5px,#0000bd 119.5px,#0000a1 122.5px,#000091 130.5px,#000089 100%)"></i><i style="left:466px;background:linear-gradient(#2dffd2 0,#25ffda 3.5px,#05fffa 9.5px,#00f5ff 47.5px,#00e8ff 62.5px,#00f4ff 70.5px,#00c6ff 83.5px,#00c0ff 89.5px,#00cfff 101.5px,#00b6ff 106.5px,#0088ff 110.5px,#002fff 114.5px,#0000fb 116.5px,#0000be 119.5px,#00009f 122.5px,#00008c 130.5px,#000094 172.5px,#00008e 100%)"></i><i style="left:467px;background:linear-gradient(#c4ff3b 0,#baff45 2.5px,#5fffa0 7.5px,#37ffc8 11.5px,#18ffe7 19.5px,#13ffec 38.5px,#0afff5 71.5px,#00f6ff 79.5px,#00e7ff 89.5px,#00f0ff 100.5px,#00dcff 104.5px,#0099ff 109.5px,#0048ff 113.5px,#0000fc 116.5px,#0000c0 119.5px,#0000a2 122.5px,#000093 129.5px,#000090 166.5px,#00008f 100%)"></i><i style="left:468px;background:linear-gradient(#ffd500 0,#ffd500 1.5px,#ffe500 2.5px,#ffff00 3.5px,#8bff74 7.5px,#57ffa8 10.5px,#2cffd3 15.5px,#12ffed 23.5px,#1effe1 46.5px,#4affb5 67.5px,#0dfff2 89.5px,#0cfff3 99.5px,#00feff 102.5px,#00d2ff 106.5px,#0061ff 112.5px,#0001ff 116.5px,#0000c4 119.5px,#0000a6 122.5px,#000098 129.5px,#000086 159.5px,#000089 186.5px,#000084 100%)"></i><i style="left:469px;background:linear-gradient(#ffe700 0,#ffe700 1.5px,#fff600 2.5px,#eeff11 3.5px,#7dff82 7.5px,#4affb5 10.5px,#22ffdd 15.5px,#09fff6 25.5px,#05fffa 45.5px,#41ffbe 66.5px,#08fff7 90.5px,#00fcff 100.5px,#00e0ff 104.5px,#0094ff 109.5px,#0028ff 114.5px,#0000f6 116.5px,#0000bb 119.5px,#00009e 122.5px,#00008d 130.5px,#000085 159.5px,#00008d 181.5px,#000083 100%)"></i><i style="left:470px;background:linear-gradient(#87ff78 0,#7bff84 2.5px,#1bffe4 7.5px,#01fffe 9.5px,#00d5ff 15.5px,#00bcff 24.5px,#00beff 47.5px,#00dcff 68.5px,#00d8ff 91.5px,#00d9ff 101.5px,#00bbff 106.5px,#0088ff 110.5px,#0032ff 114.5px,#0000fe 116.5px,#0000c1 119.5px,#0000a2 122.5px,#000090 129.5px,#000094 159.5px,#0000a4 180.5px,#00009a 100%)"></i>
<svg width="475" height="551" viewBox="0 0 475 551">
<defs>
<filter id="b05" x="-50%" y="-10%" width="200%" height="120%"><feGaussianBlur stdDeviation="0.5"/></filter>
<filter id="b1" x="-100%" y="-50%" width="300%" height="200%"><feGaussianBlur stdDeviation="1"/></filter>
<filter id="b2" x="-100%" y="-50%" width="300%" height="200%"><feGaussianBlur stdDeviation="2"/></filter>
<filter id="b3" x="-50%" y="-50%" width="200%" height="200%"><feGaussianBlur stdDeviation="3"/></filter>
<filter id="bx" x="-10%" y="-10%" width="120%" height="120%"><feGaussianBlur stdDeviation="0.8 0"/></filter>
<linearGradient id="siA" x1="0" y1="0" x2="0" y2="1"><stop offset="0" stop-color="#30d0ff"/><stop offset="0.3" stop-color="#50e8e0"/><stop offset="0.55" stop-color="#c0f040"/><stop offset="0.85" stop-color="#f0f000"/><stop offset="1" stop-color="#f0a000"/></linearGradient>
<linearGradient id="bgA" x1="0" y1="0" x2="0" y2="1"><stop offset="0" stop-color="#0008d0"/><stop offset="0.2" stop-color="#0000b0"/><stop offset="1" stop-color="#00009a"/></linearGradient>
</defs>
<clipPath id="c53"><rect x="53" y="2" width="107" height="201"/></clipPath>
<g clip-path="url(#c53)">
<line x1="53" y1="99.2" x2="160" y2="80.1" stroke="#6ce4f6" stroke-width="2.7" stroke-linecap="round" stroke-dasharray="7.05 12.85" stroke-dashoffset="-1.35"/>
<line x1="53" y1="172.4" x2="160" y2="172.4" stroke="#58eaff" stroke-width="2.5"/>
<text x="56" y="23.5" fill="#fff" font-weight="bold" font-size="25" style="font-family:&quot;Liberation Sans&quot;,sans-serif">a)</text>
</g>
<line x1="66.0" y1="200" x2="66.0" y2="206.2" stroke="#000" stroke-width="1.6"/>
<text x="66.0" y="222.7" text-anchor="middle" font-size="15.5" style="font-family:&quot;Liberation Sans&quot;,sans-serif">480</text>
<line x1="108.4" y1="200" x2="108.4" y2="206.2" stroke="#000" stroke-width="1.6"/>
<text x="108.4" y="222.7" text-anchor="middle" font-size="15.5" style="font-family:&quot;Liberation Sans&quot;,sans-serif">530</text>
<line x1="150.8" y1="200" x2="150.8" y2="206.2" stroke="#000" stroke-width="1.6"/>
<text x="150.8" y="222.7" text-anchor="middle" font-size="15.5" style="font-family:&quot;Liberation Sans&quot;,sans-serif">580</text>
<line x1="50.1" y1="51.9" x2="56" y2="51.9" stroke="#000" stroke-width="1.6"/>
<text x="47.8" y="57.3" text-anchor="end" font-size="15" style="font-family:&quot;Liberation Sans&quot;,sans-serif">1.9</text>
<line x1="50.1" y1="114.7" x2="56" y2="114.7" stroke="#000" stroke-width="1.6"/>
<text x="47.8" y="120.1" text-anchor="end" font-size="15" style="font-family:&quot;Liberation Sans&quot;,sans-serif">1.85</text>
<line x1="50.1" y1="177.6" x2="56" y2="177.6" stroke="#000" stroke-width="1.6"/>
<text x="47.8" y="183.0" text-anchor="end" font-size="15" style="font-family:&quot;Liberation Sans&quot;,sans-serif">1.8</text>
<clipPath id="c208"><rect x="208" y="2" width="107" height="201"/></clipPath>
<g clip-path="url(#c208)">
<line x1="208" y1="99.6" x2="315" y2="80.2" stroke="#6ce4f6" stroke-width="2.7" stroke-linecap="round" stroke-dasharray="7.05 12.85" stroke-dashoffset="-1.35"/>
<line x1="208" y1="172.4" x2="315" y2="172.4" stroke="#58eaff" stroke-width="2.5"/>
<text x="211" y="23.5" fill="#fff" font-weight="bold" font-size="25" style="font-family:&quot;Liberation Sans&quot;,sans-serif">b)</text>
</g>
<line x1="221.0" y1="200" x2="221.0" y2="206.2" stroke="#000" stroke-width="1.6"/>
<text x="221.0" y="222.7" text-anchor="middle" font-size="15.5" style="font-family:&quot;Liberation Sans&quot;,sans-serif">480</text>
<line x1="263.4" y1="200" x2="263.4" y2="206.2" stroke="#000" stroke-width="1.6"/>
<text x="263.4" y="222.7" text-anchor="middle" font-size="15.5" style="font-family:&quot;Liberation Sans&quot;,sans-serif">530</text>
<line x1="305.8" y1="200" x2="305.8" y2="206.2" stroke="#000" stroke-width="1.6"/>
<text x="305.8" y="222.7" text-anchor="middle" font-size="15.5" style="font-family:&quot;Liberation Sans&quot;,sans-serif">580</text>
<line x1="205.1" y1="49.6" x2="211" y2="49.6" stroke="#000" stroke-width="1.6"/>
<text x="202.8" y="55.0" text-anchor="end" font-size="15" style="font-family:&quot;Liberation Sans&quot;,sans-serif">1.85</text>
<line x1="205.1" y1="112.5" x2="211" y2="112.5" stroke="#000" stroke-width="1.6"/>
<text x="202.8" y="117.9" text-anchor="end" font-size="15" style="font-family:&quot;Liberation Sans&quot;,sans-serif">1.8</text>
<line x1="205.1" y1="175.2" x2="211" y2="175.2" stroke="#000" stroke-width="1.6"/>
<text x="202.8" y="180.6" text-anchor="end" font-size="15" style="font-family:&quot;Liberation Sans&quot;,sans-serif">1.75</text>
<clipPath id="c364"><rect x="364" y="2" width="107" height="201"/></clipPath>
<g clip-path="url(#c364)">
<line x1="364" y1="100.4" x2="471" y2="80.9" stroke="#6ce4f6" stroke-width="2.7" stroke-linecap="round" stroke-dasharray="7.05 12.85" stroke-dashoffset="-1.35"/>
<line x1="364" y1="172.4" x2="471" y2="172.4" stroke="#58eaff" stroke-width="2.5"/>
<text x="367" y="23.5" fill="#fff" font-weight="bold" font-size="25" style="font-family:&quot;Liberation Sans&quot;,sans-serif">c)</text>
</g>
<line x1="377.0" y1="200" x2="377.0" y2="206.2" stroke="#000" stroke-width="1.6"/>
<text x="377.0" y="222.7" text-anchor="middle" font-size="15.5" style="font-family:&quot;Liberation Sans&quot;,sans-serif">480</text>
<line x1="419.4" y1="200" x2="419.4" y2="206.2" stroke="#000" stroke-width="1.6"/>
<text x="419.4" y="222.7" text-anchor="middle" font-size="15.5" style="font-family:&quot;Liberation Sans&quot;,sans-serif">530</text>
<line x1="461.8" y1="200" x2="461.8" y2="206.2" stroke="#000" stroke-width="1.6"/>
<text x="461.8" y="222.7" text-anchor="middle" font-size="15.5" style="font-family:&quot;Liberation Sans&quot;,sans-serif">580</text>
<line x1="361.1" y1="67.9" x2="367" y2="67.9" stroke="#000" stroke-width="1.6"/>
<text x="358.8" y="73.3" text-anchor="end" font-size="15" style="font-family:&quot;Liberation Sans&quot;,sans-serif">1.85</text>
<line x1="361.1" y1="130.8" x2="367" y2="130.8" stroke="#000" stroke-width="1.6"/>
<text x="358.8" y="136.2" text-anchor="end" font-size="15" style="font-family:&quot;Liberation Sans&quot;,sans-serif">1.8</text>
<line x1="361.1" y1="193.6" x2="367" y2="193.6" stroke="#000" stroke-width="1.6"/>
<text x="358.8" y="199.0" text-anchor="end" font-size="15" style="font-family:&quot;Liberation Sans&quot;,sans-serif">1.75</text>
<text transform="translate(14.2,102.4) rotate(-90)" text-anchor="middle" font-size="16.5" style="font-family:&quot;Liberation Sans&quot;,sans-serif">Laser energy (eV)</text>
<text x="192.5" y="248" font-size="15" textLength="121.5" lengthAdjust="spacingAndGlyphs" style="font-family:&quot;Liberation Sans&quot;,sans-serif">Raman shift (cm</text>
<text x="312.9" y="240.7" font-size="12" style="font-family:&quot;Liberation Sans&quot;,sans-serif">-1</text>
<text x="325.8" y="248" font-size="15" style="font-family:&quot;Liberation Sans&quot;,sans-serif">)</text>
<path d="M46.00 497.90L46.50 497.74L47.00 497.93L47.50 497.82L48.00 497.96L48.50 497.98L49.00 497.64L49.50 497.61L50.00 498.10L50.50 497.76L51.00 497.74L51.50 498.20L52.00 497.88L52.50 498.10L53.00 497.89L53.50 497.98L54.00 497.69L54.50 497.98L55.00 498.12L55.50 497.91L56.00 498.04L56.50 498.00L57.00 497.64L57.50 498.05L58.00 497.95L58.50 497.78L59.00 497.62L59.50 498.12L60.00 497.88L60.50 498.03L61.00 498.13L61.50 498.03L62.00 498.15L62.50 497.84L63.00 498.08L63.50 497.87L64.00 498.16L64.50 498.13L65.00 497.66L65.50 497.68L66.00 497.73L66.50 498.18L67.00 497.86L67.50 497.98L68.00 497.78L68.50 497.90L69.00 497.83L69.50 497.81L70.00 497.95L70.50 497.95L71.00 498.14L71.50 498.01L72.00 498.16L72.50 498.11L73.00 498.19L73.50 498.00L74.00 497.70L74.50 498.12L75.00 498.18L75.50 498.14L76.00 497.94L76.50 498.03L77.00 497.73L77.50 498.10L78.00 497.94L78.50 497.77L79.00 497.64L79.50 498.11L80.00 498.19L80.50 497.65L81.00 498.08L81.50 497.85L82.00 497.69L82.50 497.78L83.00 498.06L83.50 498.12L84.00 497.63L84.50 497.97L85.00 497.63L85.50 498.03L86.00 497.80L86.50 498.13L87.00 498.19L87.50 497.90L88.00 498.20L88.50 497.79L89.00 497.65L89.50 497.96L90.00 497.62L90.50 497.72L91.00 497.84L91.50 497.97L92.00 497.69L92.50 497.63L93.00 498.12L93.50 497.79L94.00 498.18L94.50 498.14L95.00 497.83L95.50 497.88L96.00 497.91L96.50 497.99L97.00 497.96L97.50 497.94L98.00 497.97L98.50 498.16L99.00 497.90L99.50 497.86L100.00 497.90L100.50 498.03L101.00 497.74L101.50 497.78L102.00 498.19L102.50 497.91L103.00 497.93L103.50 497.60L104.00 497.85L104.50 497.94L105.00 497.61L105.50 497.96L106.00 497.97L106.50 497.63L107.00 497.96L107.50 497.87L108.00 497.99L108.50 497.79L109.00 498.00L109.50 498.02L110.00 497.59L110.50 497.61L111.00 497.98L111.50 498.15L112.00 497.72L112.50 497.84L113.00 497.92L113.50 497.75L114.00 497.77L114.50 497.74L115.00 497.77L115.50 497.90L116.00 497.72L116.50 497.76L117.00 498.00L117.50 497.55L118.00 497.87L118.50 497.96L119.00 497.70L119.50 497.65L120.00 497.99L120.50 497.65L121.00 497.61L121.50 497.76L122.00 497.91L122.50 497.55L123.00 497.68L123.50 497.68L124.00 497.97L124.50 497.73L125.00 497.98L125.50 497.56L126.00 497.66L126.50 497.84L127.00 497.98L127.50 497.71L128.00 497.57L128.50 497.50L129.00 497.74L129.50 497.53L130.00 497.90L130.50 497.91L131.00 497.51L131.50 497.57L132.00 497.88L132.50 497.77L133.00 497.87L133.50 497.58L134.00 497.45L134.50 497.54L135.00 497.84L135.50 497.52L136.00 497.56L136.50 497.59L137.00 497.59L137.50 497.58L138.00 497.88L138.50 497.41L139.00 497.31L139.50 497.87L140.00 497.60L140.50 497.82L141.00 497.88L141.50 497.54L142.00 497.85L142.50 497.83L143.00 497.40L143.50 497.71L144.00 497.75L144.50 497.64L145.00 497.55L145.50 497.40L146.00 497.42L146.50 497.35L147.00 497.24L147.50 497.54L148.00 497.34L148.50 497.64L149.00 497.17L149.50 497.66L150.00 497.40L150.50 497.47L151.00 497.53L151.50 497.41L152.00 497.28L152.50 496.95L153.00 496.47L153.50 496.77L153.60 496.60L154.00 496.30L154.50 496.25L155.00 496.33L155.50 496.11L156.00 495.90L156.50 496.05L157.00 495.69L157.50 495.34L157.60 495.40L158.00 495.11L158.50 495.31L159.00 494.92L159.50 494.92L160.00 494.45L160.50 494.10L161.00 493.97L161.50 493.73L162.00 492.82L162.10 492.90L162.50 491.22L163.00 486.23L163.50 479.90L163.90 475.20L164.00 474.35L164.50 467.63L165.00 463.23L165.20 462.60L165.50 464.19L166.00 470.11L166.50 477.83L166.70 480.30L167.00 483.36L167.50 488.96L168.00 492.47L168.20 492.90L168.50 492.82L169.00 492.67L169.50 491.70L170.00 491.19L170.50 490.80L170.70 490.90L171.00 490.53L171.50 490.25L172.00 490.56L172.50 490.27L173.00 489.62L173.50 489.73L174.00 489.52L174.50 489.60L175.00 489.69L175.50 490.20L176.00 491.03L176.50 491.60L177.00 492.45L177.50 493.33L178.00 494.27L178.50 495.23L179.00 495.63L179.10 495.90L179.50 496.06L180.00 496.30L180.50 496.23L181.00 496.17L181.50 496.34L182.00 496.56L182.50 496.78L183.00 496.97L183.50 496.80L184.00 497.12L184.50 497.07L185.00 497.00L185.50 497.01L186.00 497.12L186.50 497.27L187.00 497.12L187.50 497.31L187.90 497.20L188.00 497.18L188.50 497.06L189.00 497.25L189.50 497.35L190.00 496.99L190.50 497.22L191.00 497.23L191.50 497.51L192.00 497.56L192.50 497.23L193.00 497.55L193.50 497.50L194.00 497.19L194.50 497.33L195.00 497.13L195.50 497.56L196.00 497.48L196.50 497.62L197.00 497.57L197.50 497.51L198.00 497.56L198.50 497.47L199.00 497.20L199.50 497.50L200.00 497.16L200.50 497.25L201.00 497.64L201.50 497.21L202.00 497.25L202.50 497.26L203.00 497.74L203.50 497.33L204.00 497.24L204.50 497.74L205.00 497.32L205.50 497.76L206.00 497.67L206.50 497.77L207.00 497.85L207.50 497.63L208.00 497.77L208.50 497.32L209.00 497.77L209.50 497.62L210.00 497.75L210.50 497.40L211.00 497.79L211.50 497.91L212.00 497.39L212.50 497.56L213.00 497.71L213.50 497.87L214.00 497.53L214.50 497.50L215.00 497.54L215.50 497.77L216.00 497.86L216.50 497.65L217.00 497.64L217.50 497.66L218.00 497.64L218.50 497.69L219.00 497.49L219.50 497.75L220.00 498.04L220.50 497.71L221.00 497.92L221.50 497.57L222.00 497.89L222.50 497.94L223.00 497.89L223.50 497.80L224.00 497.79L224.50 497.89L225.00 498.05L225.50 497.60L226.00 497.58L226.50 497.97L227.00 498.08L227.50 497.84L228.00 497.80L228.50 497.97L229.00 497.66L229.50 497.71L230.00 497.67L230.50 497.91L231.00 497.75L231.50 497.71L232.00 497.99L232.50 498.15L233.00 497.76L233.50 498.00L234.00 497.83L234.50 498.10L235.00 497.94L235.50 497.76L236.00 497.73L236.50 497.62L237.00 497.89L237.50 497.84L238.00 497.72L238.50 497.83L239.00 497.81L239.50 498.09L240.00 497.71L240.50 498.22L241.00 497.92L241.50 497.99L242.00 497.92L242.50 498.14L243.00 498.13L243.50 497.98L244.00 497.93L244.50 498.08L245.00 498.16L245.50 497.89L246.00 498.09L246.50 498.23L247.00 497.94L247.50 497.80L248.00 497.80L248.50 498.09L249.00 498.07L249.50 498.24L250.00 498.18L250.50 497.82L251.00 497.79L251.50 497.83L252.00 497.79L252.50 498.10L253.00 498.19L253.50 498.22L254.00 497.83L254.50 498.20L255.00 497.87L255.50 497.94L256.00 498.12L256.50 497.74L257.00 497.74L257.50 498.19L258.00 497.86L258.50 497.90L259.00 498.04L259.50 498.10L260.00 497.70L260.50 497.89L261.00 497.96L261.50 497.99L262.00 497.82L262.50 498.05L263.00 498.27L263.50 497.93L264.00 498.02L264.50 497.77L265.00 497.86L265.50 498.10L266.00 497.77L266.50 498.23L267.00 498.24L267.50 497.76L268.00 498.26L268.50 497.92L269.00 498.16L269.50 498.15L270.00 498.00L270.50 497.88L271.00 498.10L271.50 498.09L272.00 498.18L272.50 497.85L273.00 498.14L273.50 498.25L274.00 498.07L274.50 497.98L275.00 497.72L275.50 497.94L276.00 497.84L276.50 498.05L277.00 498.01L277.50 497.93L278.00 497.68L278.50 497.94L279.00 497.92L279.50 497.63L280.00 497.80L280.50 497.97L281.00 497.70L281.50 497.21L282.00 497.48L282.50 496.79L283.00 496.68L283.50 496.72L284.00 496.49L284.50 496.36L284.90 496.30L285.00 496.39L285.50 496.37L286.00 496.47L286.50 496.64L287.00 496.87L287.50 497.54L288.00 497.81L288.50 497.86L289.00 497.90L289.50 498.05L290.00 497.82L290.50 497.77L291.00 497.85L291.50 498.14L292.00 497.65L292.50 497.93L293.00 497.78L293.50 498.10L294.00 497.85L294.50 497.84L295.00 497.89L295.50 497.97L296.00 498.12L296.50 497.87L297.00 498.17L297.50 497.73L298.00 497.83L298.50 497.73L299.00 497.74L299.50 498.14L300.00 498.11L300.50 497.79L301.00 497.80L301.50 497.94L302.00 498.13L302.50 498.18L303.00 498.14L303.50 498.05L304.00 497.79L304.50 497.94L305.00 497.82L305.50 498.02L306.00 498.05L306.50 497.83L307.00 497.86L307.50 498.19L308.00 497.74L308.50 498.20L309.00 498.26L309.50 498.30L310.00 497.96L310.50 498.06L311.00 498.08L311.50 498.11L312.00 498.32L312.50 498.15L313.00 497.92L313.50 498.26L314.00 498.03L314.50 498.11L315.00 498.18L315.50 497.75L316.00 498.21L316.50 498.15L317.00 498.05L317.50 498.07L318.00 498.03L318.50 497.87L319.00 498.08L319.50 497.78L320.00 498.06L320.50 498.15L321.00 498.03L321.50 498.11L322.00 498.34L322.50 498.30L323.00 497.85L323.50 498.25L324.00 498.15L324.50 497.80L325.00 497.99L325.50 497.92L326.00 497.82L326.50 498.10L327.00 498.34L327.50 497.97L328.00 498.30L328.50 498.20L329.00 497.86L329.50 498.30L330.00 498.14L330.50 498.34L331.00 498.21L331.50 498.23L332.00 497.99L332.50 498.27L333.00 498.35L333.50 498.31L334.00 498.05L334.50 498.24L335.00 498.08L335.50 497.86L336.00 497.82L336.50 497.84L337.00 497.91L337.50 497.89L338.00 498.09L338.50 498.21L339.00 498.12L339.50 498.05L340.00 498.18L340.50 497.98L341.00 498.07L341.50 498.25L342.00 498.04L342.50 497.90L343.00 498.34L343.50 498.23L344.00 498.02L344.50 498.02L345.00 498.12L345.50 498.16L346.00 497.93L346.50 497.80L347.00 497.92L347.50 498.27L348.00 497.88L348.50 498.07L349.00 497.92L349.50 497.92L350.00 497.90L350.50 498.04L351.00 497.90L351.50 497.82L352.00 497.87L352.50 497.90L353.00 498.09L353.50 497.84L354.00 497.81L354.50 498.07L355.00 498.04L355.50 498.22L356.00 497.83L356.50 498.04L357.00 498.04L357.30 498.10L357.50 497.80L358.00 498.17L358.50 497.37L359.00 496.81L359.50 496.47L360.00 495.66L360.50 495.31L361.00 494.56L361.50 493.92L362.00 493.49L362.50 493.68L362.80 493.50L363.00 493.39L363.50 493.93L364.00 494.17L364.50 495.04L365.00 495.33L365.50 496.00L366.00 496.68L366.50 497.60L367.00 497.92L367.50 497.98L367.70 498.10L368.00 497.86L368.50 498.21L369.00 498.38L369.50 498.16L370.00 497.80L370.50 497.82L371.00 497.85L371.50 497.90L372.00 497.82L372.50 497.83L373.00 498.19L373.50 498.34L374.00 497.92L374.50 498.38L375.00 498.09L375.50 498.28L376.00 498.35L376.50 498.36L377.00 497.82L377.50 497.98L378.00 498.16L378.50 498.37L378.60 498.10L379.00 497.63L379.50 496.98L380.00 496.16L380.50 494.40L381.00 493.29L381.50 492.23L382.00 491.87L382.20 491.70L382.50 492.08L383.00 492.31L383.50 493.74L384.00 495.04L384.50 496.40L385.00 497.32L385.50 498.23L385.80 498.10L386.00 498.02L386.50 498.05L387.00 497.94L387.50 498.27L388.00 498.09L388.50 497.96L389.00 497.90L389.50 498.23L390.00 498.16L390.50 498.23L391.00 498.03L391.50 498.09L392.00 497.89L392.50 498.23L393.00 497.81L393.50 498.08L394.00 498.26L394.50 498.21L395.00 497.86L395.50 497.94L396.00 498.31L396.50 498.19L397.00 498.33L397.50 498.32L398.00 498.07L398.50 498.34L399.00 498.24L399.50 498.00L400.00 498.02L400.50 497.84L401.00 498.04L401.50 498.37L402.00 497.86L402.50 498.14L403.00 497.87L403.50 497.85L404.00 498.19L404.50 497.94L405.00 497.83L405.50 497.89L406.00 498.19L406.50 498.15L407.00 497.81L407.50 497.94L408.00 498.38L408.50 497.93L409.00 498.14L409.50 498.05L410.00 498.27L410.50 498.16L411.00 498.27L411.50 498.12L412.00 497.91L412.50 497.91L413.00 497.85L413.50 498.30L414.00 497.87L414.50 497.81L415.00 498.38L415.50 497.92L416.00 498.34L416.50 497.85L417.00 498.08L417.50 497.93L418.00 498.30L418.50 498.17L419.00 498.19L419.50 498.26L420.00 498.32L420.50 498.01L421.00 498.16L421.50 498.07L422.00 497.87L422.50 498.30L423.00 498.16L423.50 498.29L424.00 497.92L424.50 498.12L425.00 498.08L425.50 498.24L426.00 497.85L426.50 498.01L427.00 498.09L427.50 497.84L428.00 498.13L428.50 498.24L429.00 498.05L429.50 498.19L430.00 498.16L430.50 497.93L431.00 498.01L431.50 498.40L432.00 498.00L432.50 498.06L433.00 497.85L433.50 497.93L434.00 497.90L434.50 498.36L435.00 498.24L435.50 498.32L436.00 498.39L436.50 498.17L437.00 498.36L437.50 498.12L438.00 498.05L438.50 498.37L439.00 498.34L439.50 498.37L440.00 498.09L440.50 498.26L441.00 498.04L441.50 498.40L442.00 498.35L442.50 497.98L443.00 498.36L443.50 497.91L444.00 497.86L444.50 498.23L445.00 497.98L445.50 498.11L446.00 498.18L446.50 497.82L447.00 498.25L447.50 497.97L448.00 498.06L448.50 498.01L449.00 498.25L449.50 498.25L450.00 497.97L450.50 497.86L451.00 497.98L451.50 498.05L452.00 497.85L452.50 497.89L453.00 498.26L453.50 498.22L454.00 498.39L454.50 498.39L455.00 498.33L455.50 498.02L456.00 497.90L456.50 497.99L457.00 498.08L457.50 498.12L458.00 498.13L458.30 498.10" stroke="#ff0000" stroke-width="1.9" fill="none" stroke-linejoin="round"/>
<path d="M46.00 461.80L46.50 461.59L47.00 461.76L47.50 461.31L48.00 461.32L48.50 461.48L49.00 461.34L49.50 460.95L50.00 460.85L50.50 461.12L51.00 460.58L51.50 460.60L52.00 460.79L52.50 460.75L53.00 460.49L53.50 460.38L54.00 460.45L54.50 460.76L55.00 460.56L55.50 460.84L56.00 460.71L56.50 460.82L57.00 460.24L57.50 460.32L58.00 460.22L58.50 460.46L59.00 460.40L59.50 460.23L60.00 460.53L60.20 460.50L60.50 460.26L61.00 460.43L61.50 460.45L62.00 460.87L62.50 460.74L63.00 460.76L63.50 460.76L64.00 461.12L64.50 461.37L65.00 461.52L65.50 461.78L66.00 461.82L66.50 461.56L67.00 461.55L67.50 461.95L67.70 461.80L68.00 461.93L68.50 461.54L69.00 461.36L69.50 460.71L70.00 460.02L70.50 459.42L71.00 458.85L71.50 458.85L72.00 458.78L72.30 458.50L72.50 458.76L73.00 458.62L73.50 458.98L74.00 459.45L74.50 459.72L75.00 459.94L75.50 460.12L76.00 460.41L76.50 460.30L76.60 460.50L77.00 460.29L77.50 460.49L78.00 460.52L78.50 460.02L79.00 459.64L79.50 459.24L80.00 458.87L80.40 458.50L80.50 458.54L81.00 456.78L81.50 454.59L82.00 451.32L82.30 450.00L82.50 448.79L83.00 445.80L83.40 444.60L83.50 444.71L84.00 449.08L84.30 452.00L84.50 454.51L84.90 458.00L85.00 458.37L85.50 458.67L86.00 458.72L86.50 459.36L87.00 459.59L87.50 459.74L88.00 459.77L88.50 460.15L89.00 460.38L89.50 460.00L90.00 460.46L90.50 460.50L91.00 460.59L91.50 460.85L92.00 461.26L92.50 461.47L93.00 461.44L93.50 461.32L94.00 461.87L94.50 461.53L95.00 461.71L95.50 461.80L96.00 462.00L96.50 461.69L97.00 461.65L97.50 462.06L98.00 462.04L98.50 461.66L99.00 461.69L99.50 461.61L100.00 461.50L100.50 461.55L101.00 461.96L101.50 461.39L102.00 461.45L102.50 461.40L103.00 461.29L103.50 461.52L104.00 461.61L104.50 461.62L105.00 461.44L105.50 461.50L105.60 461.30L106.00 460.76L106.50 460.18L107.00 459.55L107.50 457.88L108.00 456.97L108.50 456.39L108.90 456.20L109.00 456.09L109.50 457.07L110.00 458.28L110.50 459.97L111.00 461.44L111.20 461.30L111.50 461.12L112.00 461.64L112.50 461.25L113.00 461.79L113.50 461.65L114.00 461.67L114.50 461.40L115.00 461.38L115.50 461.83L116.00 461.51L116.50 461.54L117.00 461.94L117.50 461.98L118.00 461.50L118.50 462.06L119.00 461.81L119.50 461.72L120.00 461.56L120.50 461.73L120.80 461.80L121.00 462.09L121.50 461.67L122.00 461.58L122.50 461.59L123.00 461.57L123.50 461.71L124.00 462.04L124.50 461.54L125.00 461.61L125.50 462.05L126.00 462.08L126.50 462.07L127.00 461.63L127.50 461.69L128.00 462.04L128.50 461.76L129.00 461.88L129.50 461.64L130.00 461.46L130.50 461.65L131.00 461.89L131.50 461.90L132.00 461.77L132.50 461.70L133.00 461.73L133.50 461.67L134.00 461.71L134.50 461.88L135.00 461.49L135.50 461.72L136.00 461.91L136.50 461.85L137.00 461.43L137.50 461.89L138.00 461.80L138.50 461.39L139.00 461.43L139.50 461.38L140.00 461.27L140.50 461.81L141.00 461.45L141.50 461.71L142.00 461.24L142.50 461.16L143.00 461.66L143.50 461.59L144.00 461.69L144.50 461.48L145.00 461.37L145.50 461.49L146.00 461.06L146.10 461.30L146.50 461.29L147.00 461.13L147.50 460.81L148.00 460.91L148.50 460.54L149.00 460.44L149.50 460.14L150.00 460.00L150.50 459.70L151.00 459.55L151.50 459.52L152.00 459.53L152.50 459.23L153.00 458.81L153.50 458.31L153.60 458.00L154.00 455.87L154.50 450.60L155.00 442.93L155.50 436.16L155.60 435.30L156.00 430.59L156.50 424.91L157.00 422.10L157.50 425.77L158.00 434.07L158.50 441.59L158.60 442.80L159.00 447.14L159.50 451.87L160.00 455.92L160.50 457.95L160.60 458.00L161.00 458.15L161.50 457.96L162.00 457.32L162.50 456.86L163.00 456.60L163.50 456.01L163.90 456.20L164.00 456.17L164.50 456.78L165.00 457.48L165.50 457.99L166.00 459.42L166.50 459.93L167.00 460.74L167.20 460.50L167.50 460.39L168.00 460.15L168.50 460.10L169.00 459.97L169.50 459.32L170.00 459.19L170.50 458.72L171.00 458.18L171.50 458.00L172.00 457.66L172.50 457.55L173.00 457.26L173.50 457.03L174.00 457.02L174.50 457.02L175.00 456.76L175.30 456.70L175.50 456.50L176.00 456.67L176.50 456.99L177.00 457.44L177.50 457.50L178.00 457.81L178.50 458.27L179.00 458.49L179.50 458.49L179.80 458.80L180.00 458.82L180.50 458.99L181.00 458.63L181.50 458.57L182.00 458.39L182.50 458.11L183.00 457.82L183.50 457.16L184.00 456.90L184.10 456.70L184.50 455.93L185.00 455.26L185.50 453.53L186.00 452.06L186.50 450.89L186.60 450.40L187.00 449.16L187.50 447.52L188.00 446.34L188.50 444.94L189.00 443.92L189.20 444.10L189.50 443.99L190.00 445.05L190.50 446.08L191.00 447.78L191.50 448.13L191.70 448.40L192.00 448.16L192.50 447.64L193.00 446.77L193.50 445.60L194.00 444.59L194.20 444.10L194.50 443.51L195.00 441.93L195.50 440.19L196.00 439.42L196.50 438.49L196.70 438.30L197.00 438.20L197.50 439.24L198.00 440.72L198.50 442.34L199.00 443.19L199.50 444.20L200.00 444.90L200.50 444.86L201.00 444.76L201.50 444.93L202.00 444.74L202.50 444.26L203.00 444.10L203.10 444.10L203.50 443.78L204.00 443.06L204.50 441.44L205.00 440.22L205.50 438.76L206.00 438.05L206.10 437.80L206.50 436.86L207.00 436.58L207.50 435.66L208.00 435.36L208.10 435.30L208.50 435.52L209.00 437.15L209.50 439.32L210.00 441.41L210.50 442.27L210.60 442.30L211.00 442.27L211.50 442.80L212.00 442.70L212.50 442.69L213.00 442.56L213.50 442.65L214.00 443.03L214.40 442.80L214.50 442.57L215.00 442.61L215.50 442.19L216.00 441.33L216.50 440.68L217.00 439.72L217.50 438.51L217.70 437.80L218.00 436.86L218.50 433.71L219.00 430.38L219.50 428.00L220.00 425.84L220.50 423.80L221.00 422.54L221.20 422.60L221.50 423.35L222.00 425.73L222.50 430.40L223.00 435.31L223.30 437.80L223.50 439.55L224.00 446.41L224.50 452.86L225.00 457.80L225.30 459.30L225.50 459.43L226.00 460.04L226.50 460.89L227.00 461.25L227.50 461.83L228.00 461.97L228.30 461.80L228.50 461.53L229.00 461.74L229.50 461.73L230.00 461.61L230.50 461.65L231.00 461.66L231.50 461.92L232.00 461.70L232.50 461.57L233.00 461.63L233.50 461.77L234.00 461.84L234.50 461.65L235.00 461.92L235.50 461.63L236.00 461.90L236.50 461.87L237.00 461.61L237.50 461.95L238.00 461.74L238.50 461.82L239.00 461.86L239.50 461.88L240.00 461.77L240.50 461.53L241.00 461.97L241.50 462.02L242.00 461.79L242.50 461.85L243.00 461.66L243.50 462.04L244.00 461.91L244.50 461.63L245.00 461.99L245.50 462.09L246.00 461.80L246.50 461.50L247.00 461.37L247.50 460.36L248.00 459.44L248.50 459.12L249.00 458.48L249.30 458.50L249.50 458.64L250.00 458.60L250.50 458.40L251.00 458.78L251.50 459.13L252.00 459.08L252.50 459.32L253.00 459.71L253.50 459.66L254.00 459.89L254.50 460.13L255.00 460.44L255.50 460.20L256.00 460.24L256.10 460.50L256.50 460.72L257.00 460.67L257.50 460.59L258.00 461.02L258.50 461.08L259.00 460.94L259.50 461.28L260.00 461.26L260.50 461.27L261.00 461.06L261.50 460.95L262.00 461.41L262.50 461.50L263.00 461.32L263.50 461.44L264.00 461.54L264.50 461.40L265.00 461.71L265.50 461.67L266.00 461.59L266.50 461.46L267.00 461.75L267.50 461.64L268.00 461.90L268.50 461.58L269.00 461.73L269.50 461.62L270.00 461.80L270.50 461.74L271.00 461.84L271.50 461.55L272.00 461.51L272.50 461.76L273.00 461.58L273.50 461.75L274.00 461.53L274.50 461.47L275.00 461.71L275.50 461.92L276.00 461.86L276.50 461.62L277.00 461.52L277.50 461.29L278.00 461.38L278.50 461.37L279.00 461.71L279.50 461.17L280.00 461.63L280.50 461.30L281.00 461.23L281.50 461.08L282.00 461.45L282.50 460.93L283.00 461.11L283.50 461.02L284.00 460.78L284.50 460.73L285.00 461.13L285.50 460.95L286.00 460.85L286.50 460.89L287.00 460.34L287.50 460.64L288.00 460.59L288.50 460.21L289.00 460.27L289.50 460.51L290.00 460.04L290.30 460.10L290.50 460.22L291.00 459.73L291.50 459.85L292.00 459.38L292.50 459.26L293.00 458.89L293.50 458.89L294.00 458.51L294.50 458.06L295.00 457.88L295.50 457.45L296.00 457.44L296.50 456.92L297.00 456.94L297.50 456.87L297.90 456.80L298.00 456.74L298.50 456.63L299.00 456.91L299.50 457.49L300.00 457.59L300.50 458.29L301.00 458.52L301.50 459.13L302.00 459.35L302.50 459.47L303.00 459.40L303.50 459.26L304.00 458.90L304.50 458.94L305.00 458.69L305.50 458.36L306.00 457.42L306.50 456.83L306.70 456.80L307.00 456.54L307.50 454.85L308.00 452.68L308.50 450.73L309.00 448.57L309.30 448.00L309.50 447.60L310.00 446.61L310.50 445.60L311.00 444.55L311.50 444.07L311.80 444.20L312.00 444.38L312.50 445.54L313.00 446.73L313.50 448.42L314.00 449.84L314.30 450.50L314.50 450.81L315.00 450.89L315.50 451.21L316.00 451.76L316.50 451.70L317.00 451.61L317.50 451.92L317.60 451.80L318.00 451.42L318.50 451.27L319.00 450.98L319.50 449.94L320.00 448.98L320.50 448.26L321.00 447.04L321.50 446.24L322.00 444.49L322.50 443.68L322.70 443.00L323.00 442.13L323.50 440.76L324.00 438.65L324.50 436.68L325.00 434.23L325.50 431.85L326.00 429.66L326.50 427.61L327.00 425.30L327.50 423.10L328.00 420.87L328.50 418.86L329.00 416.68L329.50 415.20L330.00 413.42L330.50 411.86L331.00 410.33L331.50 409.27L332.00 408.80L332.50 409.69L333.00 412.17L333.50 415.84L334.00 420.20L334.50 426.19L335.00 434.37L335.50 442.31L335.80 445.50L336.00 446.98L336.50 451.11L337.00 454.38L337.50 457.11L338.00 458.97L338.30 459.40L338.50 459.65L339.00 460.12L339.50 460.48L340.00 460.64L340.50 461.25L340.80 461.10L341.00 461.10L341.50 460.86L342.00 461.35L342.50 461.13L343.00 461.14L343.50 461.01L344.00 460.81L344.50 461.31L345.00 460.79L345.50 460.88L346.00 461.24L346.50 460.68L347.00 460.88L347.50 460.83L348.00 460.66L348.50 461.03L349.00 460.69L349.50 460.41L350.00 460.65L350.50 460.34L351.00 460.72L351.50 460.78L352.00 460.77L352.50 460.22L353.00 460.56L353.50 460.30L354.00 460.36L354.50 460.23L355.00 460.20L355.50 460.07L356.00 460.33L356.50 459.98L357.00 460.48L357.50 459.91L358.00 460.44L358.50 459.96L359.00 459.88L359.50 460.26L360.00 460.13L360.50 460.26L361.00 460.11L361.10 460.10L361.50 460.19L362.00 459.90L362.50 460.32L363.00 460.31L363.50 460.68L364.00 460.23L364.50 460.39L365.00 460.89L365.50 461.18L366.00 461.02L366.50 461.33L367.00 461.36L367.50 461.37L368.00 461.52L368.50 461.68L369.00 461.39L369.50 461.58L369.70 461.70L370.00 461.83L370.50 461.44L371.00 461.39L371.50 461.01L372.00 460.77L372.50 460.61L373.00 460.29L373.50 460.02L374.00 459.34L374.50 458.78L375.00 458.48L375.50 457.96L375.70 458.10L376.00 457.77L376.50 457.74L377.00 457.54L377.50 457.10L378.00 456.80L378.50 456.40L379.00 455.99L379.40 455.70L379.50 455.48L380.00 452.15L380.50 447.21L381.00 441.44L381.30 438.70L381.50 436.99L382.00 432.65L382.50 428.69L383.00 427.40L383.50 430.71L384.00 436.78L384.20 438.70L384.50 441.54L385.00 447.14L385.50 451.61L386.00 454.19L386.10 454.50L386.50 454.56L387.00 454.75L387.50 455.14L388.00 455.26L388.50 455.40L389.00 455.11L389.50 455.61L390.00 455.58L390.30 455.70L390.50 455.72L391.00 456.08L391.50 456.41L392.00 456.69L392.50 457.26L393.00 457.87L393.50 458.36L394.00 458.89L394.50 458.81L395.00 459.49L395.10 459.30L395.50 459.64L396.00 459.78L396.50 460.13L397.00 459.81L397.50 460.38L398.00 460.63L398.50 460.34L399.00 460.79L399.50 461.17L400.00 460.93L400.50 461.42L401.00 461.60L401.50 461.45L402.00 461.41L402.50 461.58L403.00 462.06L403.50 461.92L404.00 461.96L404.50 462.12L405.00 462.49L405.50 462.16L406.00 462.08L406.50 462.68L407.00 462.34L407.50 462.41L408.00 462.78L408.40 462.50L408.50 462.37L409.00 462.22L409.50 462.64L410.00 462.15L410.50 462.01L411.00 462.28L411.50 461.67L412.00 461.86L412.50 461.30L413.00 461.04L413.50 460.74L414.00 460.67L414.50 460.42L415.00 460.05L415.50 459.85L416.00 459.46L416.50 459.53L417.00 459.34L417.50 459.01L418.00 458.83L418.10 458.60L418.50 458.19L419.00 458.11L419.50 457.92L420.00 457.72L420.50 458.05L421.00 457.85L421.50 457.70L422.00 457.32L422.50 456.87L423.00 456.87L423.50 456.44L424.00 456.72L424.50 456.08L425.00 455.82L425.40 455.70L425.50 455.90L426.00 454.93L426.50 454.63L427.00 453.44L427.50 452.82L428.00 451.77L428.50 451.73L429.00 451.30L429.50 451.60L430.00 452.41L430.50 453.58L431.00 454.32L431.40 454.50L431.50 454.35L432.00 454.27L432.50 454.55L433.00 454.21L433.50 454.72L433.80 454.50L434.00 454.35L434.50 453.71L435.00 452.80L435.50 451.35L436.00 449.97L436.50 448.58L437.00 447.09L437.50 446.00L438.00 444.87L438.50 443.74L439.00 442.75L439.50 441.91L440.00 440.85L440.50 440.44L441.00 440.00L441.10 440.00L441.50 439.79L442.00 439.91L442.50 440.45L443.00 440.42L443.50 440.61L444.00 440.97L444.50 441.48L445.00 441.55L445.50 441.92L446.00 442.40L446.50 442.87L447.00 443.45L447.50 444.76L448.00 445.84L448.50 447.03L449.00 448.20L449.50 449.36L449.60 449.60L450.00 450.68L450.50 451.72L451.00 453.66L451.50 454.58L452.00 456.34L452.50 457.00L453.00 458.11L453.20 458.10L453.50 458.15L454.00 458.35L454.50 458.90L455.00 459.34L455.50 459.58L456.00 459.82L456.50 460.08L457.00 459.71L457.50 460.07L458.00 460.05L458.50 460.57L459.00 460.51L459.50 460.79L460.00 460.92L460.50 461.13L461.00 461.01L461.50 461.20L461.70 461.00L462.00 461.07L462.50 460.85L463.00 461.39L463.50 460.97L464.00 461.02L464.50 461.52L465.00 461.24L465.50 461.52L466.00 461.18L466.50 461.33L467.00 461.67L467.50 461.30L468.00 461.62L468.50 461.90L469.00 461.49L469.50 461.80L470.00 461.84L470.50 461.77L471.00 461.70" stroke="#00ff00" stroke-width="1.9" fill="none" stroke-linejoin="round"/>
<path d="M46.00 407.40L46.50 407.56L47.00 407.52L47.50 407.11L48.00 407.22L48.50 407.42L49.00 407.68L49.50 407.23L50.00 407.45L50.50 407.18L51.00 407.61L51.50 407.37L52.00 407.41L52.50 407.50L53.00 407.18L53.50 407.54L54.00 407.58L54.50 407.62L55.00 407.27L55.50 407.24L56.00 407.20L56.50 407.64L57.00 407.36L57.50 407.33L58.00 407.41L58.50 407.52L59.00 407.29L59.50 407.30L60.00 407.56L60.50 407.57L61.00 407.28L61.50 407.14L62.00 407.66L62.50 407.54L63.00 407.46L63.50 407.34L64.00 407.68L64.50 407.36L65.00 407.23L65.50 407.16L66.00 407.31L66.50 407.46L67.00 407.32L67.50 407.67L68.00 407.49L68.50 407.37L69.00 407.50L69.50 407.46L70.00 407.47L70.50 407.40L71.00 407.41L71.50 407.39L72.00 407.60L72.50 407.22L73.00 407.57L73.50 407.28L74.00 407.61L74.50 407.14L75.00 407.39L75.50 407.37L76.00 407.53L76.50 407.22L77.00 407.26L77.50 407.18L78.00 407.44L78.50 407.45L79.00 407.10L79.50 407.21L80.00 407.22L80.50 407.67L81.00 407.37L81.50 407.44L82.00 407.27L82.50 407.50L83.00 407.59L83.50 407.50L84.00 407.10L84.50 407.36L85.00 407.39L85.50 407.13L86.00 407.57L86.50 407.29L87.00 407.28L87.50 407.48L88.00 407.45L88.50 407.40L89.00 407.62L89.50 407.41L90.00 407.31L90.50 407.14L91.00 407.43L91.50 407.32L92.00 407.42L92.50 407.31L93.00 407.10L93.50 407.12L94.00 407.19L94.50 407.16L95.00 407.61L95.50 407.45L96.00 407.24L96.50 407.53L97.00 407.48L97.50 407.14L98.00 407.55L98.50 407.24L99.00 407.70L99.50 407.19L100.00 407.40L100.50 407.27L101.00 407.25L101.50 407.62L102.00 407.59L102.50 407.44L103.00 407.18L103.50 407.35L104.00 407.51L104.50 407.12L105.00 407.63L105.50 407.58L106.00 407.63L106.50 407.49L107.00 407.44L107.50 407.65L108.00 407.22L108.50 407.23L109.00 407.12L109.50 407.15L110.00 407.51L110.50 407.08L111.00 407.46L111.50 407.25L112.00 407.53L112.50 407.45L113.00 407.40L113.50 407.48L114.00 406.99L114.50 407.12L115.00 407.17L115.50 407.20L116.00 407.33L116.50 407.45L117.00 407.35L117.50 407.45L118.00 407.30L118.50 407.09L119.00 407.17L119.50 407.30L120.00 407.33L120.50 407.05L121.00 407.03L121.50 407.17L122.00 406.93L122.50 407.31L123.00 406.76L123.50 407.14L124.00 407.03L124.50 406.84L125.00 407.05L125.50 406.98L126.00 407.26L126.50 407.19L127.00 407.00L127.50 407.16L128.00 407.15L128.50 406.70L129.00 407.08L129.50 407.07L130.00 407.15L130.50 406.99L131.00 406.76L131.50 406.63L132.00 406.88L132.50 406.60L133.00 406.91L133.50 406.78L134.00 406.91L134.50 406.62L135.00 406.57L135.50 406.91L136.00 406.75L136.50 406.56L137.00 406.65L137.50 406.55L138.00 406.66L138.50 406.57L139.00 406.41L139.50 406.81L140.00 406.50L140.50 406.71L141.00 406.62L141.50 406.31L142.00 406.24L142.50 406.54L143.00 406.57L143.50 406.45L144.00 406.16L144.50 406.43L145.00 406.29L145.50 406.16L146.00 406.26L146.50 406.14L147.00 406.22L147.50 406.23L148.00 406.32L148.50 405.75L149.00 405.97L149.50 406.13L150.00 405.80L150.50 405.78L151.00 405.53L151.50 405.43L152.00 404.61L152.50 404.69L153.00 404.18L153.50 403.73L154.00 403.12L154.50 402.88L155.00 402.17L155.50 402.03L156.00 401.53L156.30 401.50L156.50 401.64L157.00 401.25L157.50 400.74L158.00 400.65L158.50 400.26L158.80 400.30L159.00 400.35L159.50 400.45L160.00 401.40L160.50 401.91L161.00 402.33L161.40 402.30L161.50 401.96L162.00 399.96L162.50 395.33L163.00 392.00L163.50 389.20L164.00 386.44L164.50 384.51L164.70 384.60L165.00 385.58L165.50 390.44L166.00 395.00L166.50 399.23L167.00 402.31L167.20 402.80L167.50 402.96L168.00 402.53L168.50 402.60L169.00 401.98L169.50 401.44L170.00 401.64L170.50 400.82L171.00 400.73L171.50 400.80L172.00 401.03L172.50 400.80L173.00 401.31L173.50 401.82L174.00 402.00L174.50 402.20L175.00 402.78L175.30 402.80L175.50 403.11L176.00 403.30L176.50 403.70L177.00 403.91L177.50 404.36L178.00 405.09L178.50 405.43L179.00 405.14L179.50 405.47L180.00 405.61L180.30 405.80L180.50 405.97L181.00 405.57L181.50 405.46L182.00 405.68L182.50 405.16L183.00 405.45L183.50 404.92L184.00 404.94L184.50 404.65L185.00 404.03L185.40 404.00L185.50 404.12L186.00 403.53L186.50 402.92L187.00 402.25L187.50 402.06L188.00 401.41L188.50 400.76L189.00 400.71L189.50 400.14L189.70 400.30L190.00 400.35L190.50 400.58L191.00 401.39L191.50 402.38L192.00 402.65L192.40 402.80L192.50 402.59L193.00 402.41L193.50 402.19L194.00 401.32L194.50 400.96L195.00 399.72L195.50 399.54L196.00 398.88L196.50 398.72L196.70 398.50L197.00 398.44L197.50 398.44L198.00 398.79L198.50 399.43L199.00 399.50L199.50 399.99L200.00 400.81L200.50 401.24L201.00 401.52L201.50 401.67L201.80 401.50L202.00 401.53L202.50 401.64L203.00 401.37L203.50 401.08L204.00 400.75L204.50 400.23L205.00 399.98L205.50 399.81L206.00 399.69L206.50 399.28L207.00 399.65L207.50 399.35L207.60 399.30L208.00 399.54L208.50 399.99L209.00 400.13L209.50 401.18L210.00 401.92L210.50 402.16L211.00 402.62L211.50 403.38L211.90 403.30L212.00 403.53L212.50 403.46L213.00 403.17L213.50 403.21L214.00 402.82L214.50 402.78L215.00 402.77L215.50 402.83L216.00 402.31L216.50 402.68L217.00 402.30L217.50 401.88L218.00 402.27L218.50 401.64L219.00 401.79L219.50 401.59L220.00 401.49L220.50 401.03L221.00 401.04L221.50 400.71L222.00 400.80L222.50 401.59L223.00 402.57L223.50 404.73L224.00 406.00L224.50 406.60L225.00 406.41L225.50 407.00L226.00 406.69L226.50 406.60L227.00 406.77L227.50 406.68L228.00 406.88L228.50 407.18L229.00 407.38L229.50 407.20L230.00 407.36L230.50 407.37L231.00 407.33L231.50 407.15L232.00 407.09L232.50 407.05L233.00 407.30L233.50 407.10L234.00 407.43L234.50 407.19L235.00 407.34L235.50 407.33L235.90 407.30L236.00 407.38L236.50 407.09L237.00 407.14L237.50 407.38L238.00 407.08L238.50 407.32L239.00 407.47L239.50 407.09L240.00 407.40L240.50 407.15L241.00 407.30L241.50 407.01L242.00 407.09L242.50 407.00L243.00 406.66L243.50 406.81L244.00 406.79L244.50 406.67L245.00 406.74L245.50 406.85L246.00 406.73L246.50 406.70L247.00 406.26L247.50 406.56L248.00 406.48L248.50 406.64L249.00 406.05L249.50 406.13L250.00 406.60L250.50 406.23L251.00 406.30L251.50 406.43L252.00 406.36L252.50 406.25L253.00 406.29L253.50 406.38L254.00 406.64L254.50 406.39L255.00 406.57L255.50 406.30L256.00 406.56L256.50 406.53L257.00 406.64L257.50 406.74L258.00 406.29L258.50 406.86L259.00 406.67L259.50 406.49L260.00 406.65L260.50 406.46L261.00 406.57L261.50 406.97L262.00 406.92L262.50 407.04L263.00 406.65L263.50 406.65L264.00 406.84L264.50 406.94L265.00 407.09L265.50 406.87L266.00 407.15L266.50 407.08L267.00 406.92L267.50 407.23L268.00 406.82L268.50 407.14L269.00 406.91L269.50 406.82L270.00 407.10L270.50 407.09L271.00 407.11L271.50 407.17L272.00 407.03L272.50 407.36L273.00 407.27L273.50 406.89L274.00 406.80L274.50 407.38L275.00 407.05L275.50 406.86L276.00 406.91L276.50 407.22L277.00 406.91L277.50 407.02L278.00 407.21L278.50 407.01L279.00 407.19L279.50 407.37L280.00 407.28L280.50 407.18L281.00 407.18L281.50 406.99L282.00 407.18L282.50 407.19L283.00 407.15L283.50 407.09L284.00 407.25L284.50 406.92L285.00 407.23L285.30 407.10L285.50 407.39L286.00 406.82L286.50 406.95L287.00 407.38L287.50 406.84L288.00 407.27L288.50 407.12L289.00 406.81L289.50 407.13L290.00 406.75L290.50 407.24L291.00 406.89L291.50 407.25L292.00 407.22L292.50 406.74L293.00 406.88L293.50 406.71L294.00 407.04L294.50 406.62L295.00 406.58L295.50 406.57L296.00 406.99L296.50 406.59L297.00 406.60L297.50 406.63L298.00 406.66L298.50 406.54L299.00 406.81L299.50 406.40L300.00 406.44L300.50 406.62L301.00 406.20L301.50 406.10L302.00 406.45L302.50 406.08L303.00 406.36L303.50 406.26L304.00 405.93L304.50 405.84L305.00 405.63L305.50 405.80L306.00 405.86L306.50 405.28L307.00 404.78L307.50 404.17L308.00 403.65L308.50 403.49L309.00 402.55L309.50 402.41L310.00 402.17L310.50 402.00L311.00 402.06L311.50 402.18L312.00 402.31L312.50 402.43L313.00 403.10L313.50 403.45L314.00 403.55L314.50 403.66L315.00 404.33L315.50 404.13L316.00 404.29L316.50 404.66L316.80 404.60L317.00 404.79L317.50 404.58L318.00 404.19L318.50 404.55L319.00 403.86L319.50 403.73L320.00 403.84L320.50 403.43L321.00 403.09L321.50 402.36L322.00 402.49L322.50 401.89L323.00 401.33L323.20 401.50L323.50 401.47L324.00 401.13L324.50 400.10L325.00 399.79L325.50 399.48L326.00 398.56L326.50 397.99L327.00 397.76L327.50 397.12L328.00 397.10L328.50 396.79L329.00 396.50L329.50 396.84L330.00 397.10L330.50 397.31L331.00 398.26L331.50 398.93L332.00 399.64L332.50 400.46L333.00 401.01L333.30 401.50L333.50 401.57L334.00 402.71L334.50 403.17L335.00 403.82L335.50 405.09L336.00 405.44L336.50 405.99L337.00 406.00L337.10 406.10L337.50 405.89L338.00 405.99L338.50 406.28L339.00 405.94L339.50 406.30L340.00 405.91L340.50 406.24L341.00 405.78L341.50 405.90L342.00 405.66L342.50 405.62L343.00 405.79L343.50 405.63L344.00 405.66L344.50 405.39L345.00 405.36L345.50 405.27L345.90 405.30L346.00 405.51L346.50 404.51L347.00 403.77L347.50 402.82L348.00 401.32L348.50 400.00L349.00 398.26L349.50 396.86L350.00 395.10L350.20 395.20L350.50 395.42L351.00 397.49L351.50 400.47L352.00 402.72L352.20 402.80L352.50 402.82L353.00 403.04L353.50 403.54L354.00 403.27L354.50 403.38L355.00 403.88L355.50 403.62L356.00 403.95L356.50 403.76L357.00 404.06L357.30 404.00L357.50 404.18L358.00 403.60L358.50 402.87L359.00 402.30L359.50 401.53L360.00 400.39L360.50 399.92L361.00 399.73L361.10 399.80L361.50 399.93L362.00 400.26L362.50 401.20L363.00 401.82L363.50 403.11L364.00 403.63L364.50 404.25L364.90 404.80L365.00 404.62L365.50 405.00L366.00 405.40L366.50 406.11L367.00 406.11L367.50 406.35L368.00 406.81L368.50 406.88L368.60 406.60L369.00 406.75L369.50 406.41L370.00 406.42L370.50 406.46L371.00 406.23L371.50 406.18L372.00 405.99L372.50 405.88L373.00 406.05L373.50 405.81L374.00 405.55L374.50 405.40L375.00 405.30L375.50 405.16L376.00 404.57L376.50 404.87L376.90 404.50L377.00 404.43L377.50 404.06L378.00 404.02L378.50 403.40L379.00 402.59L379.50 401.80L380.00 401.44L380.50 400.86L381.00 400.28L381.50 399.65L382.00 399.57L382.50 399.14L383.00 399.20L383.50 399.44L384.00 399.51L384.50 399.65L385.00 400.25L385.50 400.25L386.00 400.15L386.10 400.40L386.50 399.77L387.00 397.93L387.50 395.74L388.00 393.46L388.50 391.30L388.60 390.70L389.00 389.41L389.50 387.30L390.00 385.76L390.50 384.71L390.80 384.70L391.00 384.77L391.50 386.36L392.00 388.31L392.50 391.05L392.70 391.90L393.00 393.12L393.50 395.65L394.00 398.16L394.50 399.99L395.00 401.50L395.10 401.60L395.50 402.00L396.00 402.71L396.50 403.33L397.00 403.41L397.50 404.03L398.00 404.28L398.50 404.26L398.70 404.50L399.00 404.41L399.50 404.84L400.00 404.64L400.50 404.63L401.00 404.77L401.50 404.99L402.00 404.99L402.50 405.03L403.00 405.07L403.50 405.07L404.00 405.30L404.50 405.42L405.00 405.16L405.50 405.51L406.00 405.38L406.50 405.83L407.00 405.84L407.50 405.39L408.00 405.76L408.50 405.58L409.00 405.47L409.50 405.95L410.00 405.99L410.50 405.93L411.00 405.85L411.50 406.07L412.00 405.82L412.50 405.90L413.00 405.89L413.30 405.80L413.50 406.02L414.00 406.01L414.50 405.67L415.00 405.60L415.50 405.79L416.00 405.79L416.50 405.62L417.00 405.90L417.50 405.86L418.00 405.72L418.50 405.59L419.00 405.64L419.50 405.28L420.00 405.59L420.50 405.12L421.00 405.52L421.50 405.29L422.00 405.00L422.50 404.87L423.00 405.03L423.50 404.86L424.00 404.91L424.50 404.45L425.00 404.81L425.40 404.50L425.50 404.43L426.00 404.23L426.50 404.09L427.00 403.61L427.50 403.05L428.00 402.46L428.50 402.06L429.00 401.60L429.50 400.77L430.00 400.23L430.50 399.87L431.00 398.79L431.50 398.26L432.00 398.44L432.20 398.20L432.50 398.24L433.00 398.98L433.50 400.00L434.00 401.19L434.50 401.95L435.00 402.89L435.10 402.80L435.50 402.74L436.00 403.53L436.50 403.46L437.00 403.89L437.50 403.90L438.00 404.34L438.50 404.25L439.00 404.49L439.50 404.38L439.90 404.50L440.00 404.70L440.50 404.56L441.00 404.00L441.50 404.02L442.00 403.76L442.50 402.93L443.00 402.50L443.50 402.56L444.00 402.26L444.50 401.52L445.00 401.78L445.20 401.60L445.50 401.88L446.00 401.59L446.50 402.09L447.00 402.06L447.50 402.67L448.00 402.86L448.50 403.22L449.00 403.40L449.50 404.09L450.00 404.48L450.50 404.56L451.00 404.69L451.50 404.93L452.00 405.30L452.50 405.24L453.00 405.76L453.50 405.68L454.00 405.84L454.50 405.82L455.00 405.51L455.50 405.72L456.00 406.10L456.50 406.09L457.00 406.21L457.50 406.14L458.00 406.10L458.50 406.15L459.00 406.25L459.30 406.00L459.50 405.96L460.00 405.70L460.50 405.84L461.00 405.61L461.50 405.71L462.00 405.83L462.50 405.57L463.00 405.48L463.50 405.32L464.00 405.41L464.50 405.44L465.00 405.43L465.50 405.60L466.00 405.05L466.50 405.30L467.00 405.17L467.50 405.13L468.00 405.73L468.50 405.68L469.00 405.84L469.50 406.11L470.00 405.80L470.50 406.54L471.00 406.50" stroke="#0000ff" stroke-width="1.9" fill="none" stroke-linejoin="round"/>
<path d="M46.00 381.50L46.50 381.42L47.00 381.63L47.50 381.51L48.00 381.74L48.50 381.49L49.00 381.50L49.50 381.50L50.00 381.80L50.50 381.65L51.00 381.49L51.50 381.62L52.00 381.76L52.50 381.65L53.00 381.80L53.50 381.95L54.00 381.84L54.50 381.95L55.00 381.65L55.50 382.00L56.00 382.05L56.50 381.80L57.00 381.50L57.50 381.55L58.00 381.95L58.50 382.02L59.00 381.93L59.50 381.80L60.00 381.80L60.50 381.82L61.00 381.57L61.50 381.85L62.00 382.09L62.50 381.61L63.00 381.85L63.50 381.98L64.00 381.85L64.50 381.66L65.00 381.58L65.50 381.86L66.00 381.96L66.50 381.91L67.00 381.61L67.50 381.79L68.00 381.81L68.50 381.52L69.00 381.72L69.50 381.47L70.00 381.50L70.50 381.21L71.00 380.86L71.50 380.97L72.00 380.59L72.50 380.00L73.00 378.96L73.50 377.86L74.00 377.02L74.50 376.70L75.00 377.04L75.50 378.53L76.00 379.49L76.50 380.50L77.00 380.95L77.50 381.28L78.00 381.44L78.50 381.93L79.00 381.80L79.50 381.78L80.00 381.85L80.50 381.96L81.00 381.82L81.50 381.70L82.00 382.18L82.50 382.07L83.00 381.96L83.50 381.94L84.00 382.02L84.50 381.84L85.00 381.71L85.50 382.00L86.00 382.22L86.50 381.74L87.00 382.28L87.50 381.92L88.00 382.29L88.50 382.16L89.00 381.86L89.50 381.83L90.00 382.00L90.50 382.17L91.00 382.06L91.50 381.73L92.00 381.35L92.50 381.09L93.00 381.06L93.50 381.00L93.60 380.80L94.00 381.09L94.50 381.05L95.00 381.74L95.50 382.14L96.00 382.00L96.50 382.04L97.00 381.70L97.50 381.81L98.00 382.08L98.50 381.93L99.00 382.22L99.50 382.04L100.00 382.06L100.50 381.71L101.00 381.91L101.50 382.00L102.00 382.10L102.50 382.06L103.00 381.64L103.50 381.75L104.00 381.99L104.50 381.41L105.00 381.35L105.50 381.37L106.00 381.50L106.50 381.38L107.00 380.56L107.50 379.99L108.00 379.14L108.50 378.00L109.00 376.89L109.50 374.72L110.00 373.50L110.50 372.58L110.70 372.30L111.00 372.75L111.50 374.45L112.00 376.52L112.50 378.00L113.00 379.25L113.50 380.54L114.00 381.19L114.50 381.50L115.00 381.26L115.50 381.37L116.00 381.76L116.50 381.40L117.00 381.48L117.50 381.72L118.00 381.61L118.50 381.67L119.00 381.48L119.50 381.50L120.00 381.25L120.50 381.32L121.00 381.29L121.50 381.52L122.00 381.52L122.50 381.24L123.00 381.58L123.50 381.26L124.00 381.43L124.50 381.22L125.00 381.49L125.50 381.29L126.00 381.76L126.50 381.42L127.00 381.70L127.50 381.47L128.00 381.40L128.50 381.70L129.00 381.36L129.50 381.51L130.00 381.50L130.50 381.58L131.00 381.80L131.50 381.62L132.00 381.23L132.50 381.47L133.00 381.77L133.50 381.71L134.00 381.41L134.50 381.27L135.00 381.35L135.50 381.64L136.00 381.29L136.50 381.72L137.00 381.34L137.50 381.59L138.00 381.59L138.50 381.31L139.00 381.47L139.50 381.53L140.00 381.31L140.50 381.47L141.00 381.52L141.50 381.71L142.00 381.30L142.50 381.23L143.00 381.42L143.50 381.47L144.00 381.40L144.50 381.65L145.00 381.21L145.50 381.39L146.00 381.36L146.50 381.19L147.00 381.33L147.50 381.32L148.00 381.27L148.50 381.49L149.00 381.61L149.50 381.59L150.00 381.30L150.50 381.12L151.00 381.19L151.50 381.51L152.00 380.96L152.50 380.93L153.00 380.86L153.50 381.34L154.00 381.00L154.50 380.89L155.00 380.61L155.50 380.04L156.00 379.97L156.50 379.00L157.00 373.19L157.50 359.62L157.80 350.00L158.00 342.72L158.50 315.96L158.75 300.00L159.00 279.55L159.10 272.00L159.30 260.00L159.50 272.00L159.85 300.00L160.00 309.46L160.50 337.60L160.80 350.00L161.00 356.38L161.50 370.69L162.00 379.00L162.50 382.18L162.80 383.20L163.00 382.92L163.50 383.40L164.00 383.29L164.50 383.16L165.00 382.75L165.50 382.65L166.00 382.50L166.50 382.18L167.00 381.73L167.50 380.71L168.00 380.09L168.50 379.47L169.00 379.00L169.50 378.92L170.00 378.35L170.50 377.89L171.00 377.91L171.50 378.02L172.00 377.47L172.50 377.68L172.70 377.60L173.00 377.43L173.50 377.77L174.00 378.36L174.50 378.44L175.00 379.00L175.50 379.21L176.00 379.53L176.50 379.62L177.00 380.03L177.50 380.24L177.80 380.10L178.00 380.01L178.50 380.40L179.00 380.49L179.50 380.47L180.00 380.54L180.50 380.58L181.00 380.73L181.50 380.71L181.60 380.60L182.00 380.39L182.50 380.37L183.00 379.99L183.50 379.31L184.00 378.97L184.10 378.60L184.50 377.73L185.00 376.37L185.50 374.53L186.00 372.62L186.50 370.61L186.60 370.50L187.00 369.31L187.50 367.20L188.00 365.74L188.50 364.31L189.00 363.69L189.20 363.50L189.50 363.85L190.00 364.60L190.50 365.17L190.80 366.00L191.00 366.83L191.50 368.83L192.00 371.06L192.40 371.80L192.50 371.48L193.00 370.63L193.50 367.70L194.00 365.00L194.50 361.62L195.00 357.90L195.50 353.44L196.00 348.57L196.50 343.88L197.00 340.00L197.50 336.11L198.00 332.88L198.50 331.40L199.00 333.29L199.50 338.18L200.00 343.73L200.50 347.80L201.00 351.39L201.50 354.43L202.00 357.59L202.50 359.73L203.00 360.40L203.50 360.44L204.00 359.97L204.50 359.42L205.00 359.22L205.50 358.53L206.00 357.66L206.50 357.13L206.80 356.60L207.00 356.00L207.50 355.19L208.00 353.69L208.50 352.09L209.00 350.13L209.50 349.49L209.90 349.10L210.00 349.32L210.50 350.36L211.00 353.17L211.50 355.34L211.90 356.60L212.00 356.54L212.50 356.96L213.00 357.59L213.50 358.34L214.00 358.53L214.50 358.94L215.00 359.26L215.50 358.92L216.00 359.40L216.20 359.20L216.50 359.35L217.00 358.67L217.50 357.55L218.00 356.21L218.50 354.89L219.00 353.22L219.50 351.60L220.00 349.11L220.50 346.20L221.00 342.87L221.50 340.00L222.00 337.35L222.50 334.87L223.00 333.42L223.30 333.10L223.50 334.01L224.00 340.42L224.30 345.00L224.50 348.37L225.00 358.34L225.30 363.00L225.50 365.79L226.00 372.05L226.50 377.54L227.00 380.48L227.10 380.60L227.50 381.04L228.00 381.50L228.50 382.06L229.00 382.58L229.50 382.79L230.00 382.70L230.50 382.58L231.00 382.72L231.50 382.44L232.00 382.76L232.50 382.67L233.00 382.86L233.50 382.92L234.00 382.43L234.50 382.98L235.00 382.50L235.50 382.98L236.00 382.99L236.50 382.53L237.00 382.57L237.50 382.49L238.00 382.95L238.50 382.85L239.00 382.98L239.50 382.88L240.00 382.62L240.50 382.86L241.00 382.61L241.50 382.60L242.00 382.66L242.50 382.82L243.00 382.59L243.50 382.74L244.00 382.74L244.50 382.88L245.00 382.70L245.50 382.57L246.00 382.25L246.50 381.90L247.00 381.32L247.50 380.93L248.00 380.00L248.50 379.56L249.00 379.09L249.50 379.09L249.80 379.10L250.00 379.32L250.50 379.30L251.00 379.56L251.50 380.04L252.00 380.31L252.50 380.32L253.00 380.56L253.50 380.95L254.00 381.00L254.50 380.84L255.00 381.06L255.50 380.75L256.00 380.93L256.50 381.13L257.00 380.85L257.50 380.79L258.00 381.15L258.50 380.82L259.00 381.24L259.50 381.07L260.00 381.00L260.50 381.23L261.00 381.02L261.50 381.00L262.00 380.87L262.50 380.76L263.00 381.31L263.50 380.88L264.00 380.81L264.50 381.33L265.00 381.11L265.50 381.16L266.00 381.38L266.50 381.29L267.00 381.02L267.50 381.06L268.00 381.31L268.50 381.34L269.00 381.10L269.50 381.14L270.00 381.32L270.50 381.07L271.00 381.55L271.50 381.48L272.00 381.21L272.50 381.49L273.00 381.52L273.50 381.25L274.00 381.48L274.50 381.72L275.00 381.55L275.50 381.74L276.00 381.46L276.50 381.95L277.00 381.77L277.50 381.73L278.00 381.43L278.50 381.65L279.00 381.46L279.50 381.74L280.00 381.60L280.50 381.66L281.00 381.71L281.50 381.63L282.00 381.73L282.50 381.87L283.00 381.66L283.50 381.92L284.00 382.16L284.50 382.03L285.00 382.17L285.30 381.90L285.50 381.66L286.00 381.94L286.50 381.59L287.00 381.86L287.50 381.42L288.00 381.34L288.50 381.13L289.00 380.48L289.50 380.18L290.00 380.32L290.50 380.03L291.00 379.51L291.50 378.98L292.00 378.71L292.50 378.92L292.80 378.60L293.00 378.62L293.50 378.17L294.00 378.07L294.50 377.85L295.00 377.05L295.50 377.19L296.00 377.02L296.50 376.67L297.00 376.42L297.50 375.94L298.00 375.86L298.50 375.44L299.00 375.78L299.20 375.60L299.50 375.76L300.00 375.98L300.50 376.36L301.00 377.16L301.50 378.03L302.00 379.00L302.50 379.20L303.00 379.40L303.50 379.60L304.00 379.12L304.50 379.04L305.00 378.86L305.50 378.68L306.00 378.72L306.50 378.16L306.70 378.10L307.00 377.32L307.50 374.76L308.00 370.64L308.50 366.69L309.00 363.12L309.30 361.70L309.50 361.29L310.00 359.57L310.50 358.24L311.00 357.27L311.50 357.00L311.80 356.60L312.00 356.99L312.50 357.97L313.00 360.00L313.50 362.13L314.00 364.75L314.30 365.50L314.50 366.10L315.00 367.34L315.50 368.56L316.00 370.04L316.50 371.34L317.00 372.01L317.50 372.66L318.00 373.10L318.10 373.10L318.50 373.06L319.00 372.64L319.50 372.46L320.00 372.35L320.50 372.19L321.00 371.57L321.50 370.87L322.00 370.50L322.50 369.92L323.00 369.69L323.20 369.30L323.50 368.73L324.00 368.25L324.50 366.66L325.00 365.24L325.50 363.68L326.00 362.45L326.50 360.98L327.00 359.74L327.50 358.44L327.70 357.90L328.00 357.28L328.50 355.84L329.00 355.18L329.50 353.60L330.00 352.51L330.50 351.52L331.00 351.02L331.50 350.57L332.00 350.30L332.50 350.46L333.00 351.18L333.50 352.15L334.00 353.90L334.50 355.40L335.00 358.21L335.50 362.08L336.00 367.00L336.50 371.89L337.00 375.27L337.10 375.60L337.50 377.04L338.00 379.52L338.50 381.04L339.00 382.25L339.50 382.58L339.60 382.70L340.00 382.98L340.50 382.67L341.00 382.78L341.50 382.99L342.00 382.90L342.50 382.51L343.00 382.48L343.50 382.53L344.00 382.47L344.50 382.93L345.00 382.73L345.50 382.69L345.90 382.70L346.00 382.62L346.50 382.60L347.00 382.35L347.50 382.23L348.00 381.69L348.50 381.58L349.00 381.19L349.50 380.86L350.00 380.51L350.50 379.97L351.00 380.10L351.50 380.13L352.00 380.57L352.50 380.58L353.00 381.06L353.50 381.23L354.00 381.98L354.50 382.04L355.00 382.35L355.50 382.82L356.00 382.70L356.50 382.45L357.00 382.39L357.50 382.63L358.00 382.63L358.50 382.41L359.00 382.55L359.50 382.74L360.00 382.78L360.50 382.76L361.00 382.64L361.50 382.16L362.00 382.28L362.50 382.27L363.00 381.96L363.50 382.35L364.00 381.98L364.50 382.21L365.00 382.07L365.50 381.74L366.00 381.70L366.50 381.68L367.00 381.43L367.50 381.23L368.00 381.38L368.50 381.16L369.00 381.07L369.50 381.28L370.00 381.14L370.50 380.83L371.00 380.48L371.50 380.81L372.00 380.38L372.10 380.50L372.50 380.10L373.00 380.18L373.50 379.93L374.00 379.27L374.50 379.30L375.00 379.45L375.50 379.95L376.00 380.09L376.50 380.28L377.00 380.50L377.50 380.14L378.00 379.65L378.50 379.57L379.00 378.84L379.40 378.10L379.50 377.76L380.00 376.95L380.50 375.24L381.00 374.06L381.50 372.52L382.00 371.87L382.30 371.60L382.50 371.70L383.00 372.19L383.50 373.81L384.00 375.41L384.50 376.50L385.00 377.53L385.40 378.10L385.50 377.96L386.00 378.19L386.50 378.24L387.00 377.77L387.50 377.80L388.00 377.43L388.50 376.84L388.60 376.90L389.00 375.94L389.50 373.77L390.00 370.59L390.50 368.00L391.00 365.53L391.50 364.10L392.00 366.29L392.50 370.00L393.00 374.96L393.40 378.10L393.50 378.28L394.00 379.22L394.50 379.96L395.00 380.56L395.50 380.66L396.00 380.96L396.30 381.00L396.50 380.98L397.00 380.76L397.50 381.17L398.00 381.28L398.50 381.04L399.00 380.95L399.50 380.92L400.00 380.97L400.50 380.92L401.00 380.86L401.50 381.27L402.00 380.92L402.50 380.83L403.00 381.10L403.50 380.70L404.00 380.91L404.50 381.04L405.00 381.19L405.50 380.88L406.00 380.73L406.50 381.28L407.00 380.71L407.50 380.95L408.00 381.01L408.40 381.00L408.50 381.29L409.00 380.91L409.50 380.83L410.00 380.85L410.50 380.89L411.00 380.73L411.50 381.16L412.00 380.90L412.50 381.00L413.00 380.69L413.50 380.88L414.00 380.99L414.50 380.54L415.00 380.93L415.50 380.47L416.00 380.68L416.50 380.76L417.00 380.42L417.50 380.64L418.00 380.26L418.50 380.22L419.00 380.45L419.50 380.19L420.00 379.80L420.50 380.00L421.00 379.72L421.50 379.87L422.00 379.67L422.50 379.41L423.00 379.77L423.50 379.37L424.00 379.59L424.50 379.14L425.00 378.89L425.50 378.88L426.00 378.95L426.50 378.81L427.00 378.41L427.50 378.00L428.00 377.94L428.50 377.53L429.00 377.40L429.50 376.82L430.00 375.77L430.50 374.79L431.00 374.36L431.50 373.46L432.00 372.69L432.20 372.80L432.50 373.03L433.00 373.51L433.50 375.24L434.00 376.46L434.50 377.65L435.00 378.04L435.10 378.10L435.50 378.01L436.00 378.03L436.50 377.41L437.00 376.87L437.50 376.45L438.00 376.49L438.50 375.71L438.70 375.70L439.00 375.23L439.50 375.13L440.00 374.45L440.50 374.18L441.00 373.93L441.50 373.16L442.00 372.85L442.50 372.76L443.00 372.39L443.50 372.12L444.00 371.43L444.50 371.89L444.70 371.60L445.00 371.68L445.50 371.65L446.00 372.55L446.50 372.56L447.00 373.70L447.50 373.82L448.00 374.57L448.50 375.52L449.00 376.27L449.50 376.85L449.60 376.90L450.00 377.53L450.50 377.72L451.00 378.72L451.50 379.09L452.00 380.01L452.50 380.24L453.00 380.56L453.20 380.50L453.50 380.34L454.00 380.90L454.50 380.61L455.00 380.65L455.50 380.86L456.00 381.15L456.50 380.95L457.00 381.10L457.50 381.25L458.00 381.09L458.50 381.07L459.00 381.29L459.50 381.52L460.00 381.55L460.50 381.31L461.00 381.61L461.50 381.75L462.00 381.70L462.50 381.42L463.00 381.35L463.50 381.94L464.00 381.79L464.50 381.54L465.00 381.83L465.50 381.74L466.00 381.78L466.50 381.70L467.00 381.61L467.50 381.79L468.00 381.60L468.50 381.59L469.00 381.53L469.50 381.75L470.00 381.79L470.50 381.41L471.00 381.50" stroke="#000000" stroke-width="1.9" fill="none" stroke-linejoin="round"/>
<rect x="45.7" y="258" width="425.3" height="244" fill="none" stroke="#000" stroke-width="1.6"/>
<line x1="126.0" y1="502" x2="126.0" y2="499" stroke="#000" stroke-width="1.3"/>
<line x1="126.0" y1="258" x2="126.0" y2="261" stroke="#000" stroke-width="1.3"/>
<line x1="206.3" y1="502" x2="206.3" y2="499" stroke="#000" stroke-width="1.3"/>
<line x1="206.3" y1="258" x2="206.3" y2="261" stroke="#000" stroke-width="1.3"/>
<line x1="286.6" y1="502" x2="286.6" y2="499" stroke="#000" stroke-width="1.3"/>
<line x1="286.6" y1="258" x2="286.6" y2="261" stroke="#000" stroke-width="1.3"/>
<line x1="366.9" y1="502" x2="366.9" y2="499" stroke="#000" stroke-width="1.3"/>
<line x1="366.9" y1="258" x2="366.9" y2="261" stroke="#000" stroke-width="1.3"/>
<line x1="447.2" y1="502" x2="447.2" y2="499" stroke="#000" stroke-width="1.3"/>
<line x1="447.2" y1="258" x2="447.2" y2="261" stroke="#000" stroke-width="1.3"/>
<text x="45.7" y="521.8" text-anchor="middle" font-size="14.8" style="font-family:&quot;Liberation Sans&quot;,sans-serif">100</text>
<text x="126.0" y="521.8" text-anchor="middle" font-size="14.8" style="font-family:&quot;Liberation Sans&quot;,sans-serif">200</text>
<text x="206.3" y="521.8" text-anchor="middle" font-size="14.8" style="font-family:&quot;Liberation Sans&quot;,sans-serif">300</text>
<text x="286.6" y="521.8" text-anchor="middle" font-size="14.8" style="font-family:&quot;Liberation Sans&quot;,sans-serif">400</text>
<text x="366.9" y="521.8" text-anchor="middle" font-size="14.8" style="font-family:&quot;Liberation Sans&quot;,sans-serif">500</text>
<text x="447.2" y="521.8" text-anchor="middle" font-size="14.8" style="font-family:&quot;Liberation Sans&quot;,sans-serif">600</text>
<line x1="45.7" y1="441.0" x2="48.7" y2="441.0" stroke="#000" stroke-width="1.3"/>
<line x1="471" y1="441.0" x2="468" y2="441.0" stroke="#000" stroke-width="1.3"/>
<line x1="45.7" y1="380.0" x2="48.7" y2="380.0" stroke="#000" stroke-width="1.3"/>
<line x1="471" y1="380.0" x2="468" y2="380.0" stroke="#000" stroke-width="1.3"/>
<line x1="45.7" y1="319.0" x2="48.7" y2="319.0" stroke="#000" stroke-width="1.3"/>
<line x1="471" y1="319.0" x2="468" y2="319.0" stroke="#000" stroke-width="1.3"/>
<text x="40.8" y="507.8" text-anchor="end" font-size="15" style="font-family:&quot;Liberation Sans&quot;,sans-serif">0</text>
<text x="40.8" y="446.8" text-anchor="end" font-size="15" style="font-family:&quot;Liberation Sans&quot;,sans-serif">20</text>
<text x="40.8" y="385.8" text-anchor="end" font-size="15" style="font-family:&quot;Liberation Sans&quot;,sans-serif">40</text>
<text x="40.8" y="324.8" text-anchor="end" font-size="15" style="font-family:&quot;Liberation Sans&quot;,sans-serif">60</text>
<text x="40.8" y="263.8" text-anchor="end" font-size="15" style="font-family:&quot;Liberation Sans&quot;,sans-serif">80</text>
<text x="49" y="280" font-weight="bold" font-size="24" style="font-family:&quot;Liberation Sans&quot;,sans-serif">d)</text>
<text x="56.3" y="368" font-size="14.4" style="font-family:&quot;Liberation Sans&quot;,sans-serif">MoSe<tspan dx="1" dy="6.8" font-size="10.5">2</tspan><tspan dy="-6.8"> ML</tspan></text>
<text x="56.5" y="403.6" font-size="14" style="font-family:&quot;Liberation Sans&quot;,sans-serif">HS 57<tspan dy="-6" font-size="11">o</tspan></text>
<text x="56.5" y="436.2" font-size="14" style="font-family:&quot;Liberation Sans&quot;,sans-serif">HS 20<tspan dy="-6" font-size="11">o</tspan></text>
<text x="56.5" y="455" font-size="14" style="font-family:&quot;Liberation Sans&quot;,sans-serif">(x4)</text>
<text x="56.3" y="488.5" font-size="14" style="font-family:&quot;Liberation Sans&quot;,sans-serif">WSe<tspan dx="0.5" dy="6.8" font-size="10.5">2</tspan><tspan dy="-6.8"> ML</tspan></text>
<text x="351.4" y="343.5" text-anchor="middle" font-size="13" style="font-family:&quot;Liberation Sans&quot;,sans-serif">480</text>
<line x1="349.6" y1="345.6" x2="349.6" y2="354" stroke="#000" stroke-width="1.5"/>
<path d="M344.6 350.6 L349.6 359.6 L354.6 350.6 L349.6 354.4 Z" fill="#000" stroke="#000" stroke-width="0.7" stroke-linejoin="miter"/>
<text x="393.7" y="342.6" text-anchor="middle" font-size="13" style="font-family:&quot;Liberation Sans&quot;,sans-serif">530</text>
<line x1="392.0" y1="345.6" x2="392.0" y2="354" stroke="#000" stroke-width="1.5"/>
<path d="M387.0 350.6 L392.0 359.6 L397.0 350.6 L392.0 354.4 Z" fill="#000" stroke="#000" stroke-width="0.7" stroke-linejoin="miter"/>
<text x="434.9" y="342.6" text-anchor="middle" font-size="13" style="font-family:&quot;Liberation Sans&quot;,sans-serif">580</text>
<line x1="433.3" y1="345.6" x2="433.3" y2="354" stroke="#000" stroke-width="1.5"/>
<path d="M428.3 350.6 L433.3 359.6 L438.3 350.6 L433.3 354.4 Z" fill="#000" stroke="#000" stroke-width="0.7" stroke-linejoin="miter"/>
<text transform="translate(19.2,505.8) rotate(-90)" font-size="15.65" style="font-family:&quot;Liberation Sans&quot;,sans-serif">Raman scattering probability (x10<tspan dy="-7.2" font-size="13">-8</tspan><tspan dy="7.2">)</tspan></text>
<text x="193.2" y="546.3" font-size="15" textLength="113" lengthAdjust="spacingAndGlyphs" style="font-family:&quot;Liberation Sans&quot;,sans-serif">Raman shift (cm</text>
<text x="306.3" y="538.5" font-size="12" style="font-family:&quot;Liberation Sans&quot;,sans-serif">-1</text>
<text x="318.2" y="546.3" font-size="15" style="font-family:&quot;Liberation Sans&quot;,sans-serif">)</text>
<g fill="#fff" transform="matrix(1.0000,0.0000,0.0000,1.0000,0.000,0.000)"><rect x="26.94" y="55.82" width="3.68" height="2.13"/><rect x="32.07" y="55.82" width="3.35" height="2.13"/></g>
<g fill="#fff" transform="matrix(1.0000,0.0000,0.0000,1.0000,0.000,0.000)"><rect x="18.60" y="118.62" width="3.68" height="2.13"/><rect x="23.73" y="118.62" width="3.35" height="2.13"/></g>
<g fill="#fff" transform="matrix(1.0000,0.0000,0.0000,1.0000,0.000,0.000)"><rect x="26.94" y="181.52" width="3.68" height="2.13"/><rect x="32.07" y="181.52" width="3.35" height="2.13"/></g>
<g fill="#fff" transform="matrix(1.0000,0.0000,0.0000,1.0000,0.000,0.000)"><rect x="173.60" y="53.52" width="3.68" height="2.13"/><rect x="178.73" y="53.52" width="3.35" height="2.13"/></g>
<g fill="#fff" transform="matrix(1.0000,0.0000,0.0000,1.0000,0.000,0.000)"><rect x="181.94" y="116.42" width="3.68" height="2.13"/><rect x="187.07" y="116.42" width="3.35" height="2.13"/></g>
<g fill="#fff" transform="matrix(1.0000,0.0000,0.0000,1.0000,0.000,0.000)"><rect x="173.60" y="179.12" width="3.68" height="2.13"/><rect x="178.73" y="179.12" width="3.35" height="2.13"/></g>
<g fill="#fff" transform="matrix(1.0000,0.0000,0.0000,1.0000,0.000,0.000)"><rect x="329.60" y="71.82" width="3.68" height="2.13"/><rect x="334.73" y="71.82" width="3.35" height="2.13"/></g>
<g fill="#fff" transform="matrix(1.0000,0.0000,0.0000,1.0000,0.000,0.000)"><rect x="337.94" y="134.72" width="3.68" height="2.13"/><rect x="343.07" y="134.72" width="3.35" height="2.13"/></g>
<g fill="#fff" transform="matrix(1.0000,0.0000,0.0000,1.0000,0.000,0.000)"><rect x="329.60" y="197.52" width="3.68" height="2.13"/><rect x="334.73" y="197.52" width="3.35" height="2.13"/></g>
<g fill="#fff" transform="matrix(1.0000,0.0000,0.0000,1.0000,0.000,0.000)"><rect x="316.88" y="239.47" width="2.95" height="1.88"/><rect x="321.00" y="239.47" width="2.68" height="1.88"/></g>
<g fill="#fff" transform="matrix(1.0000,0.0000,0.0000,1.0000,0.000,0.000)"><rect x="33.35" y="520.34" width="3.63" height="2.11"/><rect x="38.41" y="520.34" width="3.30" height="2.11"/></g>
<g fill="#fff" transform="matrix(0.0000,-1.0000,1.0000,0.0000,19.200,505.800)"><rect x="215.58" y="-1.53" width="3.84" height="2.18"/><rect x="220.94" y="-1.53" width="3.50" height="2.18"/></g>
<g fill="#fff" transform="matrix(1.0000,0.0000,0.0000,1.0000,0.000,0.000)"><rect x="310.28" y="537.27" width="2.95" height="1.88"/><rect x="314.40" y="537.27" width="2.68" height="1.88"/></g>
</svg>
</body></html>
